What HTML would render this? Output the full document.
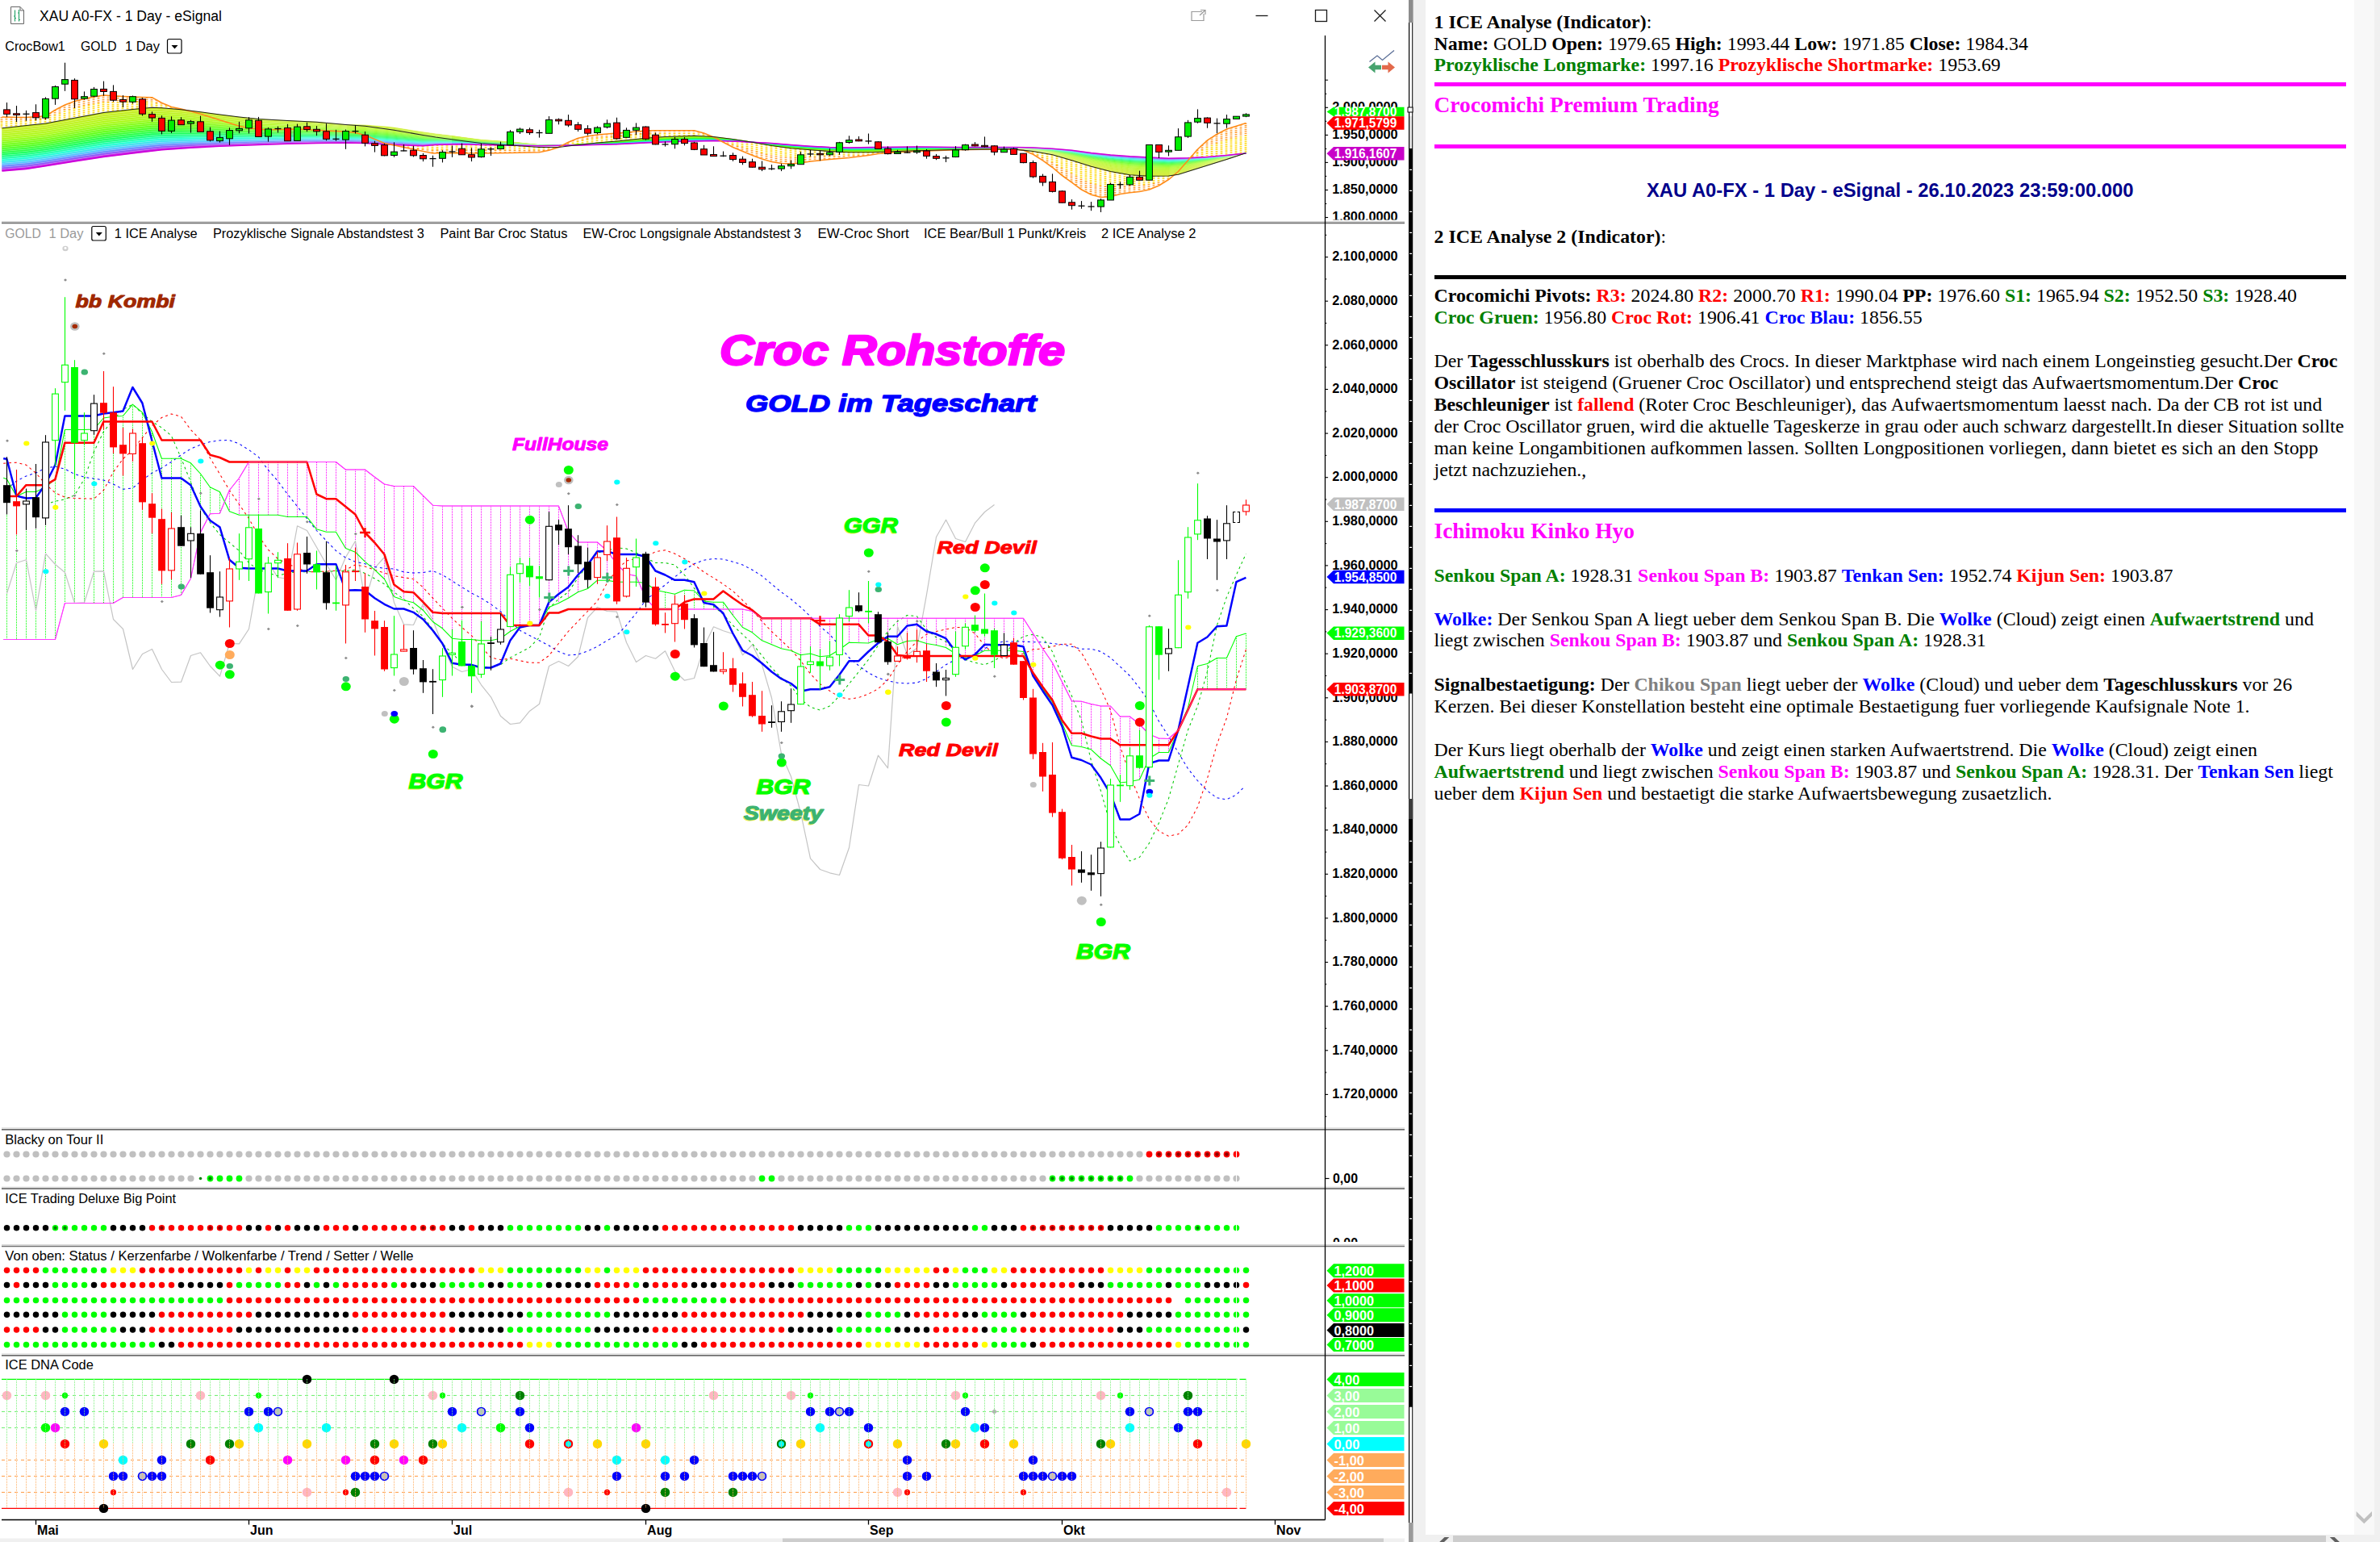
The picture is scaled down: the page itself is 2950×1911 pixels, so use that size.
<!DOCTYPE html>
<html><head><meta charset="utf-8"><title>XAU A0-FX</title>
<style>
html,body{margin:0;padding:0;background:#fff;}
body{width:2950px;height:1911px;position:relative;overflow:hidden;font-family:"Liberation Sans",sans-serif;}
#chart{position:absolute;left:0;top:0;}
#pane{position:absolute;left:1767px;top:0;width:1151px;height:1902px;background:#fff;font-family:"Liberation Serif",serif;font-size:23.86px;line-height:26.9px;color:#000;}
#pane .t{position:absolute;left:10.5px;width:1130.5px;white-space:normal;}
#pane b{font-weight:bold}
.hr{position:absolute;left:10.5px;width:1130px;height:4.6px;}
.g{color:#008000}.r{color:#ff0000}.b{color:#0000ff}.m{color:#ff00ff}.gy{color:#808080}
.h3{font-size:27.45px;font-weight:bold;color:#ff00ff;}
</style></head><body>

<div style="position:absolute;left:1751px;top:0;width:16px;height:1911px;background:#f0f0f0"></div>
<div style="position:absolute;left:2918px;top:0;width:25px;height:1911px;background:#f8f8f8"></div>
<div style="position:absolute;left:2943px;top:0;width:7px;height:1911px;background:#f0f0f0"></div>
<div style="position:absolute;left:1767px;top:1902px;width:1183px;height:9px;background:#f0f0f0"></div>
<div style="position:absolute;left:1801px;top:1903px;width:1082px;height:8px;background:#cdcdcd"></div>
<div id="pane">
<div class="t" style="top:13.6px;"><b>1 ICE Analyse (Indicator)</b>:<br><b>Name:</b> GOLD <b>Open:</b> 1979.65 <b>High:</b> 1993.44 <b>Low:</b> 1971.85 <b>Close:</b> 1984.34<br><b class="g">Prozyklische Longmarke:</b> 1997.16 <b class="r">Prozyklische Shortmarke:</b> 1953.69</div>
<div class="hr" style="top:102.4px;background:#ff00ff"></div>
<div class="t" style="top:114.5px;line-height:31px;"><span class="h3">Crocomichi Premium Trading</span></div>
<div class="hr" style="top:179.2px;background:#ff00ff"></div>
<div class="t" style="top:223px;text-align:center;"><b style="font-family:'Liberation Sans',sans-serif;font-size:23.8px;color:#00008b">XAU A0-FX - 1 Day - eSignal - 26.10.2023 23:59:00.000</b></div>
<div class="t" style="top:280.3px;"><b>2 ICE Analyse 2 (Indicator)</b>:</div>
<div class="hr" style="top:341.2px;background:#000"></div>
<div class="t" style="top:353.3px;"><b>Crocomichi Pivots:</b> <b class="r">R3:</b> 2024.80 <b class="r">R2:</b> 2000.70 <b class="r">R1:</b> 1990.04 <b>PP:</b> 1976.60 <b class="g">S1:</b> 1965.94 <b class="g">S2:</b> 1952.50 <b class="g">S3:</b> 1928.40<br><b class="g">Croc Gruen:</b> 1956.80 <b class="r">Croc Rot:</b> 1906.41 <b class="b">Croc Blau:</b> 1856.55</div>
<div class="t" style="top:434px;">Der <b>Tagesschlusskurs</b> ist oberhalb des Crocs. In dieser Marktphase wird nach einem Longeinstieg gesucht.Der <b>Croc Oscillator</b> ist steigend (Gruener Croc Oscillator) und entsprechend steigt das Aufwaertsmomentum.Der <b>Croc Beschleuniger</b> ist <b class="r">fallend</b> (Roter Croc Beschleuniger), das Aufwaertsmomentum laesst nach. Da der CB rot ist und der Croc Oscillator gruen, wird die aktuelle Tageskerze in grau oder auch schwarz dargestellt.In dieser Situation sollte man keine Longambitionen aufkommen lassen. Sollten Longpositionen vorliegen, dann bietet es sich an den Stopp jetzt nachzuziehen.,</div>
<div class="hr" style="top:630px;background:#0000ff"></div>
<div class="t" style="top:643px;line-height:31px;"><span class="h3">Ichimoku Kinko Hyo</span></div>
<div class="t" style="top:699.5px;"><b class="g">Senkou Span A:</b> 1928.31 <b class="m">Senkou Span B:</b> 1903.87 <b class="b">Tenkan Sen:</b> 1952.74 <b class="r">Kijun Sen:</b> 1903.87</div>
<div class="t" style="top:753.5px;"><b class="b">Wolke:</b> Der Senkou Span A liegt ueber dem Senkou Span B. Die <b class="b">Wolke</b> (Cloud) zeigt einen <b class="g">Aufwaertstrend</b> und liegt zwischen <b class="m">Senkou Span B:</b> 1903.87 und <b class="g">Senkou Span A:</b> 1928.31</div>
<div class="t" style="top:835px;"><b>Signalbestaetigung:</b> Der <b class="gy">Chikou Span</b> liegt ueber der <b class="b">Wolke</b> (Cloud) und ueber dem <b>Tageschlusskurs</b> vor 26 Kerzen. Bei dieser Konstellation besteht eine optimale Bestaetigung fuer vorliegende Kaufsignale Note 1.</div>
<div class="t" style="top:916px;">Der Kurs liegt oberhalb der <b class="b">Wolke</b> und zeigt einen starken Aufwaertstrend. Die <b class="b">Wolke</b> (Cloud) zeigt einen <b class="g">Aufwaertstrend</b> und liegt zwischen <b class="m">Senkou Span B:</b> 1903.87 und <b class="g">Senkou Span A:</b> 1928.31. Der <b class="b">Tenkan Sen</b> liegt ueber dem <b class="r">Kijun Sen</b> und bestaetigt die starke Aufwaertsbewegung zusaetzlich.</div>
</div>
<svg style="position:absolute;left:2900px;top:1860px" width="50" height="51"><path d="M20.6 13 L30.3 22.5 L40 13 V18.7 L30.3 28.2 L20.6 18.7 Z" fill="#c0c0c0"/></svg>
<svg style="position:absolute;left:1780px;top:1902px" width="30" height="9"><path d="M16.3 3 H10.5 L3.7 9.5 H9.5 Z" fill="#606060"/></svg>
<svg style="position:absolute;left:2884px;top:1902px" width="30" height="9"><path d="M3.8 3 H9.6 L16.4 9.5 H10.6 Z" fill="#606060"/></svg>
<svg id="chart" width="1752" height="1911" viewBox="0 0 1752 1911" font-family="Liberation Sans, sans-serif">
<g stroke="#666" fill="none" stroke-width="1"><path d="M13.5 8.5 H25 L29.5 13 V29.5 H13.5 Z" fill="#fff"/><path d="M25 8.5 V13 H29.5"/></g>
<g stroke="#2aa36b" stroke-width="1.2"><path d="M18.5 12.5 V26.5 M23.5 12 V26.5"/><path d="M17 20 H18.5 M18.5 22.5 H20 M22 16 H23.5 M23.5 24.5 H25"/></g>
<text x="49" y="26.3" font-size="18" fill="#000" textLength="226" lengthAdjust="spacingAndGlyphs" >XAU A0-FX - 1 Day - eSignal</text>
<g stroke="#9a9a9a" fill="none" stroke-width="1.2"><path d="M1490 14.5 H1477 V25.5 H1492 V17"/><path d="M1488 12.5 H1494 V18 M1494 12.5 L1487 19"/></g>
<g stroke="#1a1a1a" fill="none" stroke-width="1.3"><path d="M1556.5 19.5 H1571.5"/><rect x="1630.5" y="12.5" width="14" height="14"/><path d="M1703.5 12.5 L1717.5 26.5 M1717.5 12.5 L1703.5 26.5"/></g>
<rect x="1741" y="0" width="4" height="1911" fill="#fff"/>
<rect x="1746" y="0" width="5.2" height="1911" fill="#000"/>
<rect x="1746" y="0" width="5.2" height="28" fill="#8c8c8c"/>
<rect x="1747.2" y="28" width="3" height="116" fill="#fff"/>
<rect x="1747.2" y="144" width="3" height="40" fill="#e4e4e4"/>
<rect x="1747.2" y="859.5" width="3" height="130.5" fill="#fff"/>
<rect x="1747.2" y="1743.7" width="3" height="143.29999999999995" fill="#fff"/>
<rect x="1746" y="990" width="5.2" height="25" fill="#3c3c3c"/>
<rect x="1746" y="1887" width="5.2" height="24" fill="#9a9a9a"/>
<rect x="1745" y="133" width="6" height="6" fill="#fff" stroke="#000" stroke-width="1"/>
<path d="M1747.1 210.4h3 M1747.1 236.4h3 M1747.1 262.4h3 M1747.1 288.4h3 M1747.1 314.4h3 M1747.1 340.4h3 M1747.1 366.4h3 M1747.1 392.4h3 M1747.1 418.4h3 M1747.1 444.4h3 M1747.1 470.4h3 M1747.1 496.4h3 M1747.1 522.4h3 M1747.1 548.4h3 M1747.1 574.4h3 M1747.1 600.4h3 M1747.1 626.4h3 M1747.1 652.4h3 M1747.1 678.4h3 M1747.1 704.4h3 M1747.1 730.4h3 M1747.1 756.4h3 M1747.1 782.4h3 M1747.1 808.4h3 M1747.1 834.4h3 M1747.1 1042.4h3 M1747.1 1068.4h3 M1747.1 1094.4h3 M1747.1 1120.4h3 M1747.1 1146.4h3 M1747.1 1172.4h3 M1747.1 1198.4h3 M1747.1 1224.4h3 M1747.1 1250.4h3 M1747.1 1276.4h3 M1747.1 1302.4h3 M1747.1 1328.4h3 M1747.1 1354.4h3 M1747.1 1380.4h3 M1747.1 1406.4h3 M1747.1 1432.4h3 M1747.1 1458.4h3 M1747.1 1484.4h3 M1747.1 1510.4h3 M1747.1 1536.4h3 M1747.1 1562.4h3 M1747.1 1588.4h3 M1747.1 1614.4h3 M1747.1 1640.4h3 M1747.1 1666.4h3 M1747.1 1692.4h3 M1747.1 1718.4h3 " stroke="#fff" stroke-width="1.1"/>
<path d="M1697.5 76.5 L1707 69 L1713.5 74.5 L1728 62.5" stroke="#5b6f97" stroke-width="1.3" fill="none"/>
<path d="M1696 83.5 L1704.5 76.5 V80.8 H1712 V86.2 H1704.5 V90.5 Z" fill="#47a36e"/>
<path d="M1729 83.5 L1720.5 76.5 V80.8 H1713 V86.2 H1720.5 V90.5 Z" fill="#e3694b"/>
<rect x="0" y="1906.5" width="1741" height="5" fill="#f0f0f0"/>
<rect x="970" y="1906.5" width="745" height="5" fill="#cdcdcd"/>
<text x="6.3" y="63.3" font-size="17.3" fill="#000" textLength="74.5" lengthAdjust="spacingAndGlyphs" >CrocBow1</text>
<text x="100" y="63.3" font-size="17.3" fill="#000" textLength="44.5" lengthAdjust="spacingAndGlyphs" >GOLD</text>
<text x="155" y="63.3" font-size="17.3" fill="#000" textLength="43" lengthAdjust="spacingAndGlyphs" >1 Day</text>
<rect x="207.5" y="48.5" width="17.5" height="17.5" rx="2" fill="#fff" stroke="#000" stroke-width="1.2"/>
<path d="M212.5 56.0 h8 l-4 4.5 Z" fill="#000"/>
<path d="M2 150.5V158.8M8 150.3V158.2M14 150.1V157.5M20 149.9V156.9M26 149.7V156.2M32 149.5V155.6M38 149V155M44 148.5V154.3M50 148V153.7M56 147.5V153.1M62 145V152M68 142.3V150.8M74 139.9V149.7M80 137.6V148.6M86 135.8V147.5M92 133.9V146.3M98 132.6V145.2M104 131.2V144.1M110 130V143M116 128.8V141.8M122 127.7V140.7M128 126.7V139.6M134 126.6V138.9M140 126.5V138.2M146 126.5V137.6M152 126.4V136.9M158 126.3V136.2M164 126.2V135.6M170 126.1V135M176 126.1V134.4M182 125.9V133.9M188 125.8V133.3M194 127.7V133.5M200 129.8V133.7M206 131.6V134.2M212 133.3V134.7M218 134.3V135.2M224 135.2V135.7M494 179.7V180.6M500 179.9V181.4M506 180.1V182.2M512 180.3V183.1M518 180.5V183.9M524 180.7V184.7M530 180.3V185.3M536 179.8V185.9M542 179.5V185.6M548 179.3V185.4M554 179.2V185.4M560 179V185.5M566 178.9V185.5M572 178.8V185.5M578 178.9V185.6M584 179.1V185.6M590 179.3V185.7M596 179.5V185.8M602 179.6V185.8M608 179.7V185.8M614 179.8V185.8M620 179.9V185.8M626 180V185.8M632 180.1V185.8M638 180.4V185.8M644 180.8V185.9M650 181.2V186M656 181.6V186.1M662 182V186.2M668 182.5V186.2M674 182.5V185.6M680 182.5V184.8M686 182.5V183.7M704 178V180.2M710 176.4V180.1M716 174.7V179.6M722 173.6V178.9M728 172.6V178.3M734 171.8V177.7M740 171.1V177.1M746 170.5V176.5M752 170V176M758 169.5V175.5M764 169V175M770 168.5V174.4M776 167.9V173.8M782 167.4V173.2M788 166.8V172.6M794 166.3V171.9M800 165.7V171.3M806 165.5V170.8M812 165.2V170.4M818 165V170M824 164.9V169.5M830 164.8V169.3M836 164.7V169.1M842 164.6V169M848 164.6V168.8M854 164.5V168.5M860 164.4V168.3M866 165.4V168.5M872 166.5V168.8M878 168V169.2M896 174.7V175.5M902 174.9V177.4M908 175V179.3M914 175.3V181M920 175.6V182.6M926 175.9V184.2M932 176.2V185.9M938 177.2V187.6M944 178.3V189.4M950 179.3V190.9M956 180.4V192.4M962 181.2V193.3M968 182.1V194.3M974 182.9V194.8M980 183.7V195.3M986 184.2V195.2M992 184.7V195.1M998 185.2V194.7M1004 185.7V194.3M1010 186.2V194.1M1016 186.6V193.9M1022 187V193.7M1028 187.5V193.5M1034 187.8V193.3M1040 188.1V193.2M1046 188.4V193M1052 188.7V192.8M1058 188.8V192.4M1064 188.8V191.9M1070 188.8V191.5M1076 188.8V191M1082 188.7V190.4M1088 188.4V189.7M1094 188.2V189.3M1100 188V189M1106 187.8V188.6M1112 187.5V188.3M1118 187.3V188M1124 187.1V187.7M1130 187V187.5M1274 186.8V187.9M1280 187.4V189.6M1286 188.5V192.2M1292 189.5V194.9M1298 190.6V197.9M1304 191.7V200.9M1310 193.4V204.6M1316 195.1V208.3M1322 196.9V211.6M1328 198.6V215M1334 200.5V218.3M1340 202.3V221.7M1346 204.2V224.4M1352 206.1V227M1358 207.7V228.7M1364 209.2V230.3M1370 210.8V230.8M1376 212.4V231.2M1382 213.5V230.7M1388 214.5V230.2M1394 215.6V230.1M1400 216.7V230M1406 217.1V229.7M1412 217.5V229.5M1418 217.8V228.9M1424 218.2V228.3M1430 218.2V226.9M1436 218.1V225.4M1442 218.1V223.2M1448 218V220.9M1478 193.7V195.5M1484 189.4V195.2M1490 185.8V194.8M1496 182.3V194.5M1502 179.8V194M1508 177.4V193.5M1514 175.2V193M1520 173.2V192.5M1526 171.7V191.9M1532 170.4V191.3M1538 169V190.7M1544 167.5V189.7" stroke="#ffdc1e" stroke-width="2.8" stroke-dasharray="1.5 0.9"/>
<path d="M2 145V150.5M8 145.1V150.3M14 145.2V150.1M20 145.3V149.9M26 145.4V149.7M32 145.5V149.5M38 145.1V149M44 144.7V148.5M50 144.2V148M56 143.8V147.5M62 140.3V145M68 136.6V142.3M74 133.4V139.9M80 130.3V137.6M86 127.9V135.8M92 125.7V133.9M98 124.1V132.6M104 122.6V131.2M110 121.4V130M116 120.1V128.8M122 119.1V127.7M128 118.1V126.7M134 118.3V126.6M140 118.7V126.5M146 119.1V126.5M152 119.5V126.4M158 119.7V126.3M164 120V126.2M170 120.2V126.1M176 120.5V126.1M182 120.6V125.9M188 120.7V125.8M194 123.8V127.7M200 127.2V129.8M206 129.8V131.6M212 132.3V133.3M218 133.6V134.3M224 134.9V135.2M494 180.6V181.1M500 181.4V182.4M506 182.2V183.6M512 183.1V184.9M518 183.9V186.1M524 184.7V187.4M530 185.3V188.6M536 185.9V189.9M542 185.6V189.8M548 185.4V189.5M554 185.4V189.6M560 185.5V189.7M566 185.5V189.9M572 185.5V190M578 185.6V190M584 185.6V190M590 185.7V190M596 185.8V190M602 185.8V189.9M608 185.8V189.8M614 185.8V189.8M620 185.8V189.7M626 185.8V189.6M632 185.8V189.5M638 185.8V189.4M644 185.9V189.3M650 186V189.1M656 186.1V189M662 186.2V188.9M668 186.2V188.8M674 185.6V187.6M680 184.8V186.4M686 183.7V184.5M704 176.5V178M710 174V176.4M716 171.5V174.7M722 170.1V173.6M728 168.9V172.6M734 167.9V171.8M740 167.1V171.1M746 166.5V170.5M752 166V170M758 165.5V169.5M764 165V169M770 164.5V168.5M776 164V167.9M782 163.5V167.4M788 163V166.8M794 162.5V166.3M800 162V165.7M806 161.9V165.5M812 161.8V165.2M818 161.8V165M824 161.8V164.9M830 161.8V164.8M836 161.8V164.7M842 161.8V164.6M848 161.8V164.6M854 161.8V164.5M860 161.8V164.4M866 163.2V165.4M872 164.9V166.5M878 167.3V168M896 175.5V176M902 177.4V179.1M908 179.3V182.2M914 181V184.8M920 182.6V187.3M926 184.2V189.8M932 185.9V192.3M938 187.6V194.6M944 189.4V196.8M950 190.9V198.6M956 192.4V200.4M962 193.3V201.4M968 194.3V202.4M974 194.8V202.7M980 195.3V203M986 195.2V202.5M992 195.1V202M998 194.7V201.1M1004 194.3V200.1M1010 194.1V199.4M1016 193.9V198.8M1022 193.7V198.2M1028 193.5V197.6M1034 193.3V197M1040 193.2V196.5M1046 193V196M1052 192.8V195.5M1058 192.4V194.8M1064 191.9V194.1M1070 191.5V193.3M1076 191V192.6M1082 190.4V191.6M1088 189.7V190.6M1094 189.3V190.1M1100 189V189.7M1106 188.6V189.2M1112 188.3V188.8M1118 188V188.5M1124 187.7V188.2M1130 187.5V187.8M1274 187.9V188.5M1280 189.6V191M1286 192.2V194.7M1292 194.9V198.4M1298 197.9V202.8M1304 200.9V207.1M1310 204.6V212.1M1316 208.3V217.1M1322 211.6V221.5M1328 215V225.9M1334 218.3V230.3M1340 221.7V234.6M1346 224.4V237.9M1352 227V241M1358 228.7V242.7M1364 230.3V244.4M1370 230.8V244.2M1376 231.2V243.8M1382 230.7V242.3M1388 230.2V240.6M1394 230.1V239.7M1400 230V238.8M1406 229.7V238.2M1412 229.5V237.6M1418 228.9V236.4M1424 228.3V235.1M1430 226.9V232.7M1436 225.4V230.2M1442 223.2V226.6M1448 220.9V222.8M1478 192.4V193.7M1484 185.6V189.4M1490 179.8V185.8M1496 174.2V182.3M1502 170.3V179.8M1508 166.6V177.4M1514 163.4V175.2M1520 160.3V173.2M1526 158.3V171.7M1532 156.4V170.4M1538 154.5V169M1544 152.7V167.5" stroke="#ff9a28" stroke-width="2.8" stroke-dasharray="1.3 1.1"/>
<path d="M2.5 158.8 L32.5 155.6 L56.5 153 L92.5 146.2 L128.5 139.5 L164.5 135.5 L188.5 133.2 L200.5 133.8 L224.5 135.8 L236.5 137.2 L248.5 138.8 L272.5 142 L296.5 145 L320.5 147.5 L356.5 149.5 L392.5 151.2 L428.5 154.5 L430 154.6 L452.5 154.9 L480 157.1 L488.5 158.1 L524.5 163.7 L540 165.9 L560 168.3 L572.5 170.1 L596.5 173.2 L632.5 176 L640 176.5 L668.5 179.6 L690 180.5 L692.5 180.6 L716.5 178.8 L730 178.1 L740.5 177 L764.5 175 L800.5 171.2 L824.5 169.5 L836.5 169.1 L848.5 168.8 L860.5 168.2 L884.5 169.5 L908.5 172.5 L932.5 176.2 L956.5 180.5 L980.5 183.8 L1004.5 185.8 L1028.5 187.5 L1052.5 188.8 L1080 188.8 L1112.5 187.5 L1136.5 186.8 L1184.5 185.5 L1232.5 185 L1256.5 185 L1262 185.6 L1262 185.4 L1256.5 184.9 L1232.5 184.9 L1184.5 185.4 L1136.5 186.5 L1112.5 187.3 L1080 188.5 L1052.5 188.5 L1028.5 187.3 L1004.5 185.5 L980.5 183.6 L956.5 180.4 L932.5 176.2 L908.5 172.6 L884.5 169.7 L860.5 168.6 L848.5 169 L836.5 169.4 L824.5 169.8 L800.5 171.5 L764.5 175.2 L740.5 177.1 L730 178.2 L716.5 178.9 L692.5 180.6 L690 180.5 L668.5 179.7 L640 176.7 L632.5 176.1 L596.5 173.5 L572.5 170.5 L560 168.8 L540 166.5 L524.5 164.4 L488.5 159.1 L480 158.1 L452.5 155.9 L430 155.6 L428.5 155.5 L392.5 152.4 L356.5 150.8 L320.5 149 L296.5 146.6 L272.5 143.8 L248.5 140.7 L236.5 139.3 L224.5 137.9 L200.5 136.1 L188.5 135.7 L164.5 138 L128.5 142 L92.5 148.7 L56.5 155.4 L32.5 158 L2.5 161.2Z" fill="#caec1d" stroke="#caec1d" stroke-width="0.4"/>
<path d="M2.5 161.2 L32.5 158 L56.5 155.4 L92.5 148.7 L128.5 142 L164.5 138 L188.5 135.7 L200.5 136.1 L224.5 137.9 L236.5 139.3 L248.5 140.7 L272.5 143.8 L296.5 146.6 L320.5 149 L356.5 150.8 L392.5 152.4 L428.5 155.5 L430 155.6 L452.5 155.9 L480 158.1 L488.5 159.1 L524.5 164.4 L540 166.5 L560 168.8 L572.5 170.5 L596.5 173.5 L632.5 176.1 L640 176.7 L668.5 179.7 L690 180.5 L692.5 180.6 L716.5 178.9 L730 178.2 L740.5 177.1 L764.5 175.2 L800.5 171.5 L824.5 169.8 L836.5 169.4 L848.5 169 L860.5 168.6 L884.5 169.7 L908.5 172.6 L932.5 176.2 L956.5 180.4 L980.5 183.6 L1004.5 185.5 L1028.5 187.3 L1052.5 188.5 L1080 188.5 L1112.5 187.3 L1136.5 186.5 L1184.5 185.4 L1232.5 184.9 L1256.5 184.9 L1262 185.4 L1262 185.3 L1256.5 184.8 L1232.5 184.8 L1184.5 185.2 L1136.5 186.3 L1112.5 187 L1080 188.2 L1052.5 188.2 L1028.5 187 L1004.5 185.3 L980.5 183.4 L956.5 180.2 L932.5 176.2 L908.5 172.7 L884.5 170 L860.5 168.9 L848.5 169.3 L836.5 169.7 L824.5 170.1 L800.5 171.8 L764.5 175.3 L740.5 177.2 L730 178.2 L716.5 178.9 L692.5 180.6 L690 180.5 L668.5 179.7 L640 176.9 L632.5 176.3 L596.5 173.8 L572.5 170.9 L560 169.2 L540 167.1 L524.5 165.2 L488.5 160 L480 159.1 L452.5 157 L430 156.6 L428.5 156.5 L392.5 153.6 L356.5 152.1 L320.5 150.4 L296.5 148.2 L272.5 145.6 L248.5 142.7 L236.5 141.4 L224.5 140.1 L200.5 138.5 L188.5 138.2 L164.5 140.5 L128.5 144.5 L92.5 151.1 L56.5 157.8 L32.5 160.5 L2.5 163.6Z" fill="#c3ef1b" stroke="#c3ef1b" stroke-width="0.4"/>
<path d="M2.5 163.6 L32.5 160.5 L56.5 157.8 L92.5 151.1 L128.5 144.5 L164.5 140.5 L188.5 138.2 L200.5 138.5 L224.5 140.1 L236.5 141.4 L248.5 142.7 L272.5 145.6 L296.5 148.2 L320.5 150.4 L356.5 152.1 L392.5 153.6 L428.5 156.5 L430 156.6 L452.5 157 L480 159.1 L488.5 160 L524.5 165.2 L540 167.1 L560 169.2 L572.5 170.9 L596.5 173.8 L632.5 176.3 L640 176.9 L668.5 179.7 L690 180.5 L692.5 180.6 L716.5 178.9 L730 178.2 L740.5 177.2 L764.5 175.3 L800.5 171.8 L824.5 170.1 L836.5 169.7 L848.5 169.3 L860.5 168.9 L884.5 170 L908.5 172.7 L932.5 176.2 L956.5 180.2 L980.5 183.4 L1004.5 185.3 L1028.5 187 L1052.5 188.2 L1080 188.2 L1112.5 187 L1136.5 186.3 L1184.5 185.2 L1232.5 184.8 L1256.5 184.8 L1262 185.3 L1262 185.2 L1256.5 184.7 L1232.5 184.7 L1184.5 185.1 L1136.5 186.1 L1112.5 186.8 L1080 187.9 L1052.5 188 L1028.5 186.8 L1004.5 185.1 L980.5 183.2 L956.5 180.1 L932.5 176.2 L908.5 172.8 L884.5 170.2 L860.5 169.2 L848.5 169.6 L836.5 170 L824.5 170.4 L800.5 172 L764.5 175.5 L740.5 177.3 L730 178.3 L716.5 179 L692.5 180.6 L690 180.5 L668.5 179.8 L640 177 L632.5 176.5 L596.5 174.1 L572.5 171.3 L560 169.7 L540 167.7 L524.5 166 L488.5 161 L480 160.1 L452.5 158 L430 157.7 L428.5 157.6 L392.5 154.8 L356.5 153.4 L320.5 151.9 L296.5 149.8 L272.5 147.4 L248.5 144.7 L236.5 143.5 L224.5 142.3 L200.5 140.8 L188.5 140.6 L164.5 142.9 L128.5 147 L92.5 153.6 L56.5 160.2 L32.5 162.9 L2.5 166Z" fill="#bdf219" stroke="#bdf219" stroke-width="0.4"/>
<path d="M2.5 166 L32.5 162.9 L56.5 160.2 L92.5 153.6 L128.5 147 L164.5 142.9 L188.5 140.6 L200.5 140.8 L224.5 142.3 L236.5 143.5 L248.5 144.7 L272.5 147.4 L296.5 149.8 L320.5 151.9 L356.5 153.4 L392.5 154.8 L428.5 157.6 L430 157.7 L452.5 158 L480 160.1 L488.5 161 L524.5 166 L540 167.7 L560 169.7 L572.5 171.3 L596.5 174.1 L632.5 176.5 L640 177 L668.5 179.8 L690 180.5 L692.5 180.6 L716.5 179 L730 178.3 L740.5 177.3 L764.5 175.5 L800.5 172 L824.5 170.4 L836.5 170 L848.5 169.6 L860.5 169.2 L884.5 170.2 L908.5 172.8 L932.5 176.2 L956.5 180.1 L980.5 183.2 L1004.5 185.1 L1028.5 186.8 L1052.5 188 L1080 187.9 L1112.5 186.8 L1136.5 186.1 L1184.5 185.1 L1232.5 184.7 L1256.5 184.7 L1262 185.2 L1262 185 L1256.5 184.5 L1232.5 184.5 L1184.5 185 L1136.5 185.9 L1112.5 186.5 L1080 187.6 L1052.5 187.7 L1028.5 186.6 L1004.5 184.9 L980.5 183 L956.5 180 L932.5 176.2 L908.5 173 L884.5 170.4 L860.5 169.5 L848.5 169.9 L836.5 170.3 L824.5 170.7 L800.5 172.3 L764.5 175.7 L740.5 177.4 L730 178.4 L716.5 179 L692.5 180.6 L690 180.5 L668.5 179.8 L640 177.2 L632.5 176.7 L596.5 174.4 L572.5 171.7 L560 170.2 L540 168.4 L524.5 166.8 L488.5 162 L480 161.1 L452.5 159 L430 158.7 L428.5 158.6 L392.5 156 L356.5 154.7 L320.5 153.3 L296.5 151.4 L272.5 149.1 L248.5 146.7 L236.5 145.6 L224.5 144.5 L200.5 143.2 L188.5 143.1 L164.5 145.4 L128.5 149.5 L92.5 156 L56.5 162.6 L32.5 165.4 L2.5 168.4Z" fill="#b7f518" stroke="#b7f518" stroke-width="0.4"/>
<path d="M2.5 168.4 L32.5 165.4 L56.5 162.6 L92.5 156 L128.5 149.5 L164.5 145.4 L188.5 143.1 L200.5 143.2 L224.5 144.5 L236.5 145.6 L248.5 146.7 L272.5 149.1 L296.5 151.4 L320.5 153.3 L356.5 154.7 L392.5 156 L428.5 158.6 L430 158.7 L452.5 159 L480 161.1 L488.5 162 L524.5 166.8 L540 168.4 L560 170.2 L572.5 171.7 L596.5 174.4 L632.5 176.7 L640 177.2 L668.5 179.8 L690 180.5 L692.5 180.6 L716.5 179 L730 178.4 L740.5 177.4 L764.5 175.7 L800.5 172.3 L824.5 170.7 L836.5 170.3 L848.5 169.9 L860.5 169.5 L884.5 170.4 L908.5 173 L932.5 176.2 L956.5 180 L980.5 183 L1004.5 184.9 L1028.5 186.6 L1052.5 187.7 L1080 187.6 L1112.5 186.5 L1136.5 185.9 L1184.5 185 L1232.5 184.5 L1256.5 184.5 L1262 185 L1262 184.9 L1256.5 184.4 L1232.5 184.4 L1184.5 184.8 L1136.5 185.7 L1112.5 186.3 L1080 187.3 L1052.5 187.4 L1028.5 186.4 L1004.5 184.7 L980.5 182.8 L956.5 179.8 L932.5 176.2 L908.5 173.1 L884.5 170.6 L860.5 169.8 L848.5 170.2 L836.5 170.6 L824.5 171 L800.5 172.6 L764.5 175.9 L740.5 177.5 L730 178.4 L716.5 179.1 L692.5 180.6 L690 180.5 L668.5 179.9 L640 177.4 L632.5 176.9 L596.5 174.7 L572.5 172 L560 170.7 L540 169 L524.5 167.5 L488.5 163 L480 162.1 L452.5 160 L430 159.7 L428.5 159.6 L392.5 157.2 L356.5 156 L320.5 154.8 L296.5 153 L272.5 150.9 L248.5 148.7 L236.5 147.7 L224.5 146.7 L200.5 145.6 L188.5 145.5 L164.5 147.9 L128.5 152 L92.5 158.5 L56.5 165 L32.5 167.8 L2.5 170.9Z" fill="#b0f716" stroke="#b0f716" stroke-width="0.4"/>
<path d="M2.5 170.9 L32.5 167.8 L56.5 165 L92.5 158.5 L128.5 152 L164.5 147.9 L188.5 145.5 L200.5 145.6 L224.5 146.7 L236.5 147.7 L248.5 148.7 L272.5 150.9 L296.5 153 L320.5 154.8 L356.5 156 L392.5 157.2 L428.5 159.6 L430 159.7 L452.5 160 L480 162.1 L488.5 163 L524.5 167.5 L540 169 L560 170.7 L572.5 172 L596.5 174.7 L632.5 176.9 L640 177.4 L668.5 179.9 L690 180.5 L692.5 180.6 L716.5 179.1 L730 178.4 L740.5 177.5 L764.5 175.9 L800.5 172.6 L824.5 171 L836.5 170.6 L848.5 170.2 L860.5 169.8 L884.5 170.6 L908.5 173.1 L932.5 176.2 L956.5 179.8 L980.5 182.8 L1004.5 184.7 L1028.5 186.4 L1052.5 187.4 L1080 187.3 L1112.5 186.3 L1136.5 185.7 L1184.5 184.8 L1232.5 184.4 L1256.5 184.4 L1262 184.9 L1262 184.8 L1256.5 184.3 L1232.5 184.3 L1184.5 184.7 L1136.5 185.5 L1112.5 186.1 L1080 187 L1052.5 187.2 L1028.5 186.1 L1004.5 184.5 L980.5 182.6 L956.5 179.7 L932.5 176.2 L908.5 173.2 L884.5 170.9 L860.5 170.1 L848.5 170.5 L836.5 170.9 L824.5 171.3 L800.5 172.8 L764.5 176 L740.5 177.6 L730 178.5 L716.5 179.1 L692.5 180.6 L690 180.5 L668.5 179.9 L640 177.5 L632.5 177.1 L596.5 174.9 L572.5 172.4 L560 171.2 L540 169.6 L524.5 168.3 L488.5 163.9 L480 163.1 L452.5 161.1 L430 160.7 L428.5 160.6 L392.5 158.4 L356.5 157.3 L320.5 156.2 L296.5 154.6 L272.5 152.7 L248.5 150.7 L236.5 149.8 L224.5 148.9 L200.5 147.9 L188.5 148 L164.5 150.4 L128.5 154.5 L92.5 160.9 L56.5 167.4 L32.5 170.3 L2.5 173.3Z" fill="#aafa14" stroke="#aafa14" stroke-width="0.4"/>
<path d="M2.5 173.3 L32.5 170.3 L56.5 167.4 L92.5 160.9 L128.5 154.5 L164.5 150.4 L188.5 148 L200.5 147.9 L224.5 148.9 L236.5 149.8 L248.5 150.7 L272.5 152.7 L296.5 154.6 L320.5 156.2 L356.5 157.3 L392.5 158.4 L428.5 160.6 L430 160.7 L452.5 161.1 L480 163.1 L488.5 163.9 L524.5 168.3 L540 169.6 L560 171.2 L572.5 172.4 L596.5 174.9 L632.5 177.1 L640 177.5 L668.5 179.9 L690 180.5 L692.5 180.6 L716.5 179.1 L730 178.5 L740.5 177.6 L764.5 176 L800.5 172.8 L824.5 171.3 L836.5 170.9 L848.5 170.5 L860.5 170.1 L884.5 170.9 L908.5 173.2 L932.5 176.2 L956.5 179.7 L980.5 182.6 L1004.5 184.5 L1028.5 186.1 L1052.5 187.2 L1080 187 L1112.5 186.1 L1136.5 185.5 L1184.5 184.7 L1232.5 184.3 L1256.5 184.3 L1262 184.8 L1262 184.6 L1256.5 184.2 L1232.5 184.2 L1184.5 184.5 L1136.5 185.2 L1112.5 185.8 L1080 186.8 L1052.5 186.9 L1028.5 185.9 L1004.5 184.3 L980.5 182.4 L956.5 179.5 L932.5 176.2 L908.5 173.3 L884.5 171.1 L860.5 170.4 L848.5 170.8 L836.5 171.2 L824.5 171.6 L800.5 173.1 L764.5 176.2 L740.5 177.8 L730 178.6 L716.5 179.2 L692.5 180.5 L690 180.5 L668.5 180 L640 177.7 L632.5 177.3 L596.5 175.2 L572.5 172.8 L560 171.7 L540 170.2 L524.5 169.1 L488.5 164.9 L480 164.1 L452.5 162.1 L430 161.7 L428.5 161.7 L392.5 159.6 L356.5 158.6 L320.5 157.7 L296.5 156.3 L272.5 154.5 L248.5 152.7 L236.5 151.9 L224.5 151.1 L200.5 150.3 L188.5 150.4 L164.5 152.8 L128.5 157 L92.5 163.4 L56.5 169.8 L32.5 172.7 L2.5 175.7Z" fill="#98fb14" stroke="#98fb14" stroke-width="0.4"/>
<path d="M2.5 175.7 L32.5 172.7 L56.5 169.8 L92.5 163.4 L128.5 157 L164.5 152.8 L188.5 150.4 L200.5 150.3 L224.5 151.1 L236.5 151.9 L248.5 152.7 L272.5 154.5 L296.5 156.3 L320.5 157.7 L356.5 158.6 L392.5 159.6 L428.5 161.7 L430 161.7 L452.5 162.1 L480 164.1 L488.5 164.9 L524.5 169.1 L540 170.2 L560 171.7 L572.5 172.8 L596.5 175.2 L632.5 177.3 L640 177.7 L668.5 180 L690 180.5 L692.5 180.5 L716.5 179.2 L730 178.6 L740.5 177.8 L764.5 176.2 L800.5 173.1 L824.5 171.6 L836.5 171.2 L848.5 170.8 L860.5 170.4 L884.5 171.1 L908.5 173.3 L932.5 176.2 L956.5 179.5 L980.5 182.4 L1004.5 184.3 L1028.5 185.9 L1052.5 186.9 L1080 186.8 L1112.5 185.8 L1136.5 185.2 L1184.5 184.5 L1232.5 184.2 L1256.5 184.2 L1262 184.6 L1262 184.5 L1256.5 184.1 L1232.5 184.1 L1184.5 184.4 L1136.5 185 L1112.5 185.6 L1080 186.5 L1052.5 186.7 L1028.5 185.7 L1004.5 184.1 L980.5 182.2 L956.5 179.4 L932.5 176.2 L908.5 173.4 L884.5 171.3 L860.5 170.7 L848.5 171.1 L836.5 171.4 L824.5 171.9 L800.5 173.3 L764.5 176.4 L740.5 177.9 L730 178.7 L716.5 179.3 L692.5 180.5 L690 180.5 L668.5 180 L640 177.9 L632.5 177.5 L596.5 175.5 L572.5 173.2 L560 172.2 L540 170.8 L524.5 169.9 L488.5 165.9 L480 165.1 L452.5 163.1 L430 162.8 L428.5 162.7 L392.5 160.8 L356.5 160 L320.5 159.1 L296.5 157.9 L272.5 156.3 L248.5 154.7 L236.5 154 L224.5 153.3 L200.5 152.7 L188.5 152.9 L164.5 155.3 L128.5 159.5 L92.5 165.8 L56.5 172.2 L32.5 175.2 L2.5 178.1Z" fill="#86fc14" stroke="#86fc14" stroke-width="0.4"/>
<path d="M2.5 178.1 L32.5 175.2 L56.5 172.2 L92.5 165.8 L128.5 159.5 L164.5 155.3 L188.5 152.9 L200.5 152.7 L224.5 153.3 L236.5 154 L248.5 154.7 L272.5 156.3 L296.5 157.9 L320.5 159.1 L356.5 160 L392.5 160.8 L428.5 162.7 L430 162.8 L452.5 163.1 L480 165.1 L488.5 165.9 L524.5 169.9 L540 170.8 L560 172.2 L572.5 173.2 L596.5 175.5 L632.5 177.5 L640 177.9 L668.5 180 L690 180.5 L692.5 180.5 L716.5 179.3 L730 178.7 L740.5 177.9 L764.5 176.4 L800.5 173.3 L824.5 171.9 L836.5 171.4 L848.5 171.1 L860.5 170.7 L884.5 171.3 L908.5 173.4 L932.5 176.2 L956.5 179.4 L980.5 182.2 L1004.5 184.1 L1028.5 185.7 L1052.5 186.7 L1080 186.5 L1112.5 185.6 L1136.5 185 L1184.5 184.4 L1232.5 184.1 L1256.5 184.1 L1262 184.5 L1262 184.4 L1256.5 184 L1232.5 184 L1184.5 184.3 L1136.5 184.8 L1112.5 185.4 L1080 186.2 L1052.5 186.4 L1028.5 185.5 L1004.5 183.9 L980.5 182 L956.5 179.3 L932.5 176.2 L908.5 173.5 L884.5 171.5 L860.5 171 L848.5 171.4 L836.5 171.7 L824.5 172.2 L800.5 173.6 L764.5 176.5 L740.5 178 L730 178.7 L716.5 179.3 L692.5 180.5 L690 180.5 L668.5 180.1 L640 178 L632.5 177.7 L596.5 175.8 L572.5 173.6 L560 172.7 L540 171.4 L524.5 170.7 L488.5 166.8 L480 166.1 L452.5 164.1 L430 163.8 L428.5 163.7 L392.5 162 L356.5 161.3 L320.5 160.6 L296.5 159.5 L272.5 158.1 L248.5 156.7 L236.5 156.1 L224.5 155.5 L200.5 155 L188.5 155.3 L164.5 157.8 L128.5 162 L92.5 168.2 L56.5 174.6 L32.5 177.6 L2.5 180.5Z" fill="#73fd14" stroke="#73fd14" stroke-width="0.4"/>
<path d="M2.5 180.5 L32.5 177.6 L56.5 174.6 L92.5 168.2 L128.5 162 L164.5 157.8 L188.5 155.3 L200.5 155 L224.5 155.5 L236.5 156.1 L248.5 156.7 L272.5 158.1 L296.5 159.5 L320.5 160.6 L356.5 161.3 L392.5 162 L428.5 163.7 L430 163.8 L452.5 164.1 L480 166.1 L488.5 166.8 L524.5 170.7 L540 171.4 L560 172.7 L572.5 173.6 L596.5 175.8 L632.5 177.7 L640 178 L668.5 180.1 L690 180.5 L692.5 180.5 L716.5 179.3 L730 178.7 L740.5 178 L764.5 176.5 L800.5 173.6 L824.5 172.2 L836.5 171.7 L848.5 171.4 L860.5 171 L884.5 171.5 L908.5 173.5 L932.5 176.2 L956.5 179.3 L980.5 182 L1004.5 183.9 L1028.5 185.5 L1052.5 186.4 L1080 186.2 L1112.5 185.4 L1136.5 184.8 L1184.5 184.3 L1232.5 184 L1256.5 184 L1262 184.4 L1262 184.2 L1256.5 183.9 L1232.5 183.9 L1184.5 184.1 L1136.5 184.6 L1112.5 185.1 L1080 185.9 L1052.5 186.1 L1028.5 185.2 L1004.5 183.7 L980.5 181.8 L956.5 179.1 L932.5 176.2 L908.5 173.6 L884.5 171.8 L860.5 171.3 L848.5 171.7 L836.5 172 L824.5 172.5 L800.5 173.9 L764.5 176.7 L740.5 178.1 L730 178.8 L716.5 179.4 L692.5 180.5 L690 180.5 L668.5 180.1 L640 178.2 L632.5 177.8 L596.5 176.1 L572.5 174 L560 173.2 L540 172.1 L524.5 171.4 L488.5 167.8 L480 167.1 L452.5 165.2 L430 164.8 L428.5 164.7 L392.5 163.2 L356.5 162.6 L320.5 162 L296.5 161.1 L272.5 159.8 L248.5 158.7 L236.5 158.2 L224.5 157.7 L200.5 157.4 L188.5 157.8 L164.5 160.3 L128.5 164.5 L92.5 170.7 L56.5 177 L32.5 180.1 L2.5 183Z" fill="#61ff14" stroke="#61ff14" stroke-width="0.4"/>
<path d="M2.5 183 L32.5 180.1 L56.5 177 L92.5 170.7 L128.5 164.5 L164.5 160.3 L188.5 157.8 L200.5 157.4 L224.5 157.7 L236.5 158.2 L248.5 158.7 L272.5 159.8 L296.5 161.1 L320.5 162 L356.5 162.6 L392.5 163.2 L428.5 164.7 L430 164.8 L452.5 165.2 L480 167.1 L488.5 167.8 L524.5 171.4 L540 172.1 L560 173.2 L572.5 174 L596.5 176.1 L632.5 177.8 L640 178.2 L668.5 180.1 L690 180.5 L692.5 180.5 L716.5 179.4 L730 178.8 L740.5 178.1 L764.5 176.7 L800.5 173.9 L824.5 172.5 L836.5 172 L848.5 171.7 L860.5 171.3 L884.5 171.8 L908.5 173.6 L932.5 176.2 L956.5 179.1 L980.5 181.8 L1004.5 183.7 L1028.5 185.2 L1052.5 186.1 L1080 185.9 L1112.5 185.1 L1136.5 184.6 L1184.5 184.1 L1232.5 183.9 L1256.5 183.9 L1262 184.2 L1262 184.1 L1256.5 183.8 L1232.5 183.8 L1184.5 184 L1136.5 184.4 L1112.5 184.9 L1080 185.6 L1052.5 185.9 L1028.5 185 L1004.5 183.5 L980.5 181.6 L956.5 179 L932.5 176.2 L908.5 173.8 L884.5 172 L860.5 171.6 L848.5 172 L836.5 172.3 L824.5 172.8 L800.5 174.1 L764.5 176.9 L740.5 178.2 L730 178.9 L716.5 179.4 L692.5 180.5 L690 180.5 L668.5 180.2 L640 178.4 L632.5 178 L596.5 176.4 L572.5 174.4 L560 173.7 L540 172.7 L524.5 172.2 L488.5 168.8 L480 168 L452.5 166.2 L430 165.8 L428.5 165.8 L392.5 164.4 L356.5 163.9 L320.5 163.5 L296.5 162.7 L272.5 161.6 L248.5 160.7 L236.5 160.2 L224.5 159.9 L200.5 159.8 L188.5 160.2 L164.5 162.8 L128.5 167 L92.5 173.1 L56.5 179.4 L32.5 182.5 L2.5 185.4Z" fill="#4fff1f" stroke="#4fff1f" stroke-width="0.4"/>
<path d="M2.5 185.4 L32.5 182.5 L56.5 179.4 L92.5 173.1 L128.5 167 L164.5 162.8 L188.5 160.2 L200.5 159.8 L224.5 159.9 L236.5 160.2 L248.5 160.7 L272.5 161.6 L296.5 162.7 L320.5 163.5 L356.5 163.9 L392.5 164.4 L428.5 165.8 L430 165.8 L452.5 166.2 L480 168 L488.5 168.8 L524.5 172.2 L540 172.7 L560 173.7 L572.5 174.4 L596.5 176.4 L632.5 178 L640 178.4 L668.5 180.2 L690 180.5 L692.5 180.5 L716.5 179.4 L730 178.9 L740.5 178.2 L764.5 176.9 L800.5 174.1 L824.5 172.8 L836.5 172.3 L848.5 172 L860.5 171.6 L884.5 172 L908.5 173.8 L932.5 176.2 L956.5 179 L980.5 181.6 L1004.5 183.5 L1028.5 185 L1052.5 185.9 L1080 185.6 L1112.5 184.9 L1136.5 184.4 L1184.5 184 L1232.5 183.8 L1256.5 183.8 L1262 184.1 L1262 184 L1256.5 183.6 L1232.5 183.6 L1184.5 183.9 L1136.5 184.2 L1112.5 184.6 L1080 185.3 L1052.5 185.6 L1028.5 184.8 L1004.5 183.3 L980.5 181.4 L956.5 178.9 L932.5 176.2 L908.5 173.9 L884.5 172.2 L860.5 171.9 L848.5 172.3 L836.5 172.6 L824.5 173 L800.5 174.4 L764.5 177 L740.5 178.3 L730 178.9 L716.5 179.5 L692.5 180.5 L690 180.5 L668.5 180.2 L640 178.6 L632.5 178.2 L596.5 176.6 L572.5 174.8 L560 174.1 L540 173.3 L524.5 173 L488.5 169.8 L480 169 L452.5 167.2 L430 166.8 L428.5 166.8 L392.5 165.6 L356.5 165.2 L320.5 165 L296.5 164.3 L272.5 163.4 L248.5 162.7 L236.5 162.3 L224.5 162.1 L200.5 162.1 L188.5 162.7 L164.5 165.2 L128.5 169.5 L92.5 175.6 L56.5 181.8 L32.5 185 L2.5 187.8Z" fill="#3cff32" stroke="#3cff32" stroke-width="0.4"/>
<path d="M2.5 187.8 L32.5 185 L56.5 181.8 L92.5 175.6 L128.5 169.5 L164.5 165.2 L188.5 162.7 L200.5 162.1 L224.5 162.1 L236.5 162.3 L248.5 162.7 L272.5 163.4 L296.5 164.3 L320.5 165 L356.5 165.2 L392.5 165.6 L428.5 166.8 L430 166.8 L452.5 167.2 L480 169 L488.5 169.8 L524.5 173 L540 173.3 L560 174.1 L572.5 174.8 L596.5 176.6 L632.5 178.2 L640 178.6 L668.5 180.2 L690 180.5 L692.5 180.5 L716.5 179.5 L730 178.9 L740.5 178.3 L764.5 177 L800.5 174.4 L824.5 173 L836.5 172.6 L848.5 172.3 L860.5 171.9 L884.5 172.2 L908.5 173.9 L932.5 176.2 L956.5 178.9 L980.5 181.4 L1004.5 183.3 L1028.5 184.8 L1052.5 185.6 L1080 185.3 L1112.5 184.6 L1136.5 184.2 L1184.5 183.9 L1232.5 183.6 L1256.5 183.6 L1262 184 L1262 183.8 L1256.5 183.5 L1232.5 183.5 L1184.5 183.7 L1136.5 183.9 L1112.5 184.4 L1080 185.1 L1052.5 185.4 L1028.5 184.5 L1004.5 183.1 L980.5 181.2 L956.5 178.7 L932.5 176.2 L908.5 174 L884.5 172.5 L860.5 172.2 L848.5 172.6 L836.5 172.9 L824.5 173.3 L800.5 174.6 L764.5 177.2 L740.5 178.4 L730 179 L716.5 179.5 L692.5 180.5 L690 180.4 L668.5 180.3 L640 178.7 L632.5 178.4 L596.5 176.9 L572.5 175.2 L560 174.6 L540 173.9 L524.5 173.8 L488.5 170.7 L480 170 L452.5 168.3 L430 167.9 L428.5 167.8 L392.5 166.8 L356.5 166.5 L320.5 166.4 L296.5 165.9 L272.5 165.2 L248.5 164.7 L236.5 164.4 L224.5 164.3 L200.5 164.5 L188.5 165.1 L164.5 167.7 L128.5 172 L92.5 178 L56.5 184.2 L32.5 187.4 L2.5 190.2Z" fill="#29ff45" stroke="#29ff45" stroke-width="0.4"/>
<path d="M2.5 190.2 L32.5 187.4 L56.5 184.2 L92.5 178 L128.5 172 L164.5 167.7 L188.5 165.1 L200.5 164.5 L224.5 164.3 L236.5 164.4 L248.5 164.7 L272.5 165.2 L296.5 165.9 L320.5 166.4 L356.5 166.5 L392.5 166.8 L428.5 167.8 L430 167.9 L452.5 168.3 L480 170 L488.5 170.7 L524.5 173.8 L540 173.9 L560 174.6 L572.5 175.2 L596.5 176.9 L632.5 178.4 L640 178.7 L668.5 180.3 L690 180.4 L692.5 180.5 L716.5 179.5 L730 179 L740.5 178.4 L764.5 177.2 L800.5 174.6 L824.5 173.3 L836.5 172.9 L848.5 172.6 L860.5 172.2 L884.5 172.5 L908.5 174 L932.5 176.2 L956.5 178.7 L980.5 181.2 L1004.5 183.1 L1028.5 184.5 L1052.5 185.4 L1080 185.1 L1112.5 184.4 L1136.5 183.9 L1184.5 183.7 L1232.5 183.5 L1256.5 183.5 L1262 183.8 L1262 183.7 L1256.5 183.4 L1232.5 183.4 L1184.5 183.6 L1136.5 183.7 L1112.5 184.2 L1080 184.8 L1052.5 185.1 L1028.5 184.3 L1004.5 182.9 L980.5 181 L956.5 178.6 L932.5 176.2 L908.5 174.1 L884.5 172.7 L860.5 172.5 L848.5 172.9 L836.5 173.2 L824.5 173.6 L800.5 174.9 L764.5 177.4 L740.5 178.5 L730 179.1 L716.5 179.6 L692.5 180.5 L690 180.4 L668.5 180.3 L640 178.9 L632.5 178.6 L596.5 177.2 L572.5 175.6 L560 175.1 L540 174.5 L524.5 174.5 L488.5 171.7 L480 171 L452.5 169.3 L430 168.9 L428.5 168.8 L392.5 168 L356.5 167.8 L320.5 167.9 L296.5 167.5 L272.5 167 L248.5 166.6 L236.5 166.5 L224.5 166.5 L200.5 166.8 L188.5 167.6 L164.5 170.2 L128.5 174.5 L92.5 180.5 L56.5 186.6 L32.5 189.9 L2.5 192.6Z" fill="#17ff57" stroke="#17ff57" stroke-width="0.4"/>
<path d="M2.5 192.6 L32.5 189.9 L56.5 186.6 L92.5 180.5 L128.5 174.5 L164.5 170.2 L188.5 167.6 L200.5 166.8 L224.5 166.5 L236.5 166.5 L248.5 166.6 L272.5 167 L296.5 167.5 L320.5 167.9 L356.5 167.8 L392.5 168 L428.5 168.8 L430 168.9 L452.5 169.3 L480 171 L488.5 171.7 L524.5 174.5 L540 174.5 L560 175.1 L572.5 175.6 L596.5 177.2 L632.5 178.6 L640 178.9 L668.5 180.3 L690 180.4 L692.5 180.5 L716.5 179.6 L730 179.1 L740.5 178.5 L764.5 177.4 L800.5 174.9 L824.5 173.6 L836.5 173.2 L848.5 172.9 L860.5 172.5 L884.5 172.7 L908.5 174.1 L932.5 176.2 L956.5 178.6 L980.5 181 L1004.5 182.9 L1028.5 184.3 L1052.5 185.1 L1080 184.8 L1112.5 184.2 L1136.5 183.7 L1184.5 183.6 L1232.5 183.4 L1256.5 183.4 L1262 183.7 L1262 183.6 L1256.5 183.3 L1232.5 183.3 L1184.5 183.5 L1136.5 183.5 L1112.5 183.9 L1080 184.5 L1052.5 184.8 L1028.5 184.1 L1004.5 182.7 L980.5 180.9 L956.5 178.5 L932.5 176.2 L908.5 174.2 L884.5 172.9 L860.5 172.9 L848.5 173.2 L836.5 173.5 L824.5 173.9 L800.5 175.2 L764.5 177.6 L740.5 178.6 L730 179.2 L716.5 179.6 L692.5 180.5 L690 180.4 L668.5 180.4 L640 179.1 L632.5 178.8 L596.5 177.5 L572.5 176 L560 175.6 L540 175.2 L524.5 175.3 L488.5 172.7 L480 172 L452.5 170.3 L430 169.9 L428.5 169.8 L392.5 169.1 L356.5 169.1 L320.5 169.3 L296.5 169.1 L272.5 168.8 L248.5 168.6 L236.5 168.6 L224.5 168.7 L200.5 169.2 L188.5 170 L164.5 172.7 L128.5 177 L92.5 182.9 L56.5 189 L32.5 192.3 L2.5 195.1Z" fill="#17ff7e" stroke="#17ff7e" stroke-width="0.4"/>
<path d="M2.5 195.1 L32.5 192.3 L56.5 189 L92.5 182.9 L128.5 177 L164.5 172.7 L188.5 170 L200.5 169.2 L224.5 168.7 L236.5 168.6 L248.5 168.6 L272.5 168.8 L296.5 169.1 L320.5 169.3 L356.5 169.1 L392.5 169.1 L428.5 169.8 L430 169.9 L452.5 170.3 L480 172 L488.5 172.7 L524.5 175.3 L540 175.2 L560 175.6 L572.5 176 L596.5 177.5 L632.5 178.8 L640 179.1 L668.5 180.4 L690 180.4 L692.5 180.5 L716.5 179.6 L730 179.2 L740.5 178.6 L764.5 177.6 L800.5 175.2 L824.5 173.9 L836.5 173.5 L848.5 173.2 L860.5 172.9 L884.5 172.9 L908.5 174.2 L932.5 176.2 L956.5 178.5 L980.5 180.9 L1004.5 182.7 L1028.5 184.1 L1052.5 184.8 L1080 184.5 L1112.5 183.9 L1136.5 183.5 L1184.5 183.5 L1232.5 183.3 L1256.5 183.3 L1262 183.6 L1262 183.4 L1256.5 183.2 L1232.5 183.2 L1184.5 183.3 L1136.5 183.3 L1112.5 183.7 L1080 184.2 L1052.5 184.6 L1028.5 183.9 L1004.5 182.5 L980.5 180.7 L956.5 178.3 L932.5 176.2 L908.5 174.3 L884.5 173.1 L860.5 173.2 L848.5 173.5 L836.5 173.8 L824.5 174.2 L800.5 175.4 L764.5 177.7 L740.5 178.7 L730 179.2 L716.5 179.7 L692.5 180.4 L690 180.4 L668.5 180.4 L640 179.2 L632.5 179 L596.5 177.8 L572.5 176.4 L560 176.1 L540 175.8 L524.5 176.1 L488.5 173.7 L480 173 L452.5 171.3 L430 170.9 L428.5 170.9 L392.5 170.3 L356.5 170.4 L320.5 170.8 L296.5 170.7 L272.5 170.5 L248.5 170.6 L236.5 170.7 L224.5 170.9 L200.5 171.6 L188.5 172.5 L164.5 175.1 L128.5 179.5 L92.5 185.3 L56.5 191.4 L32.5 194.8 L2.5 197.5Z" fill="#1bffa8" stroke="#1bffa8" stroke-width="0.4"/>
<path d="M2.5 197.5 L32.5 194.8 L56.5 191.4 L92.5 185.3 L128.5 179.5 L164.5 175.1 L188.5 172.5 L200.5 171.6 L224.5 170.9 L236.5 170.7 L248.5 170.6 L272.5 170.5 L296.5 170.7 L320.5 170.8 L356.5 170.4 L392.5 170.3 L428.5 170.9 L430 170.9 L452.5 171.3 L480 173 L488.5 173.7 L524.5 176.1 L540 175.8 L560 176.1 L572.5 176.4 L596.5 177.8 L632.5 179 L640 179.2 L668.5 180.4 L690 180.4 L692.5 180.4 L716.5 179.7 L730 179.2 L740.5 178.7 L764.5 177.7 L800.5 175.4 L824.5 174.2 L836.5 173.8 L848.5 173.5 L860.5 173.2 L884.5 173.1 L908.5 174.3 L932.5 176.2 L956.5 178.3 L980.5 180.7 L1004.5 182.5 L1028.5 183.9 L1052.5 184.6 L1080 184.2 L1112.5 183.7 L1136.5 183.3 L1184.5 183.3 L1232.5 183.2 L1256.5 183.2 L1262 183.4 L1262 183.3 L1256.5 183.1 L1232.5 183.1 L1184.5 183.2 L1136.5 183.1 L1112.5 183.4 L1080 183.9 L1052.5 184.3 L1028.5 183.6 L1004.5 182.3 L980.5 180.5 L956.5 178.2 L932.5 176.2 L908.5 174.4 L884.5 173.4 L860.5 173.5 L848.5 173.8 L836.5 174.1 L824.5 174.5 L800.5 175.7 L764.5 177.9 L740.5 178.8 L730 179.3 L716.5 179.7 L692.5 180.4 L690 180.4 L668.5 180.5 L640 179.4 L632.5 179.2 L596.5 178.1 L572.5 176.8 L560 176.6 L540 176.4 L524.5 176.9 L488.5 174.6 L480 174 L452.5 172.4 L430 171.9 L428.5 171.9 L392.5 171.5 L356.5 171.7 L320.5 172.2 L296.5 172.3 L272.5 172.3 L248.5 172.6 L236.5 172.8 L224.5 173.1 L200.5 173.9 L188.5 174.9 L164.5 177.6 L128.5 182 L92.5 187.8 L56.5 193.8 L32.5 197.2 L2.5 199.9Z" fill="#1effd2" stroke="#1effd2" stroke-width="0.4"/>
<path d="M2.5 199.9 L32.5 197.2 L56.5 193.8 L92.5 187.8 L128.5 182 L164.5 177.6 L188.5 174.9 L200.5 173.9 L224.5 173.1 L236.5 172.8 L248.5 172.6 L272.5 172.3 L296.5 172.3 L320.5 172.2 L356.5 171.7 L392.5 171.5 L428.5 171.9 L430 171.9 L452.5 172.4 L480 174 L488.5 174.6 L524.5 176.9 L540 176.4 L560 176.6 L572.5 176.8 L596.5 178.1 L632.5 179.2 L640 179.4 L668.5 180.5 L690 180.4 L692.5 180.4 L716.5 179.7 L730 179.3 L740.5 178.8 L764.5 177.9 L800.5 175.7 L824.5 174.5 L836.5 174.1 L848.5 173.8 L860.5 173.5 L884.5 173.4 L908.5 174.4 L932.5 176.2 L956.5 178.2 L980.5 180.5 L1004.5 182.3 L1028.5 183.6 L1052.5 184.3 L1080 183.9 L1112.5 183.4 L1136.5 183.1 L1184.5 183.2 L1232.5 183.1 L1256.5 183.1 L1262 183.3 L1262 183.2 L1256.5 183 L1232.5 183 L1184.5 183 L1136.5 182.9 L1112.5 183.2 L1080 183.6 L1052.5 184 L1028.5 183.4 L1004.5 182.1 L980.5 180.3 L956.5 178 L932.5 176.2 L908.5 174.5 L884.5 173.6 L860.5 173.8 L848.5 174.1 L836.5 174.3 L824.5 174.8 L800.5 176 L764.5 178.1 L740.5 178.9 L730 179.4 L716.5 179.8 L692.5 180.4 L690 180.4 L668.5 180.5 L640 179.6 L632.5 179.4 L596.5 178.4 L572.5 177.2 L560 177.1 L540 177 L524.5 177.6 L488.5 175.6 L480 175 L452.5 173.4 L430 173 L428.5 172.9 L392.5 172.7 L356.5 173 L320.5 173.7 L296.5 173.9 L272.5 174.1 L248.5 174.6 L236.5 174.9 L224.5 175.3 L200.5 176.3 L188.5 177.4 L164.5 180.1 L128.5 184.5 L92.5 190.2 L56.5 196.2 L32.5 199.7 L2.5 202.3Z" fill="#37e3e9" stroke="#37e3e9" stroke-width="0.4"/>
<path d="M2.5 202.3 L32.5 199.7 L56.5 196.2 L92.5 190.2 L128.5 184.5 L164.5 180.1 L188.5 177.4 L200.5 176.3 L224.5 175.3 L236.5 174.9 L248.5 174.6 L272.5 174.1 L296.5 173.9 L320.5 173.7 L356.5 173 L392.5 172.7 L428.5 172.9 L430 173 L452.5 173.4 L480 175 L488.5 175.6 L524.5 177.6 L540 177 L560 177.1 L572.5 177.2 L596.5 178.4 L632.5 179.4 L640 179.6 L668.5 180.5 L690 180.4 L692.5 180.4 L716.5 179.8 L730 179.4 L740.5 178.9 L764.5 178.1 L800.5 176 L824.5 174.8 L836.5 174.3 L848.5 174.1 L860.5 173.8 L884.5 173.6 L908.5 174.5 L932.5 176.2 L956.5 178 L980.5 180.3 L1004.5 182.1 L1028.5 183.4 L1052.5 184 L1080 183.6 L1112.5 183.2 L1136.5 182.9 L1184.5 183 L1232.5 183 L1256.5 183 L1262 183.2 L1262 183 L1256.5 182.8 L1232.5 182.8 L1184.5 182.9 L1136.5 182.6 L1112.5 183 L1080 183.4 L1052.5 183.8 L1028.5 183.2 L1004.5 181.9 L980.5 180.1 L956.5 177.9 L932.5 176.2 L908.5 174.7 L884.5 173.8 L860.5 174.1 L848.5 174.4 L836.5 174.6 L824.5 175.1 L800.5 176.2 L764.5 178.2 L740.5 179.1 L730 179.4 L716.5 179.8 L692.5 180.4 L690 180.4 L668.5 180.6 L640 179.7 L632.5 179.6 L596.5 178.6 L572.5 177.6 L560 177.6 L540 177.6 L524.5 178.4 L488.5 176.6 L480 176 L452.5 174.4 L430 174 L428.5 173.9 L392.5 173.9 L356.5 174.3 L320.5 175.1 L296.5 175.6 L272.5 175.9 L248.5 176.6 L236.5 177 L224.5 177.5 L200.5 178.7 L188.5 179.8 L164.5 182.6 L128.5 187 L92.5 192.7 L56.5 198.6 L32.5 202.1 L2.5 204.7Z" fill="#50c7ff" stroke="#50c7ff" stroke-width="0.4"/>
<path d="M2.5 204.7 L32.5 202.1 L56.5 198.6 L92.5 192.7 L128.5 187 L164.5 182.6 L188.5 179.8 L200.5 178.7 L224.5 177.5 L236.5 177 L248.5 176.6 L272.5 175.9 L296.5 175.6 L320.5 175.1 L356.5 174.3 L392.5 173.9 L428.5 173.9 L430 174 L452.5 174.4 L480 176 L488.5 176.6 L524.5 178.4 L540 177.6 L560 177.6 L572.5 177.6 L596.5 178.6 L632.5 179.6 L640 179.7 L668.5 180.6 L690 180.4 L692.5 180.4 L716.5 179.8 L730 179.4 L740.5 179.1 L764.5 178.2 L800.5 176.2 L824.5 175.1 L836.5 174.6 L848.5 174.4 L860.5 174.1 L884.5 173.8 L908.5 174.7 L932.5 176.2 L956.5 177.9 L980.5 180.1 L1004.5 181.9 L1028.5 183.2 L1052.5 183.8 L1080 183.4 L1112.5 183 L1136.5 182.6 L1184.5 182.9 L1232.5 182.8 L1256.5 182.8 L1262 183 L1262 182.9 L1256.5 182.7 L1232.5 182.7 L1184.5 182.8 L1136.5 182.4 L1112.5 182.7 L1080 183.1 L1052.5 183.5 L1028.5 183 L1004.5 181.7 L980.5 179.9 L956.5 177.8 L932.5 176.2 L908.5 174.8 L884.5 174 L860.5 174.4 L848.5 174.7 L836.5 174.9 L824.5 175.4 L800.5 176.5 L764.5 178.4 L740.5 179.2 L730 179.5 L716.5 179.9 L692.5 180.4 L690 180.4 L668.5 180.6 L640 179.9 L632.5 179.7 L596.5 178.9 L572.5 178 L560 178.1 L540 178.3 L524.5 179.2 L488.5 177.6 L480 177 L452.5 175.4 L430 175 L428.5 175 L392.5 175.1 L356.5 175.6 L320.5 176.6 L296.5 177.2 L272.5 177.7 L248.5 178.6 L236.5 179.1 L224.5 179.7 L200.5 181 L188.5 182.3 L164.5 185 L128.5 189.5 L92.5 195.1 L56.5 201 L32.5 204.6 L2.5 207.2Z" fill="#648cff" stroke="#648cff" stroke-width="0.4"/>
<path d="M2.5 207.2 L32.5 204.6 L56.5 201 L92.5 195.1 L128.5 189.5 L164.5 185 L188.5 182.3 L200.5 181 L224.5 179.7 L236.5 179.1 L248.5 178.6 L272.5 177.7 L296.5 177.2 L320.5 176.6 L356.5 175.6 L392.5 175.1 L428.5 175 L430 175 L452.5 175.4 L480 177 L488.5 177.6 L524.5 179.2 L540 178.3 L560 178.1 L572.5 178 L596.5 178.9 L632.5 179.7 L640 179.9 L668.5 180.6 L690 180.4 L692.5 180.4 L716.5 179.9 L730 179.5 L740.5 179.2 L764.5 178.4 L800.5 176.5 L824.5 175.4 L836.5 174.9 L848.5 174.7 L860.5 174.4 L884.5 174 L908.5 174.8 L932.5 176.2 L956.5 177.8 L980.5 179.9 L1004.5 181.7 L1028.5 183 L1052.5 183.5 L1080 183.1 L1112.5 182.7 L1136.5 182.4 L1184.5 182.8 L1232.5 182.7 L1256.5 182.7 L1262 182.9 L1262 182.7 L1256.5 182.6 L1232.5 182.6 L1184.5 182.6 L1136.5 182.2 L1112.5 182.5 L1080 182.8 L1052.5 183.3 L1028.5 182.7 L1004.5 181.5 L980.5 179.7 L956.5 177.6 L932.5 176.2 L908.5 174.9 L884.5 174.3 L860.5 174.7 L848.5 175 L836.5 175.2 L824.5 175.7 L800.5 176.7 L764.5 178.6 L740.5 179.3 L730 179.6 L716.5 179.9 L692.5 180.4 L690 180.4 L668.5 180.7 L640 180.1 L632.5 179.9 L596.5 179.2 L572.5 178.4 L560 178.5 L540 178.9 L524.5 180 L488.5 178.5 L480 178 L452.5 176.5 L430 176 L428.5 176 L392.5 176.3 L356.5 176.9 L320.5 178 L296.5 178.8 L272.5 179.5 L248.5 180.6 L236.5 181.2 L224.5 181.9 L200.5 183.4 L188.5 184.7 L164.5 187.5 L128.5 192 L92.5 197.6 L56.5 203.4 L32.5 207 L2.5 209.6Z" fill="#8858f8" stroke="#8858f8" stroke-width="0.4"/>
<path d="M2.5 209.6 L32.5 207 L56.5 203.4 L92.5 197.6 L128.5 192 L164.5 187.5 L188.5 184.7 L200.5 183.4 L224.5 181.9 L236.5 181.2 L248.5 180.6 L272.5 179.5 L296.5 178.8 L320.5 178 L356.5 176.9 L392.5 176.3 L428.5 176 L430 176 L452.5 176.5 L480 178 L488.5 178.5 L524.5 180 L540 178.9 L560 178.5 L572.5 178.4 L596.5 179.2 L632.5 179.9 L640 180.1 L668.5 180.7 L690 180.4 L692.5 180.4 L716.5 179.9 L730 179.6 L740.5 179.3 L764.5 178.6 L800.5 176.7 L824.5 175.7 L836.5 175.2 L848.5 175 L860.5 174.7 L884.5 174.3 L908.5 174.9 L932.5 176.2 L956.5 177.6 L980.5 179.7 L1004.5 181.5 L1028.5 182.7 L1052.5 183.3 L1080 182.8 L1112.5 182.5 L1136.5 182.2 L1184.5 182.6 L1232.5 182.6 L1256.5 182.6 L1262 182.7 L1262 182.6 L1256.5 182.5 L1232.5 182.5 L1184.5 182.5 L1136.5 182 L1112.5 182.2 L1080 182.5 L1052.5 183 L1028.5 182.5 L1004.5 181.2 L980.5 179.5 L956.5 177.5 L932.5 176.2 L908.5 175 L884.5 174.5 L860.5 175 L848.5 175.2 L836.5 175.5 L824.5 176 L800.5 177 L764.5 178.8 L740.5 179.4 L730 179.6 L716.5 180 L692.5 180.4 L690 180.4 L668.5 180.8 L640 180.3 L632.5 180.1 L596.5 179.5 L572.5 178.8 L560 179 L540 179.5 L524.5 180.8 L488.5 179.5 L480 179 L452.5 177.5 L430 177 L428.5 177 L392.5 177.5 L356.5 178.2 L320.5 179.5 L296.5 180.4 L272.5 181.2 L248.5 182.6 L236.5 183.2 L224.5 184.1 L200.5 185.8 L188.5 187.2 L164.5 190 L128.5 194.5 L92.5 200 L56.5 205.8 L32.5 209.5 L2.5 212Z" fill="#c222e5" stroke="#c222e5" stroke-width="0.4"/>
<path d="M1262 185.6 L1280.5 187.5 L1304.5 191.8 L1328.5 198.8 L1352.5 206.2 L1376.5 212.5 L1400.5 216.8 L1424.5 218.2 L1448.5 218 L1460.5 216.2 L1472.5 212.5 L1496.5 205 L1520.5 197.5 L1544.5 189.5 L1544.5 189.5 L1520.5 197.3 L1496.5 204.5 L1472.5 211.7 L1460.5 215.3 L1448.5 217 L1424.5 217.2 L1400.5 215.7 L1376.5 211.6 L1352.5 205.5 L1328.5 198.2 L1304.5 191.4 L1280.5 187.3 L1262 185.4Z" fill="#cdeb1e" stroke="#cdeb1e" stroke-width="0.4"/>
<path d="M1262 185.4 L1280.5 187.3 L1304.5 191.4 L1328.5 198.2 L1352.5 205.5 L1376.5 211.6 L1400.5 215.7 L1424.5 217.2 L1448.5 217 L1460.5 215.3 L1472.5 211.7 L1496.5 204.5 L1520.5 197.3 L1544.5 189.5 L1544.5 189.5 L1520.5 197 L1496.5 204 L1472.5 211 L1460.5 214.4 L1448.5 216 L1424.5 216.1 L1400.5 214.7 L1376.5 210.6 L1352.5 204.7 L1328.5 197.6 L1304.5 191.1 L1280.5 187.1 L1262 185.3Z" fill="#cceb1e" stroke="#cceb1e" stroke-width="0.4"/>
<path d="M1262 185.3 L1280.5 187.1 L1304.5 191.1 L1328.5 197.6 L1352.5 204.7 L1376.5 210.6 L1400.5 214.7 L1424.5 216.1 L1448.5 216 L1460.5 214.4 L1472.5 211 L1496.5 204 L1520.5 197 L1544.5 189.5 L1544.5 189.6 L1520.5 196.8 L1496.5 203.6 L1472.5 210.2 L1460.5 213.5 L1448.5 215 L1424.5 215.1 L1400.5 213.6 L1376.5 209.7 L1352.5 204 L1328.5 197 L1304.5 190.7 L1280.5 186.9 L1262 185.2Z" fill="#caec1d" stroke="#caec1d" stroke-width="0.4"/>
<path d="M1262 185.2 L1280.5 186.9 L1304.5 190.7 L1328.5 197 L1352.5 204 L1376.5 209.7 L1400.5 213.6 L1424.5 215.1 L1448.5 215 L1460.5 213.5 L1472.5 210.2 L1496.5 203.6 L1520.5 196.8 L1544.5 189.6 L1544.5 189.6 L1520.5 196.6 L1496.5 203.1 L1472.5 209.5 L1460.5 212.6 L1448.5 214 L1424.5 214 L1400.5 212.6 L1376.5 208.8 L1352.5 203.2 L1328.5 196.5 L1304.5 190.4 L1280.5 186.7 L1262 185Z" fill="#c8ed1d" stroke="#c8ed1d" stroke-width="0.4"/>
<path d="M1262 185 L1280.5 186.7 L1304.5 190.4 L1328.5 196.5 L1352.5 203.2 L1376.5 208.8 L1400.5 212.6 L1424.5 214 L1448.5 214 L1460.5 212.6 L1472.5 209.5 L1496.5 203.1 L1520.5 196.6 L1544.5 189.6 L1544.5 189.6 L1520.5 196.4 L1496.5 202.6 L1472.5 208.7 L1460.5 211.6 L1448.5 213.1 L1424.5 213 L1400.5 211.5 L1376.5 207.8 L1352.5 202.4 L1328.5 195.9 L1304.5 190 L1280.5 186.5 L1262 184.9Z" fill="#c5ee1c" stroke="#c5ee1c" stroke-width="0.4"/>
<path d="M1262 184.9 L1280.5 186.5 L1304.5 190 L1328.5 195.9 L1352.5 202.4 L1376.5 207.8 L1400.5 211.5 L1424.5 213 L1448.5 213.1 L1460.5 211.6 L1472.5 208.7 L1496.5 202.6 L1520.5 196.4 L1544.5 189.6 L1544.5 189.6 L1520.5 196.1 L1496.5 202.1 L1472.5 207.9 L1460.5 210.7 L1448.5 212.1 L1424.5 211.9 L1400.5 210.5 L1376.5 206.9 L1352.5 201.7 L1328.5 195.3 L1304.5 189.7 L1280.5 186.3 L1262 184.8Z" fill="#c1f01b" stroke="#c1f01b" stroke-width="0.4"/>
<path d="M1262 184.8 L1280.5 186.3 L1304.5 189.7 L1328.5 195.3 L1352.5 201.7 L1376.5 206.9 L1400.5 210.5 L1424.5 211.9 L1448.5 212.1 L1460.5 210.7 L1472.5 207.9 L1496.5 202.1 L1520.5 196.1 L1544.5 189.6 L1544.5 189.7 L1520.5 195.9 L1496.5 201.7 L1472.5 207.2 L1460.5 209.8 L1448.5 211.1 L1424.5 210.9 L1400.5 209.4 L1376.5 206 L1352.5 200.9 L1328.5 194.8 L1304.5 189.4 L1280.5 186.1 L1262 184.6Z" fill="#bdf21a" stroke="#bdf21a" stroke-width="0.4"/>
<path d="M1262 184.6 L1280.5 186.1 L1304.5 189.4 L1328.5 194.8 L1352.5 200.9 L1376.5 206 L1400.5 209.4 L1424.5 210.9 L1448.5 211.1 L1460.5 209.8 L1472.5 207.2 L1496.5 201.7 L1520.5 195.9 L1544.5 189.7 L1544.5 189.7 L1520.5 195.7 L1496.5 201.2 L1472.5 206.4 L1460.5 208.9 L1448.5 210.1 L1424.5 209.8 L1400.5 208.4 L1376.5 205 L1352.5 200.2 L1328.5 194.2 L1304.5 189 L1280.5 185.9 L1262 184.5Z" fill="#b9f418" stroke="#b9f418" stroke-width="0.4"/>
<path d="M1262 184.5 L1280.5 185.9 L1304.5 189 L1328.5 194.2 L1352.5 200.2 L1376.5 205 L1400.5 208.4 L1424.5 209.8 L1448.5 210.1 L1460.5 208.9 L1472.5 206.4 L1496.5 201.2 L1520.5 195.7 L1544.5 189.7 L1544.5 189.7 L1520.5 195.5 L1496.5 200.7 L1472.5 205.6 L1460.5 208 L1448.5 209.1 L1424.5 208.7 L1400.5 207.3 L1376.5 204.1 L1352.5 199.4 L1328.5 193.6 L1304.5 188.7 L1280.5 185.7 L1262 184.4Z" fill="#b4f617" stroke="#b4f617" stroke-width="0.4"/>
<path d="M1262 184.4 L1280.5 185.7 L1304.5 188.7 L1328.5 193.6 L1352.5 199.4 L1376.5 204.1 L1400.5 207.3 L1424.5 208.7 L1448.5 209.1 L1460.5 208 L1472.5 205.6 L1496.5 200.7 L1520.5 195.5 L1544.5 189.7 L1544.5 189.7 L1520.5 195.2 L1496.5 200.2 L1472.5 204.9 L1460.5 207 L1448.5 208.1 L1424.5 207.7 L1400.5 206.3 L1376.5 203.2 L1352.5 198.6 L1328.5 193.1 L1304.5 188.3 L1280.5 185.5 L1262 184.2Z" fill="#aef815" stroke="#aef815" stroke-width="0.4"/>
<path d="M1262 184.2 L1280.5 185.5 L1304.5 188.3 L1328.5 193.1 L1352.5 198.6 L1376.5 203.2 L1400.5 206.3 L1424.5 207.7 L1448.5 208.1 L1460.5 207 L1472.5 204.9 L1496.5 200.2 L1520.5 195.2 L1544.5 189.7 L1544.5 189.8 L1520.5 195 L1496.5 199.8 L1472.5 204.1 L1460.5 206.1 L1448.5 207.1 L1424.5 206.6 L1400.5 205.2 L1376.5 202.2 L1352.5 197.9 L1328.5 192.5 L1304.5 188 L1280.5 185.2 L1262 184.1Z" fill="#a4fa14" stroke="#a4fa14" stroke-width="0.4"/>
<path d="M1262 184.1 L1280.5 185.2 L1304.5 188 L1328.5 192.5 L1352.5 197.9 L1376.5 202.2 L1400.5 205.2 L1424.5 206.6 L1448.5 207.1 L1460.5 206.1 L1472.5 204.1 L1496.5 199.8 L1520.5 195 L1544.5 189.8 L1544.5 189.8 L1520.5 194.8 L1496.5 199.3 L1472.5 203.4 L1460.5 205.2 L1448.5 206.1 L1424.5 205.6 L1400.5 204.2 L1376.5 201.3 L1352.5 197.1 L1328.5 191.9 L1304.5 187.7 L1280.5 185 L1262 184Z" fill="#92fc14" stroke="#92fc14" stroke-width="0.4"/>
<path d="M1262 184 L1280.5 185 L1304.5 187.7 L1328.5 191.9 L1352.5 197.1 L1376.5 201.3 L1400.5 204.2 L1424.5 205.6 L1448.5 206.1 L1460.5 205.2 L1472.5 203.4 L1496.5 199.3 L1520.5 194.8 L1544.5 189.8 L1544.5 189.8 L1520.5 194.5 L1496.5 198.8 L1472.5 202.6 L1460.5 204.3 L1448.5 205.1 L1424.5 204.5 L1400.5 203.2 L1376.5 200.4 L1352.5 196.4 L1328.5 191.4 L1304.5 187.3 L1280.5 184.8 L1262 183.8Z" fill="#7dfd14" stroke="#7dfd14" stroke-width="0.4"/>
<path d="M1262 183.8 L1280.5 184.8 L1304.5 187.3 L1328.5 191.4 L1352.5 196.4 L1376.5 200.4 L1400.5 203.2 L1424.5 204.5 L1448.5 205.1 L1460.5 204.3 L1472.5 202.6 L1496.5 198.8 L1520.5 194.5 L1544.5 189.8 L1544.5 189.8 L1520.5 194.3 L1496.5 198.3 L1472.5 201.8 L1460.5 203.4 L1448.5 204.2 L1424.5 203.5 L1400.5 202.1 L1376.5 199.5 L1352.5 195.6 L1328.5 190.8 L1304.5 187 L1280.5 184.6 L1262 183.7Z" fill="#68fe14" stroke="#68fe14" stroke-width="0.4"/>
<path d="M1262 183.7 L1280.5 184.6 L1304.5 187 L1328.5 190.8 L1352.5 195.6 L1376.5 199.5 L1400.5 202.1 L1424.5 203.5 L1448.5 204.2 L1460.5 203.4 L1472.5 201.8 L1496.5 198.3 L1520.5 194.3 L1544.5 189.8 L1544.5 189.8 L1520.5 194.1 L1496.5 197.8 L1472.5 201.1 L1460.5 202.4 L1448.5 203.2 L1424.5 202.4 L1400.5 201.1 L1376.5 198.5 L1352.5 194.8 L1328.5 190.2 L1304.5 186.6 L1280.5 184.4 L1262 183.6Z" fill="#51ff1d" stroke="#51ff1d" stroke-width="0.4"/>
<path d="M1262 183.6 L1280.5 184.4 L1304.5 186.6 L1328.5 190.2 L1352.5 194.8 L1376.5 198.5 L1400.5 201.1 L1424.5 202.4 L1448.5 203.2 L1460.5 202.4 L1472.5 201.1 L1496.5 197.8 L1520.5 194.1 L1544.5 189.8 L1544.5 189.9 L1520.5 193.9 L1496.5 197.4 L1472.5 200.3 L1460.5 201.5 L1448.5 202.2 L1424.5 201.3 L1400.5 200 L1376.5 197.6 L1352.5 194.1 L1328.5 189.7 L1304.5 186.3 L1280.5 184.2 L1262 183.4Z" fill="#38ff36" stroke="#38ff36" stroke-width="0.4"/>
<path d="M1262 183.4 L1280.5 184.2 L1304.5 186.3 L1328.5 189.7 L1352.5 194.1 L1376.5 197.6 L1400.5 200 L1424.5 201.3 L1448.5 202.2 L1460.5 201.5 L1472.5 200.3 L1496.5 197.4 L1520.5 193.9 L1544.5 189.9 L1544.5 189.9 L1520.5 193.6 L1496.5 196.9 L1472.5 199.6 L1460.5 200.6 L1448.5 201.2 L1424.5 200.3 L1400.5 199 L1376.5 196.7 L1352.5 193.3 L1328.5 189.1 L1304.5 186 L1280.5 184 L1262 183.3Z" fill="#1eff50" stroke="#1eff50" stroke-width="0.4"/>
<path d="M1262 183.3 L1280.5 184 L1304.5 186 L1328.5 189.1 L1352.5 193.3 L1376.5 196.7 L1400.5 199 L1424.5 200.3 L1448.5 201.2 L1460.5 200.6 L1472.5 199.6 L1496.5 196.9 L1520.5 193.6 L1544.5 189.9 L1544.5 189.9 L1520.5 193.4 L1496.5 196.4 L1472.5 198.8 L1460.5 199.7 L1448.5 200.2 L1424.5 199.2 L1400.5 197.9 L1376.5 195.7 L1352.5 192.5 L1328.5 188.5 L1304.5 185.6 L1280.5 183.8 L1262 183.2Z" fill="#17ff81" stroke="#17ff81" stroke-width="0.4"/>
<path d="M1262 183.2 L1280.5 183.8 L1304.5 185.6 L1328.5 188.5 L1352.5 192.5 L1376.5 195.7 L1400.5 197.9 L1424.5 199.2 L1448.5 200.2 L1460.5 199.7 L1472.5 198.8 L1496.5 196.4 L1520.5 193.4 L1544.5 189.9 L1544.5 189.9 L1520.5 193.2 L1496.5 195.9 L1472.5 198 L1460.5 198.8 L1448.5 199.2 L1424.5 198.2 L1400.5 196.9 L1376.5 194.8 L1352.5 191.8 L1328.5 188 L1304.5 185.3 L1280.5 183.6 L1262 183Z" fill="#1dffc1" stroke="#1dffc1" stroke-width="0.4"/>
<path d="M1262 183 L1280.5 183.6 L1304.5 185.3 L1328.5 188 L1352.5 191.8 L1376.5 194.8 L1400.5 196.9 L1424.5 198.2 L1448.5 199.2 L1460.5 198.8 L1472.5 198 L1496.5 195.9 L1520.5 193.2 L1544.5 189.9 L1544.5 190 L1520.5 193 L1496.5 195.5 L1472.5 197.3 L1460.5 197.8 L1448.5 198.2 L1424.5 197.1 L1400.5 195.8 L1376.5 193.9 L1352.5 191 L1328.5 187.4 L1304.5 184.9 L1280.5 183.4 L1262 182.9Z" fill="#3cdded" stroke="#3cdded" stroke-width="0.4"/>
<path d="M1262 182.9 L1280.5 183.4 L1304.5 184.9 L1328.5 187.4 L1352.5 191 L1376.5 193.9 L1400.5 195.8 L1424.5 197.1 L1448.5 198.2 L1460.5 197.8 L1472.5 197.3 L1496.5 195.5 L1520.5 193 L1544.5 190 L1544.5 190 L1520.5 192.7 L1496.5 195 L1472.5 196.5 L1460.5 196.9 L1448.5 197.2 L1424.5 196.1 L1400.5 194.8 L1376.5 192.9 L1352.5 190.3 L1328.5 186.8 L1304.5 184.6 L1280.5 183.2 L1262 182.7Z" fill="#6194ff" stroke="#6194ff" stroke-width="0.4"/>
<path d="M1262 182.7 L1280.5 183.2 L1304.5 184.6 L1328.5 186.8 L1352.5 190.3 L1376.5 192.9 L1400.5 194.8 L1424.5 196.1 L1448.5 197.2 L1460.5 196.9 L1472.5 196.5 L1496.5 195 L1520.5 192.7 L1544.5 190 L1544.5 190 L1520.5 192.5 L1496.5 194.5 L1472.5 195.8 L1460.5 196 L1448.5 196.2 L1424.5 195 L1400.5 193.8 L1376.5 192 L1352.5 189.5 L1328.5 186.2 L1304.5 184.2 L1280.5 183 L1262 182.6Z" fill="#a93df0" stroke="#a93df0" stroke-width="0.4"/>
<path d="M2.5 161.2 L32.5 158 L56.5 155.4 L92.5 148.7 L128.5 142 L164.5 138 L188.5 135.7 L200.5 136.1 L224.5 137.9 L236.5 139.3 L248.5 140.7 L272.5 143.8 L296.5 146.6 L320.5 149 L356.5 150.8 L392.5 152.4 L428.5 155.5 L430 155.6" fill="none" stroke="#fff" stroke-width="0.7" opacity="0.4"/>
<path d="M2.5 163.6 L32.5 160.5 L56.5 157.8 L92.5 151.1 L128.5 144.5 L164.5 140.5 L188.5 138.2 L200.5 138.5 L224.5 140.1 L236.5 141.4 L248.5 142.7 L272.5 145.6 L296.5 148.2 L320.5 150.4 L356.5 152.1 L392.5 153.6 L428.5 156.5 L430 156.6" fill="none" stroke="#fff" stroke-width="0.7" opacity="0.4"/>
<path d="M2.5 166 L32.5 162.9 L56.5 160.2 L92.5 153.6 L128.5 147 L164.5 142.9 L188.5 140.6 L200.5 140.8 L224.5 142.3 L236.5 143.5 L248.5 144.7 L272.5 147.4 L296.5 149.8 L320.5 151.9 L356.5 153.4 L392.5 154.8 L428.5 157.6 L430 157.7" fill="none" stroke="#fff" stroke-width="0.7" opacity="0.4"/>
<path d="M2.5 168.4 L32.5 165.4 L56.5 162.6 L92.5 156 L128.5 149.5 L164.5 145.4 L188.5 143.1 L200.5 143.2 L224.5 144.5 L236.5 145.6 L248.5 146.7 L272.5 149.1 L296.5 151.4 L320.5 153.3 L356.5 154.7 L392.5 156 L428.5 158.6 L430 158.7" fill="none" stroke="#fff" stroke-width="0.7" opacity="0.4"/>
<path d="M2.5 170.9 L32.5 167.8 L56.5 165 L92.5 158.5 L128.5 152 L164.5 147.9 L188.5 145.5 L200.5 145.6 L224.5 146.7 L236.5 147.7 L248.5 148.7 L272.5 150.9 L296.5 153 L320.5 154.8 L356.5 156 L392.5 157.2 L428.5 159.6 L430 159.7" fill="none" stroke="#fff" stroke-width="0.7" opacity="0.4"/>
<path d="M2.5 173.3 L32.5 170.3 L56.5 167.4 L92.5 160.9 L128.5 154.5 L164.5 150.4 L188.5 148 L200.5 147.9 L224.5 148.9 L236.5 149.8 L248.5 150.7 L272.5 152.7 L296.5 154.6 L320.5 156.2 L356.5 157.3 L392.5 158.4 L428.5 160.6 L430 160.7" fill="none" stroke="#fff" stroke-width="0.7" opacity="0.4"/>
<path d="M2.5 175.7 L32.5 172.7 L56.5 169.8 L92.5 163.4 L128.5 157 L164.5 152.8 L188.5 150.4 L200.5 150.3 L224.5 151.1 L236.5 151.9 L248.5 152.7 L272.5 154.5 L296.5 156.3 L320.5 157.7 L356.5 158.6 L392.5 159.6 L428.5 161.7 L430 161.7" fill="none" stroke="#fff" stroke-width="0.7" opacity="0.4"/>
<path d="M2.5 178.1 L32.5 175.2 L56.5 172.2 L92.5 165.8 L128.5 159.5 L164.5 155.3 L188.5 152.9 L200.5 152.7 L224.5 153.3 L236.5 154 L248.5 154.7 L272.5 156.3 L296.5 157.9 L320.5 159.1 L356.5 160 L392.5 160.8 L428.5 162.7 L430 162.8" fill="none" stroke="#fff" stroke-width="0.7" opacity="0.4"/>
<path d="M2.5 180.5 L32.5 177.6 L56.5 174.6 L92.5 168.2 L128.5 162 L164.5 157.8 L188.5 155.3 L200.5 155 L224.5 155.5 L236.5 156.1 L248.5 156.7 L272.5 158.1 L296.5 159.5 L320.5 160.6 L356.5 161.3 L392.5 162 L428.5 163.7 L430 163.8" fill="none" stroke="#fff" stroke-width="0.7" opacity="0.4"/>
<path d="M2.5 183 L32.5 180.1 L56.5 177 L92.5 170.7 L128.5 164.5 L164.5 160.3 L188.5 157.8 L200.5 157.4 L224.5 157.7 L236.5 158.2 L248.5 158.7 L272.5 159.8 L296.5 161.1 L320.5 162 L356.5 162.6 L392.5 163.2 L428.5 164.7 L430 164.8" fill="none" stroke="#fff" stroke-width="0.7" opacity="0.4"/>
<path d="M2.5 185.4 L32.5 182.5 L56.5 179.4 L92.5 173.1 L128.5 167 L164.5 162.8 L188.5 160.2 L200.5 159.8 L224.5 159.9 L236.5 160.2 L248.5 160.7 L272.5 161.6 L296.5 162.7 L320.5 163.5 L356.5 163.9 L392.5 164.4 L428.5 165.8 L430 165.8" fill="none" stroke="#fff" stroke-width="0.7" opacity="0.4"/>
<path d="M2.5 187.8 L32.5 185 L56.5 181.8 L92.5 175.6 L128.5 169.5 L164.5 165.2 L188.5 162.7 L200.5 162.1 L224.5 162.1 L236.5 162.3 L248.5 162.7 L272.5 163.4 L296.5 164.3 L320.5 165 L356.5 165.2 L392.5 165.6 L428.5 166.8 L430 166.8" fill="none" stroke="#fff" stroke-width="0.7" opacity="0.4"/>
<path d="M2.5 190.2 L32.5 187.4 L56.5 184.2 L92.5 178 L128.5 172 L164.5 167.7 L188.5 165.1 L200.5 164.5 L224.5 164.3 L236.5 164.4 L248.5 164.7 L272.5 165.2 L296.5 165.9 L320.5 166.4 L356.5 166.5 L392.5 166.8 L428.5 167.8 L430 167.9" fill="none" stroke="#fff" stroke-width="0.7" opacity="0.4"/>
<path d="M2.5 192.6 L32.5 189.9 L56.5 186.6 L92.5 180.5 L128.5 174.5 L164.5 170.2 L188.5 167.6 L200.5 166.8 L224.5 166.5 L236.5 166.5 L248.5 166.6 L272.5 167 L296.5 167.5 L320.5 167.9 L356.5 167.8 L392.5 168 L428.5 168.8 L430 168.9" fill="none" stroke="#fff" stroke-width="0.7" opacity="0.4"/>
<path d="M2.5 195.1 L32.5 192.3 L56.5 189 L92.5 182.9 L128.5 177 L164.5 172.7 L188.5 170 L200.5 169.2 L224.5 168.7 L236.5 168.6 L248.5 168.6 L272.5 168.8 L296.5 169.1 L320.5 169.3 L356.5 169.1 L392.5 169.1 L428.5 169.8 L430 169.9" fill="none" stroke="#fff" stroke-width="0.7" opacity="0.4"/>
<path d="M2.5 197.5 L32.5 194.8 L56.5 191.4 L92.5 185.3 L128.5 179.5 L164.5 175.1 L188.5 172.5 L200.5 171.6 L224.5 170.9 L236.5 170.7 L248.5 170.6 L272.5 170.5 L296.5 170.7 L320.5 170.8 L356.5 170.4 L392.5 170.3 L428.5 170.9 L430 170.9" fill="none" stroke="#fff" stroke-width="0.7" opacity="0.4"/>
<path d="M2.5 199.9 L32.5 197.2 L56.5 193.8 L92.5 187.8 L128.5 182 L164.5 177.6 L188.5 174.9 L200.5 173.9 L224.5 173.1 L236.5 172.8 L248.5 172.6 L272.5 172.3 L296.5 172.3 L320.5 172.2 L356.5 171.7 L392.5 171.5 L428.5 171.9 L430 171.9" fill="none" stroke="#fff" stroke-width="0.7" opacity="0.4"/>
<path d="M2.5 202.3 L32.5 199.7 L56.5 196.2 L92.5 190.2 L128.5 184.5 L164.5 180.1 L188.5 177.4 L200.5 176.3 L224.5 175.3 L236.5 174.9 L248.5 174.6 L272.5 174.1 L296.5 173.9 L320.5 173.7 L356.5 173 L392.5 172.7 L428.5 172.9 L430 173" fill="none" stroke="#fff" stroke-width="0.7" opacity="0.4"/>
<path d="M2.5 204.7 L32.5 202.1 L56.5 198.6 L92.5 192.7 L128.5 187 L164.5 182.6 L188.5 179.8 L200.5 178.7 L224.5 177.5 L236.5 177 L248.5 176.6 L272.5 175.9 L296.5 175.6 L320.5 175.1 L356.5 174.3 L392.5 173.9 L428.5 173.9 L430 174" fill="none" stroke="#fff" stroke-width="0.7" opacity="0.4"/>
<path d="M2.5 207.2 L32.5 204.6 L56.5 201 L92.5 195.1 L128.5 189.5 L164.5 185 L188.5 182.3 L200.5 181 L224.5 179.7 L236.5 179.1 L248.5 178.6 L272.5 177.7 L296.5 177.2 L320.5 176.6 L356.5 175.6 L392.5 175.1 L428.5 175 L430 175" fill="none" stroke="#fff" stroke-width="0.7" opacity="0.4"/>
<path d="M2.5 209.6 L32.5 207 L56.5 203.4 L92.5 197.6 L128.5 192 L164.5 187.5 L188.5 184.7 L200.5 183.4 L224.5 181.9 L236.5 181.2 L248.5 180.6 L272.5 179.5 L296.5 178.8 L320.5 178 L356.5 176.9 L392.5 176.3 L428.5 176 L430 176" fill="none" stroke="#fff" stroke-width="0.7" opacity="0.4"/>
<path d="M430 155.6 L452.5 155.9 L480 158.1 L488.5 159.1 L524.5 164.4 L540 166.5 L560 168.8" fill="none" stroke="#fff" stroke-width="0.7" opacity="0.28"/>
<path d="M430 156.6 L452.5 157 L480 159.1 L488.5 160 L524.5 165.2 L540 167.1 L560 169.2" fill="none" stroke="#fff" stroke-width="0.7" opacity="0.28"/>
<path d="M430 157.7 L452.5 158 L480 160.1 L488.5 161 L524.5 166 L540 167.7 L560 169.7" fill="none" stroke="#fff" stroke-width="0.7" opacity="0.28"/>
<path d="M430 158.7 L452.5 159 L480 161.1 L488.5 162 L524.5 166.8 L540 168.4 L560 170.2" fill="none" stroke="#fff" stroke-width="0.7" opacity="0.28"/>
<path d="M430 159.7 L452.5 160 L480 162.1 L488.5 163 L524.5 167.5 L540 169 L560 170.7" fill="none" stroke="#fff" stroke-width="0.7" opacity="0.28"/>
<path d="M430 160.7 L452.5 161.1 L480 163.1 L488.5 163.9 L524.5 168.3 L540 169.6 L560 171.2" fill="none" stroke="#fff" stroke-width="0.7" opacity="0.28"/>
<path d="M430 161.7 L452.5 162.1 L480 164.1 L488.5 164.9 L524.5 169.1 L540 170.2 L560 171.7" fill="none" stroke="#fff" stroke-width="0.7" opacity="0.28"/>
<path d="M430 162.8 L452.5 163.1 L480 165.1 L488.5 165.9 L524.5 169.9 L540 170.8 L560 172.2" fill="none" stroke="#fff" stroke-width="0.7" opacity="0.28"/>
<path d="M430 163.8 L452.5 164.1 L480 166.1 L488.5 166.8 L524.5 170.7 L540 171.4 L560 172.7" fill="none" stroke="#fff" stroke-width="0.7" opacity="0.28"/>
<path d="M430 164.8 L452.5 165.2 L480 167.1 L488.5 167.8 L524.5 171.4 L540 172.1 L560 173.2" fill="none" stroke="#fff" stroke-width="0.7" opacity="0.28"/>
<path d="M430 165.8 L452.5 166.2 L480 168 L488.5 168.8 L524.5 172.2 L540 172.7 L560 173.7" fill="none" stroke="#fff" stroke-width="0.7" opacity="0.28"/>
<path d="M430 166.8 L452.5 167.2 L480 169 L488.5 169.8 L524.5 173 L540 173.3 L560 174.1" fill="none" stroke="#fff" stroke-width="0.7" opacity="0.28"/>
<path d="M430 167.9 L452.5 168.3 L480 170 L488.5 170.7 L524.5 173.8 L540 173.9 L560 174.6" fill="none" stroke="#fff" stroke-width="0.7" opacity="0.28"/>
<path d="M430 168.9 L452.5 169.3 L480 171 L488.5 171.7 L524.5 174.5 L540 174.5 L560 175.1" fill="none" stroke="#fff" stroke-width="0.7" opacity="0.28"/>
<path d="M430 169.9 L452.5 170.3 L480 172 L488.5 172.7 L524.5 175.3 L540 175.2 L560 175.6" fill="none" stroke="#fff" stroke-width="0.7" opacity="0.28"/>
<path d="M430 170.9 L452.5 171.3 L480 173 L488.5 173.7 L524.5 176.1 L540 175.8 L560 176.1" fill="none" stroke="#fff" stroke-width="0.7" opacity="0.28"/>
<path d="M430 171.9 L452.5 172.4 L480 174 L488.5 174.6 L524.5 176.9 L540 176.4 L560 176.6" fill="none" stroke="#fff" stroke-width="0.7" opacity="0.28"/>
<path d="M430 173 L452.5 173.4 L480 175 L488.5 175.6 L524.5 177.6 L540 177 L560 177.1" fill="none" stroke="#fff" stroke-width="0.7" opacity="0.28"/>
<path d="M430 174 L452.5 174.4 L480 176 L488.5 176.6 L524.5 178.4 L540 177.6 L560 177.6" fill="none" stroke="#fff" stroke-width="0.7" opacity="0.28"/>
<path d="M430 175 L452.5 175.4 L480 177 L488.5 177.6 L524.5 179.2 L540 178.3 L560 178.1" fill="none" stroke="#fff" stroke-width="0.7" opacity="0.28"/>
<path d="M430 176 L452.5 176.5 L480 178 L488.5 178.5 L524.5 180 L540 178.9 L560 178.5" fill="none" stroke="#fff" stroke-width="0.7" opacity="0.28"/>
<path d="M560 168.8 L572.5 170.5 L596.5 173.5 L632.5 176.1 L640 176.7 L668.5 179.7 L690 180.5 L692.5 180.6 L700 180.1" fill="none" stroke="#fff" stroke-width="0.7" opacity="0.14"/>
<path d="M560 169.2 L572.5 170.9 L596.5 173.8 L632.5 176.3 L640 176.9 L668.5 179.7 L690 180.5 L692.5 180.6 L700 180.1" fill="none" stroke="#fff" stroke-width="0.7" opacity="0.14"/>
<path d="M560 169.7 L572.5 171.3 L596.5 174.1 L632.5 176.5 L640 177 L668.5 179.8 L690 180.5 L692.5 180.6 L700 180.1" fill="none" stroke="#fff" stroke-width="0.7" opacity="0.14"/>
<path d="M560 170.2 L572.5 171.7 L596.5 174.4 L632.5 176.7 L640 177.2 L668.5 179.8 L690 180.5 L692.5 180.6 L700 180.1" fill="none" stroke="#fff" stroke-width="0.7" opacity="0.14"/>
<path d="M560 170.7 L572.5 172 L596.5 174.7 L632.5 176.9 L640 177.4 L668.5 179.9 L690 180.5 L692.5 180.6 L700 180.1" fill="none" stroke="#fff" stroke-width="0.7" opacity="0.14"/>
<path d="M560 171.2 L572.5 172.4 L596.5 174.9 L632.5 177.1 L640 177.5 L668.5 179.9 L690 180.5 L692.5 180.6 L700 180.1" fill="none" stroke="#fff" stroke-width="0.7" opacity="0.14"/>
<path d="M560 171.7 L572.5 172.8 L596.5 175.2 L632.5 177.3 L640 177.7 L668.5 180 L690 180.5 L692.5 180.5 L700 180.1" fill="none" stroke="#fff" stroke-width="0.7" opacity="0.14"/>
<path d="M560 172.2 L572.5 173.2 L596.5 175.5 L632.5 177.5 L640 177.9 L668.5 180 L690 180.5 L692.5 180.5 L700 180.1" fill="none" stroke="#fff" stroke-width="0.7" opacity="0.14"/>
<path d="M560 172.7 L572.5 173.6 L596.5 175.8 L632.5 177.7 L640 178 L668.5 180.1 L690 180.5 L692.5 180.5 L700 180.1" fill="none" stroke="#fff" stroke-width="0.7" opacity="0.14"/>
<path d="M560 173.2 L572.5 174 L596.5 176.1 L632.5 177.8 L640 178.2 L668.5 180.1 L690 180.5 L692.5 180.5 L700 180.2" fill="none" stroke="#fff" stroke-width="0.7" opacity="0.14"/>
<path d="M560 173.7 L572.5 174.4 L596.5 176.4 L632.5 178 L640 178.4 L668.5 180.2 L690 180.5 L692.5 180.5 L700 180.2" fill="none" stroke="#fff" stroke-width="0.7" opacity="0.14"/>
<path d="M560 174.1 L572.5 174.8 L596.5 176.6 L632.5 178.2 L640 178.6 L668.5 180.2 L690 180.5 L692.5 180.5 L700 180.2" fill="none" stroke="#fff" stroke-width="0.7" opacity="0.14"/>
<path d="M560 174.6 L572.5 175.2 L596.5 176.9 L632.5 178.4 L640 178.7 L668.5 180.3 L690 180.4 L692.5 180.5 L700 180.2" fill="none" stroke="#fff" stroke-width="0.7" opacity="0.14"/>
<path d="M560 175.1 L572.5 175.6 L596.5 177.2 L632.5 178.6 L640 178.9 L668.5 180.3 L690 180.4 L692.5 180.5 L700 180.2" fill="none" stroke="#fff" stroke-width="0.7" opacity="0.14"/>
<path d="M560 175.6 L572.5 176 L596.5 177.5 L632.5 178.8 L640 179.1 L668.5 180.4 L690 180.4 L692.5 180.5 L700 180.2" fill="none" stroke="#fff" stroke-width="0.7" opacity="0.14"/>
<path d="M560 176.1 L572.5 176.4 L596.5 177.8 L632.5 179 L640 179.2 L668.5 180.4 L690 180.4 L692.5 180.4 L700 180.2" fill="none" stroke="#fff" stroke-width="0.7" opacity="0.14"/>
<path d="M560 176.6 L572.5 176.8 L596.5 178.1 L632.5 179.2 L640 179.4 L668.5 180.5 L690 180.4 L692.5 180.4 L700 180.2" fill="none" stroke="#fff" stroke-width="0.7" opacity="0.14"/>
<path d="M560 177.1 L572.5 177.2 L596.5 178.4 L632.5 179.4 L640 179.6 L668.5 180.5 L690 180.4 L692.5 180.4 L700 180.2" fill="none" stroke="#fff" stroke-width="0.7" opacity="0.14"/>
<path d="M560 177.6 L572.5 177.6 L596.5 178.6 L632.5 179.6 L640 179.7 L668.5 180.6 L690 180.4 L692.5 180.4 L700 180.2" fill="none" stroke="#fff" stroke-width="0.7" opacity="0.14"/>
<path d="M560 178.1 L572.5 178 L596.5 178.9 L632.5 179.7 L640 179.9 L668.5 180.6 L690 180.4 L692.5 180.4 L700 180.2" fill="none" stroke="#fff" stroke-width="0.7" opacity="0.14"/>
<path d="M560 178.5 L572.5 178.4 L596.5 179.2 L632.5 179.9 L640 180.1 L668.5 180.7 L690 180.4 L692.5 180.4 L700 180.2" fill="none" stroke="#fff" stroke-width="0.7" opacity="0.14"/>
<path d="M1262 185.4 L1280.5 187.3 L1304.5 191.4 L1328.5 198.2 L1352.5 205.5 L1376.5 211.6 L1400.5 215.7 L1424.5 217.2 L1448.5 217 L1460.5 215.3 L1472.5 211.7 L1496.5 204.5 L1520.5 197.3 L1544.5 189.5" fill="none" stroke="#fff" stroke-width="0.7" opacity="0.25"/>
<path d="M1262 185.3 L1280.5 187.1 L1304.5 191.1 L1328.5 197.6 L1352.5 204.7 L1376.5 210.6 L1400.5 214.7 L1424.5 216.1 L1448.5 216 L1460.5 214.4 L1472.5 211 L1496.5 204 L1520.5 197 L1544.5 189.5" fill="none" stroke="#fff" stroke-width="0.7" opacity="0.25"/>
<path d="M1262 185.2 L1280.5 186.9 L1304.5 190.7 L1328.5 197 L1352.5 204 L1376.5 209.7 L1400.5 213.6 L1424.5 215.1 L1448.5 215 L1460.5 213.5 L1472.5 210.2 L1496.5 203.6 L1520.5 196.8 L1544.5 189.6" fill="none" stroke="#fff" stroke-width="0.7" opacity="0.25"/>
<path d="M1262 185 L1280.5 186.7 L1304.5 190.4 L1328.5 196.5 L1352.5 203.2 L1376.5 208.8 L1400.5 212.6 L1424.5 214 L1448.5 214 L1460.5 212.6 L1472.5 209.5 L1496.5 203.1 L1520.5 196.6 L1544.5 189.6" fill="none" stroke="#fff" stroke-width="0.7" opacity="0.25"/>
<path d="M1262 184.9 L1280.5 186.5 L1304.5 190 L1328.5 195.9 L1352.5 202.4 L1376.5 207.8 L1400.5 211.5 L1424.5 213 L1448.5 213.1 L1460.5 211.6 L1472.5 208.7 L1496.5 202.6 L1520.5 196.4 L1544.5 189.6" fill="none" stroke="#fff" stroke-width="0.7" opacity="0.25"/>
<path d="M1262 184.8 L1280.5 186.3 L1304.5 189.7 L1328.5 195.3 L1352.5 201.7 L1376.5 206.9 L1400.5 210.5 L1424.5 211.9 L1448.5 212.1 L1460.5 210.7 L1472.5 207.9 L1496.5 202.1 L1520.5 196.1 L1544.5 189.6" fill="none" stroke="#fff" stroke-width="0.7" opacity="0.25"/>
<path d="M1262 184.6 L1280.5 186.1 L1304.5 189.4 L1328.5 194.8 L1352.5 200.9 L1376.5 206 L1400.5 209.4 L1424.5 210.9 L1448.5 211.1 L1460.5 209.8 L1472.5 207.2 L1496.5 201.7 L1520.5 195.9 L1544.5 189.7" fill="none" stroke="#fff" stroke-width="0.7" opacity="0.25"/>
<path d="M1262 184.5 L1280.5 185.9 L1304.5 189 L1328.5 194.2 L1352.5 200.2 L1376.5 205 L1400.5 208.4 L1424.5 209.8 L1448.5 210.1 L1460.5 208.9 L1472.5 206.4 L1496.5 201.2 L1520.5 195.7 L1544.5 189.7" fill="none" stroke="#fff" stroke-width="0.7" opacity="0.25"/>
<path d="M1262 184.4 L1280.5 185.7 L1304.5 188.7 L1328.5 193.6 L1352.5 199.4 L1376.5 204.1 L1400.5 207.3 L1424.5 208.7 L1448.5 209.1 L1460.5 208 L1472.5 205.6 L1496.5 200.7 L1520.5 195.5 L1544.5 189.7" fill="none" stroke="#fff" stroke-width="0.7" opacity="0.25"/>
<path d="M1262 184.2 L1280.5 185.5 L1304.5 188.3 L1328.5 193.1 L1352.5 198.6 L1376.5 203.2 L1400.5 206.3 L1424.5 207.7 L1448.5 208.1 L1460.5 207 L1472.5 204.9 L1496.5 200.2 L1520.5 195.2 L1544.5 189.7" fill="none" stroke="#fff" stroke-width="0.7" opacity="0.25"/>
<path d="M1262 184.1 L1280.5 185.2 L1304.5 188 L1328.5 192.5 L1352.5 197.9 L1376.5 202.2 L1400.5 205.2 L1424.5 206.6 L1448.5 207.1 L1460.5 206.1 L1472.5 204.1 L1496.5 199.8 L1520.5 195 L1544.5 189.8" fill="none" stroke="#fff" stroke-width="0.7" opacity="0.25"/>
<path d="M1262 184 L1280.5 185 L1304.5 187.7 L1328.5 191.9 L1352.5 197.1 L1376.5 201.3 L1400.5 204.2 L1424.5 205.6 L1448.5 206.1 L1460.5 205.2 L1472.5 203.4 L1496.5 199.3 L1520.5 194.8 L1544.5 189.8" fill="none" stroke="#fff" stroke-width="0.7" opacity="0.25"/>
<path d="M1262 183.8 L1280.5 184.8 L1304.5 187.3 L1328.5 191.4 L1352.5 196.4 L1376.5 200.4 L1400.5 203.2 L1424.5 204.5 L1448.5 205.1 L1460.5 204.3 L1472.5 202.6 L1496.5 198.8 L1520.5 194.5 L1544.5 189.8" fill="none" stroke="#fff" stroke-width="0.7" opacity="0.25"/>
<path d="M1262 183.7 L1280.5 184.6 L1304.5 187 L1328.5 190.8 L1352.5 195.6 L1376.5 199.5 L1400.5 202.1 L1424.5 203.5 L1448.5 204.2 L1460.5 203.4 L1472.5 201.8 L1496.5 198.3 L1520.5 194.3 L1544.5 189.8" fill="none" stroke="#fff" stroke-width="0.7" opacity="0.25"/>
<path d="M1262 183.6 L1280.5 184.4 L1304.5 186.6 L1328.5 190.2 L1352.5 194.8 L1376.5 198.5 L1400.5 201.1 L1424.5 202.4 L1448.5 203.2 L1460.5 202.4 L1472.5 201.1 L1496.5 197.8 L1520.5 194.1 L1544.5 189.8" fill="none" stroke="#fff" stroke-width="0.7" opacity="0.25"/>
<path d="M1262 183.4 L1280.5 184.2 L1304.5 186.3 L1328.5 189.7 L1352.5 194.1 L1376.5 197.6 L1400.5 200 L1424.5 201.3 L1448.5 202.2 L1460.5 201.5 L1472.5 200.3 L1496.5 197.4 L1520.5 193.9 L1544.5 189.9" fill="none" stroke="#fff" stroke-width="0.7" opacity="0.25"/>
<path d="M1262 183.3 L1280.5 184 L1304.5 186 L1328.5 189.1 L1352.5 193.3 L1376.5 196.7 L1400.5 199 L1424.5 200.3 L1448.5 201.2 L1460.5 200.6 L1472.5 199.6 L1496.5 196.9 L1520.5 193.6 L1544.5 189.9" fill="none" stroke="#fff" stroke-width="0.7" opacity="0.25"/>
<path d="M1262 183.2 L1280.5 183.8 L1304.5 185.6 L1328.5 188.5 L1352.5 192.5 L1376.5 195.7 L1400.5 197.9 L1424.5 199.2 L1448.5 200.2 L1460.5 199.7 L1472.5 198.8 L1496.5 196.4 L1520.5 193.4 L1544.5 189.9" fill="none" stroke="#fff" stroke-width="0.7" opacity="0.25"/>
<path d="M1262 183 L1280.5 183.6 L1304.5 185.3 L1328.5 188 L1352.5 191.8 L1376.5 194.8 L1400.5 196.9 L1424.5 198.2 L1448.5 199.2 L1460.5 198.8 L1472.5 198 L1496.5 195.9 L1520.5 193.2 L1544.5 189.9" fill="none" stroke="#fff" stroke-width="0.7" opacity="0.25"/>
<path d="M1262 182.9 L1280.5 183.4 L1304.5 184.9 L1328.5 187.4 L1352.5 191 L1376.5 193.9 L1400.5 195.8 L1424.5 197.1 L1448.5 198.2 L1460.5 197.8 L1472.5 197.3 L1496.5 195.5 L1520.5 193 L1544.5 190" fill="none" stroke="#fff" stroke-width="0.7" opacity="0.25"/>
<path d="M1262 182.7 L1280.5 183.2 L1304.5 184.6 L1328.5 186.8 L1352.5 190.3 L1376.5 192.9 L1400.5 194.8 L1424.5 196.1 L1448.5 197.2 L1460.5 196.9 L1472.5 196.5 L1496.5 195 L1520.5 192.7 L1544.5 190" fill="none" stroke="#fff" stroke-width="0.7" opacity="0.25"/>
<path d="M2.5 212 L32.5 209.5 L56.5 205.8 L92.5 200 L128.5 194.5 L164.5 190 L200.5 185.8 L236.5 183.2 L272.5 181.2 L320.5 179.5 L356.5 178.2 L392.5 177.5 L428.5 177 L452.5 177.5 L488.5 179.5 L524.5 180.8 L540 179.5 L572.5 178.8 L596.5 179.5 L668.5 180.8 L716.5 180 L764.5 178.8 L800.5 177 L836.5 175.5 L860.5 175 L884.5 174.5 L908.5 175 L932.5 176.2 L956.5 177.5 L980.5 179.5 L1004.5 181.2 L1028.5 182.5 L1052.5 183 L1080 182.5 L1112.5 182.2 L1136.5 182 L1184.5 182.5 L1232.5 182.5 L1256.5 182.5 L1280.5 183 L1304.5 184.2 L1328.5 186.2 L1352.5 189.5 L1376.5 192 L1400.5 193.8 L1424.5 195 L1448.5 196.2 L1472.5 195.8 L1496.5 194.5 L1520.5 192.5 L1544.5 190" fill="none" stroke="#d000d8" stroke-width="1.6"/>
<path d="M2.5 145 L32.5 145.5 L56.5 143.8 L68.5 136.2 L80.5 130 L92.5 125.5 L104.5 122.5 L116.5 120 L128.5 118 L140.5 118.8 L152.5 119.5 L164.5 120 L176.5 120.5 L188.5 120.8 L200.5 127.5 L212.5 132.5 L224.5 135 L236.5 138 L248.5 141.2 L260.5 145 L272.5 148.8 L284.5 152.5 L296.5 156.2 L308.5 158.8 L320.5 160 L332.5 160.8 L368.5 160 L392.5 161.2 L416.5 162.5 L428.5 163 L440.5 164.5 L452.5 167.5 L464.5 172.5 L476.5 177.5 L488.5 180 L500.5 182.5 L512.5 185 L524.5 187.5 L536.5 190 L548.5 189.5 L572.5 190 L596.5 190 L632.5 189.5 L668.5 188.8 L680.5 186.2 L692.5 182.5 L704.5 176.2 L716.5 171.2 L728.5 168.8 L740.5 167 L764.5 165 L788.5 163 L800.5 162 L812.5 161.8 L860.5 161.8 L872.5 165 L884.5 170 L896.5 176.2 L908.5 182.5 L920.5 187.5 L932.5 192.5 L944.5 197 L956.5 200.5 L968.5 202.5 L980.5 203 L992.5 202 L1004.5 200 L1028.5 197.5 L1052.5 195.5 L1076.5 192.5 L1088.5 190.5 L1112.5 188.8 L1136.5 187.5 L1184.5 185.8 L1232.5 185 L1256.5 185 L1268.5 186.2 L1280.5 191.2 L1292.5 198.8 L1304.5 207.5 L1316.5 217.5 L1328.5 226.2 L1340.5 235 L1352.5 241.2 L1364.5 244.5 L1376.5 243.8 L1388.5 240.5 L1400.5 238.8 L1412.5 237.5 L1424.5 235 L1436.5 230 L1448.5 222.5 L1460.5 212.5 L1472.5 198.8 L1484.5 185 L1496.5 173.8 L1508.5 166.2 L1520.5 160 L1532.5 156.2 L1544.5 152.5" fill="none" stroke="#ff8c1a" stroke-width="1.6"/>
<path d="M2.5 158.8 L56.5 153 L92.5 146.2 L128.5 139.5 L164.5 135.5 L188.5 133.2 L200.5 133.8 L224.5 135.8 L248.5 138.8 L272.5 142 L296.5 145 L320.5 147.5 L356.5 149.5 L392.5 151.2 L428.5 154.5 L452.5 156.2 L488.5 161.2 L524.5 167.5 L540 170 L572.5 174.5 L596.5 177.5 L632.5 180 L668.5 182.5 L692.5 182.5 L716.5 179.5 L740.5 177 L764.5 175 L800.5 171.2 L824.5 169.5 L848.5 168.8 L860.5 168.2 L884.5 169.5 L908.5 172.5 L932.5 176.2 L956.5 180.5 L980.5 183.8 L1004.5 185.8 L1028.5 187.5 L1052.5 188.8 L1080 188.8 L1112.5 187.5 L1136.5 186.8 L1184.5 185.5 L1232.5 185 L1256.5 185 L1280.5 187.5 L1304.5 191.8 L1328.5 198.8 L1352.5 206.2 L1376.5 212.5 L1400.5 216.8 L1424.5 218.2 L1448.5 218 L1460.5 216.2 L1472.5 212.5 L1496.5 205 L1520.5 197.5 L1544.5 189.5" fill="none" stroke="#222" stroke-width="1.1"/>
<path d="M8.5 127.1V144.9" stroke="#000" stroke-width="1.1"/>
<rect x="4.6" y="135.9" width="7.8" height="5.5" fill="#ff0000" stroke="#000" stroke-width="1"/>
<path d="M20.5 131.1V151.1" stroke="#000" stroke-width="1.1"/>
<rect x="16.6" y="140.8" width="7.8" height="1.6" fill="#ff0000" stroke="#000" stroke-width="1"/>
<path d="M32.5 136.9V149.7" stroke="#000" stroke-width="1.1"/>
<path d="M28.5 141.3h8" stroke="#000" stroke-width="1.3"/>
<path d="M44.5 129.3V149.3" stroke="#000" stroke-width="1.1"/>
<rect x="40.6" y="139.6" width="7.8" height="6.2" fill="#ff0000" stroke="#000" stroke-width="1"/>
<path d="M56.5 120.4V148.2" stroke="#000" stroke-width="1.1"/>
<rect x="52.6" y="122.4" width="7.8" height="23.7" fill="#00ee00" stroke="#000" stroke-width="1"/>
<path d="M68.5 105.9V129.9" stroke="#000" stroke-width="1.1"/>
<rect x="64.6" y="107.5" width="7.8" height="14.7" fill="#00ee00" stroke="#000" stroke-width="1"/>
<path d="M80.5 77.7V112.8" stroke="#000" stroke-width="1.1"/>
<rect x="76.6" y="98.6" width="7.8" height="5.6" fill="#00ee00" stroke="#000" stroke-width="1"/>
<path d="M92.5 97.2V134" stroke="#000" stroke-width="1.1"/>
<rect x="88.6" y="99.4" width="7.8" height="23.4" fill="#ff0000" stroke="#000" stroke-width="1"/>
<path d="M104.5 113.4V123.6" stroke="#000" stroke-width="1.1"/>
<rect x="100.6" y="119.7" width="7.8" height="2.4" fill="#00ee00" stroke="#000" stroke-width="1"/>
<path d="M116.5 107.9V120.3" stroke="#000" stroke-width="1.1"/>
<rect x="112.6" y="110.5" width="7.8" height="8.7" fill="#00ee00" stroke="#000" stroke-width="1"/>
<path d="M128.5 100.6V118.7" stroke="#000" stroke-width="1.1"/>
<rect x="124.6" y="110.4" width="7.8" height="3.1" fill="#ff0000" stroke="#000" stroke-width="1"/>
<path d="M140.5 105.4V126.1" stroke="#000" stroke-width="1.1"/>
<rect x="136.6" y="113.4" width="7.8" height="10.8" fill="#ff0000" stroke="#000" stroke-width="1"/>
<path d="M152.5 118.1V132.9" stroke="#000" stroke-width="1.1"/>
<rect x="148.6" y="123.4" width="7.8" height="2.8" fill="#ff0000" stroke="#000" stroke-width="1"/>
<path d="M164.5 118.5V128.5" stroke="#000" stroke-width="1.1"/>
<rect x="160.6" y="119.7" width="7.8" height="6.6" fill="#00ee00" stroke="#000" stroke-width="1"/>
<path d="M176.5 121.2V143.5" stroke="#000" stroke-width="1.1"/>
<rect x="172.6" y="122.9" width="7.8" height="18.3" fill="#ff0000" stroke="#000" stroke-width="1"/>
<path d="M188.5 138.4V150.8" stroke="#000" stroke-width="1.1"/>
<rect x="184.6" y="141.6" width="7.8" height="4.4" fill="#ff0000" stroke="#000" stroke-width="1"/>
<path d="M200.5 143.2V166.4" stroke="#000" stroke-width="1.1"/>
<rect x="196.6" y="146.3" width="7.8" height="16" fill="#ff0000" stroke="#000" stroke-width="1"/>
<path d="M212.5 144.3V165" stroke="#000" stroke-width="1.1"/>
<rect x="208.6" y="149.1" width="7.8" height="13.2" fill="#00ee00" stroke="#000" stroke-width="1"/>
<path d="M224.5 145.2V154.7" stroke="#000" stroke-width="1.1"/>
<rect x="220.6" y="148.8" width="7.8" height="5.9" fill="#ff0000" stroke="#000" stroke-width="1"/>
<path d="M236.5 148.8V164.5" stroke="#000" stroke-width="1.1"/>
<rect x="232.6" y="150.7" width="7.8" height="2.4" fill="#00ee00" stroke="#000" stroke-width="1"/>
<path d="M248.5 143.7V163.4" stroke="#000" stroke-width="1.1"/>
<rect x="244.6" y="150.8" width="7.8" height="12.6" fill="#ff0000" stroke="#000" stroke-width="1"/>
<path d="M260.5 157.6V175.3" stroke="#000" stroke-width="1.1"/>
<rect x="256.6" y="162.8" width="7.8" height="11.1" fill="#ff0000" stroke="#000" stroke-width="1"/>
<path d="M272.5 162.6V176.6" stroke="#000" stroke-width="1.1"/>
<rect x="268.6" y="170.4" width="7.8" height="4.2" fill="#00ee00" stroke="#000" stroke-width="1"/>
<path d="M284.5 158.3V179.8" stroke="#000" stroke-width="1.1"/>
<rect x="280.6" y="161.6" width="7.8" height="10.2" fill="#00ee00" stroke="#000" stroke-width="1"/>
<path d="M296.5 150.8V165.2" stroke="#000" stroke-width="1.1"/>
<rect x="292.6" y="159.4" width="7.8" height="2.4" fill="#00ee00" stroke="#000" stroke-width="1"/>
<path d="M308.5 145.2V165.5" stroke="#000" stroke-width="1.1"/>
<rect x="304.6" y="148.8" width="7.8" height="10" fill="#00ee00" stroke="#000" stroke-width="1"/>
<path d="M320.5 144.9V169.4" stroke="#000" stroke-width="1.1"/>
<rect x="316.6" y="149.3" width="7.8" height="20.1" fill="#ff0000" stroke="#000" stroke-width="1"/>
<path d="M332.5 158V175.6" stroke="#000" stroke-width="1.1"/>
<rect x="328.6" y="159.9" width="7.8" height="9.2" fill="#00ee00" stroke="#000" stroke-width="1"/>
<path d="M344.5 156.6V164.5" stroke="#000" stroke-width="1.1"/>
<path d="M340.5 159.5h8" stroke="#000" stroke-width="1.3"/>
<path d="M356.5 153.8V174.7" stroke="#000" stroke-width="1.1"/>
<rect x="352.6" y="158.5" width="7.8" height="16.2" fill="#ff0000" stroke="#000" stroke-width="1"/>
<path d="M368.5 153.6V174.7" stroke="#000" stroke-width="1.1"/>
<rect x="364.6" y="157.1" width="7.8" height="17.3" fill="#00ee00" stroke="#000" stroke-width="1"/>
<path d="M380.5 151.8V163.2" stroke="#000" stroke-width="1.1"/>
<rect x="376.6" y="156.8" width="7.8" height="3.6" fill="#ff0000" stroke="#000" stroke-width="1"/>
<path d="M392.5 156.1V168.1" stroke="#000" stroke-width="1.1"/>
<rect x="388.6" y="160.3" width="7.8" height="2.6" fill="#ff0000" stroke="#000" stroke-width="1"/>
<path d="M404.5 153.2V174.3" stroke="#000" stroke-width="1.1"/>
<rect x="400.6" y="162.8" width="7.8" height="9.5" fill="#ff0000" stroke="#000" stroke-width="1"/>
<path d="M416.5 160.8V174.7" stroke="#000" stroke-width="1.1"/>
<path d="M412.5 172.3h8" stroke="#000" stroke-width="1.3"/>
<path d="M428.5 160.5V184.8" stroke="#000" stroke-width="1.1"/>
<rect x="424.6" y="162.6" width="7.8" height="10.5" fill="#00ee00" stroke="#000" stroke-width="1"/>
<path d="M440.5 155.2V165.5" stroke="#000" stroke-width="1.1"/>
<path d="M436.5 162.6h8" stroke="#000" stroke-width="1.3"/>
<path d="M452.5 163V181.4" stroke="#000" stroke-width="1.1"/>
<rect x="448.6" y="167.2" width="7.8" height="10.1" fill="#ff0000" stroke="#000" stroke-width="1"/>
<path d="M464.5 174.7V188.6" stroke="#000" stroke-width="1.1"/>
<rect x="460.6" y="177.8" width="7.8" height="2.6" fill="#ff0000" stroke="#000" stroke-width="1"/>
<path d="M476.5 177.8V193.4" stroke="#000" stroke-width="1.1"/>
<rect x="472.6" y="179.7" width="7.8" height="13.1" fill="#ff0000" stroke="#000" stroke-width="1"/>
<path d="M488.5 176.3V194.8" stroke="#000" stroke-width="1.1"/>
<rect x="484.6" y="188.1" width="7.8" height="4.4" fill="#00ee00" stroke="#000" stroke-width="1"/>
<path d="M500.5 179V187.3" stroke="#000" stroke-width="1.1"/>
<path d="M496.5 186.9h8" stroke="#000" stroke-width="1.3"/>
<path d="M512.5 180.8V194.4" stroke="#000" stroke-width="1.1"/>
<rect x="508.6" y="186.2" width="7.8" height="6.6" fill="#ff0000" stroke="#000" stroke-width="1"/>
<path d="M524.5 189.9V200.1" stroke="#000" stroke-width="1.1"/>
<rect x="520.6" y="192.5" width="7.8" height="4.3" fill="#ff0000" stroke="#000" stroke-width="1"/>
<path d="M536.5 192.7V206.7" stroke="#000" stroke-width="1.1"/>
<path d="M532.5 196.6h8" stroke="#000" stroke-width="1.3"/>
<path d="M548.5 186.3V201.4" stroke="#000" stroke-width="1.1"/>
<rect x="544.6" y="188.6" width="7.8" height="7.7" fill="#00ee00" stroke="#000" stroke-width="1"/>
<path d="M560.5 180.5V194.8" stroke="#000" stroke-width="1.1"/>
<path d="M556.5 188h8" stroke="#000" stroke-width="1.3"/>
<path d="M572.5 177.6V191.8" stroke="#000" stroke-width="1.1"/>
<rect x="568.6" y="184.2" width="7.8" height="7.6" fill="#ff0000" stroke="#000" stroke-width="1"/>
<path d="M584.5 183.3V200.1" stroke="#000" stroke-width="1.1"/>
<rect x="580.6" y="191.7" width="7.8" height="3.3" fill="#ff0000" stroke="#000" stroke-width="1"/>
<path d="M596.5 178V195.4" stroke="#000" stroke-width="1.1"/>
<rect x="592.6" y="184.8" width="7.8" height="9.7" fill="#00ee00" stroke="#000" stroke-width="1"/>
<path d="M608.5 182.6V193.1" stroke="#000" stroke-width="1.1"/>
<path d="M604.5 184.7h8" stroke="#000" stroke-width="1.3"/>
<path d="M620.5 175.6V185.1" stroke="#000" stroke-width="1.1"/>
<rect x="616.6" y="180.3" width="7.8" height="4.2" fill="#00ee00" stroke="#000" stroke-width="1"/>
<path d="M632.5 161.1V179.7" stroke="#000" stroke-width="1.1"/>
<rect x="628.6" y="163.4" width="7.8" height="16.3" fill="#00ee00" stroke="#000" stroke-width="1"/>
<path d="M644.5 158.3V166" stroke="#000" stroke-width="1.1"/>
<rect x="640.6" y="160.1" width="7.8" height="3.2" fill="#00ee00" stroke="#000" stroke-width="1"/>
<path d="M656.5 158.3V167" stroke="#000" stroke-width="1.1"/>
<rect x="652.6" y="160.8" width="7.8" height="3.6" fill="#ff0000" stroke="#000" stroke-width="1"/>
<path d="M668.5 160.8V170.6" stroke="#000" stroke-width="1.1"/>
<path d="M664.5 164.5h8" stroke="#000" stroke-width="1.3"/>
<path d="M680.5 144.1V165.3" stroke="#000" stroke-width="1.1"/>
<rect x="676.6" y="148.5" width="7.8" height="16.8" fill="#00ee00" stroke="#000" stroke-width="1"/>
<path d="M692.5 146.6V154.3" stroke="#000" stroke-width="1.1"/>
<rect x="688.6" y="148.1" width="7.8" height="1.8" fill="#ff0000" stroke="#000" stroke-width="1"/>
<path d="M704.5 142.1V157.3" stroke="#000" stroke-width="1.1"/>
<rect x="700.6" y="149.3" width="7.8" height="5.7" fill="#ff0000" stroke="#000" stroke-width="1"/>
<path d="M716.5 151.3V163" stroke="#000" stroke-width="1.1"/>
<rect x="712.6" y="154.6" width="7.8" height="5.7" fill="#ff0000" stroke="#000" stroke-width="1"/>
<path d="M728.5 155.2V167.7" stroke="#000" stroke-width="1.1"/>
<rect x="724.6" y="159.6" width="7.8" height="5.6" fill="#ff0000" stroke="#000" stroke-width="1"/>
<path d="M740.5 156.4V166.4" stroke="#000" stroke-width="1.1"/>
<rect x="736.6" y="158.1" width="7.8" height="6.4" fill="#00ee00" stroke="#000" stroke-width="1"/>
<path d="M752.5 148.3V159.2" stroke="#000" stroke-width="1.1"/>
<rect x="748.6" y="153.1" width="7.8" height="4.4" fill="#00ee00" stroke="#000" stroke-width="1"/>
<path d="M764.5 145.7V172.7" stroke="#000" stroke-width="1.1"/>
<rect x="760.6" y="152.1" width="7.8" height="19.8" fill="#ff0000" stroke="#000" stroke-width="1"/>
<path d="M776.5 158.3V170.6" stroke="#000" stroke-width="1.1"/>
<rect x="772.6" y="161.4" width="7.8" height="8.9" fill="#00ee00" stroke="#000" stroke-width="1"/>
<path d="M788.5 152.4V167.2" stroke="#000" stroke-width="1.1"/>
<rect x="784.6" y="158.1" width="7.8" height="3.2" fill="#00ee00" stroke="#000" stroke-width="1"/>
<path d="M800.5 156.4V173.6" stroke="#000" stroke-width="1.1"/>
<rect x="796.6" y="157.1" width="7.8" height="15.1" fill="#ff0000" stroke="#000" stroke-width="1"/>
<path d="M812.5 164.4V179.3" stroke="#000" stroke-width="1.1"/>
<rect x="808.6" y="167.2" width="7.8" height="11.7" fill="#ff0000" stroke="#000" stroke-width="1"/>
<path d="M824.5 175.3V181.6" stroke="#000" stroke-width="1.1"/>
<path d="M820.5 178.9h8" stroke="#000" stroke-width="1.3"/>
<path d="M836.5 169.9V184.3" stroke="#000" stroke-width="1.1"/>
<rect x="832.6" y="172.5" width="7.8" height="6.2" fill="#00ee00" stroke="#000" stroke-width="1"/>
<path d="M848.5 169.9V180.3" stroke="#000" stroke-width="1.1"/>
<rect x="844.6" y="172.5" width="7.8" height="5.1" fill="#ff0000" stroke="#000" stroke-width="1"/>
<path d="M860.5 175.8V186.1" stroke="#000" stroke-width="1.1"/>
<rect x="856.6" y="177" width="7.8" height="8.3" fill="#ff0000" stroke="#000" stroke-width="1"/>
<path d="M872.5 179.8V192" stroke="#000" stroke-width="1.1"/>
<rect x="868.6" y="184.7" width="7.8" height="7.3" fill="#ff0000" stroke="#000" stroke-width="1"/>
<path d="M884.5 181.3V193.6" stroke="#000" stroke-width="1.1"/>
<rect x="880.6" y="191.5" width="7.8" height="2.1" fill="#ff0000" stroke="#000" stroke-width="1"/>
<path d="M896.5 187.5V194.3" stroke="#000" stroke-width="1.1"/>
<path d="M892.5 193.2h8" stroke="#000" stroke-width="1.3"/>
<path d="M908.5 189.3V199.8" stroke="#000" stroke-width="1.1"/>
<rect x="904.6" y="192.5" width="7.8" height="5.1" fill="#ff0000" stroke="#000" stroke-width="1"/>
<path d="M920.5 193.7V204.3" stroke="#000" stroke-width="1.1"/>
<rect x="916.6" y="197.2" width="7.8" height="4.2" fill="#ff0000" stroke="#000" stroke-width="1"/>
<path d="M932.5 196.7V207.6" stroke="#000" stroke-width="1.1"/>
<rect x="928.6" y="200.7" width="7.8" height="6.5" fill="#ff0000" stroke="#000" stroke-width="1"/>
<path d="M944.5 199.5V212.1" stroke="#000" stroke-width="1.1"/>
<rect x="940.6" y="207.2" width="7.8" height="2.6" fill="#ff0000" stroke="#000" stroke-width="1"/>
<path d="M956.5 204V210.8" stroke="#000" stroke-width="1.1"/>
<path d="M952.5 209.2h8" stroke="#000" stroke-width="1.3"/>
<path d="M968.5 202.7V212.1" stroke="#000" stroke-width="1.1"/>
<rect x="964.6" y="205.7" width="7.8" height="3.4" fill="#00ee00" stroke="#000" stroke-width="1"/>
<path d="M980.5 198.7V209.3" stroke="#000" stroke-width="1.1"/>
<rect x="976.6" y="203.5" width="7.8" height="2.2" fill="#00ee00" stroke="#000" stroke-width="1"/>
<path d="M992.5 188.1V203.7" stroke="#000" stroke-width="1.1"/>
<rect x="988.6" y="191.8" width="7.8" height="11.9" fill="#00ee00" stroke="#000" stroke-width="1"/>
<path d="M1004.5 185.8V193.9" stroke="#000" stroke-width="1.1"/>
<path d="M1000.5 190.9h8" stroke="#000" stroke-width="1.3"/>
<path d="M1016.5 186.6V199.2" stroke="#000" stroke-width="1.1"/>
<rect x="1012.6" y="190.3" width="7.8" height="1.5" fill="#ff0000" stroke="#000" stroke-width="1"/>
<path d="M1028.5 184.1V193.1" stroke="#000" stroke-width="1.1"/>
<rect x="1024.6" y="188.9" width="7.8" height="2.9" fill="#00ee00" stroke="#000" stroke-width="1"/>
<path d="M1040.5 175.8V191.8" stroke="#000" stroke-width="1.1"/>
<rect x="1036.6" y="176.8" width="7.8" height="11.6" fill="#00ee00" stroke="#000" stroke-width="1"/>
<path d="M1052.5 168.3V178" stroke="#000" stroke-width="1.1"/>
<rect x="1048.6" y="173.6" width="7.8" height="2.9" fill="#00ee00" stroke="#000" stroke-width="1"/>
<path d="M1064.5 169V175.2" stroke="#000" stroke-width="1.1"/>
<rect x="1060.6" y="173" width="7.8" height="1.8" fill="#ff0000" stroke="#000" stroke-width="1"/>
<path d="M1076.5 165.5V178.6" stroke="#000" stroke-width="1.1"/>
<path d="M1072.5 174.9h8" stroke="#000" stroke-width="1.3"/>
<path d="M1088.5 175V184.5" stroke="#000" stroke-width="1.1"/>
<rect x="1084.6" y="175.8" width="7.8" height="8.7" fill="#ff0000" stroke="#000" stroke-width="1"/>
<path d="M1100.5 181.4V191.4" stroke="#000" stroke-width="1.1"/>
<rect x="1096.6" y="184.2" width="7.8" height="6.4" fill="#ff0000" stroke="#000" stroke-width="1"/>
<path d="M1112.5 185.8V190.4" stroke="#000" stroke-width="1.1"/>
<rect x="1108.6" y="188.6" width="7.8" height="1.9" fill="#00ee00" stroke="#000" stroke-width="1"/>
<path d="M1124.5 181.4V189.8" stroke="#000" stroke-width="1.1"/>
<path d="M1120.5 189.1h8" stroke="#000" stroke-width="1.3"/>
<path d="M1136.5 180.5V190.7" stroke="#000" stroke-width="1.1"/>
<rect x="1132.6" y="187.1" width="7.8" height="1.6" fill="#00ee00" stroke="#000" stroke-width="1"/>
<path d="M1148.5 184.9V196.7" stroke="#000" stroke-width="1.1"/>
<rect x="1144.6" y="187" width="7.8" height="6.4" fill="#ff0000" stroke="#000" stroke-width="1"/>
<path d="M1160.5 190.9V198.2" stroke="#000" stroke-width="1.1"/>
<rect x="1156.6" y="193.6" width="7.8" height="2.7" fill="#ff0000" stroke="#000" stroke-width="1"/>
<path d="M1172.5 192.9V201" stroke="#000" stroke-width="1.1"/>
<path d="M1168.5 195.8h8" stroke="#000" stroke-width="1.3"/>
<path d="M1184.5 181.1V195.1" stroke="#000" stroke-width="1.1"/>
<rect x="1180.6" y="185.9" width="7.8" height="8.6" fill="#00ee00" stroke="#000" stroke-width="1"/>
<path d="M1196.5 178.6V186.7" stroke="#000" stroke-width="1.1"/>
<rect x="1192.6" y="179.6" width="7.8" height="6.1" fill="#00ee00" stroke="#000" stroke-width="1"/>
<path d="M1208.5 176.1V181.4" stroke="#000" stroke-width="1.1"/>
<rect x="1204.6" y="179" width="7.8" height="1.9" fill="#ff0000" stroke="#000" stroke-width="1"/>
<path d="M1220.5 169.4V182.6" stroke="#000" stroke-width="1.1"/>
<rect x="1216.6" y="180.3" width="7.8" height="1.5" fill="#ff0000" stroke="#000" stroke-width="1"/>
<path d="M1232.5 180.1V192.4" stroke="#000" stroke-width="1.1"/>
<rect x="1228.6" y="180.8" width="7.8" height="7.6" fill="#ff0000" stroke="#000" stroke-width="1"/>
<path d="M1244.5 181.6V188.7" stroke="#000" stroke-width="1.1"/>
<rect x="1240.6" y="185.1" width="7.8" height="3.6" fill="#00ee00" stroke="#000" stroke-width="1"/>
<path d="M1256.5 183.1V191.4" stroke="#000" stroke-width="1.1"/>
<rect x="1252.6" y="184.5" width="7.8" height="6.9" fill="#ff0000" stroke="#000" stroke-width="1"/>
<path d="M1268.5 190.2V202.3" stroke="#000" stroke-width="1.1"/>
<rect x="1264.6" y="190.2" width="7.8" height="11.4" fill="#ff0000" stroke="#000" stroke-width="1"/>
<path d="M1280.5 198.9V220.6" stroke="#000" stroke-width="1.1"/>
<rect x="1276.6" y="201.5" width="7.8" height="17.5" fill="#ff0000" stroke="#000" stroke-width="1"/>
<path d="M1292.5 215.6V230.5" stroke="#000" stroke-width="1.1"/>
<rect x="1288.6" y="218.4" width="7.8" height="7.6" fill="#ff0000" stroke="#000" stroke-width="1"/>
<path d="M1304.5 215.4V238.5" stroke="#000" stroke-width="1.1"/>
<rect x="1300.6" y="225.4" width="7.8" height="11.9" fill="#ff0000" stroke="#000" stroke-width="1"/>
<path d="M1316.5 236V251.6" stroke="#000" stroke-width="1.1"/>
<rect x="1312.6" y="236.9" width="7.8" height="14.3" fill="#ff0000" stroke="#000" stroke-width="1"/>
<path d="M1328.5 247.1V259.7" stroke="#000" stroke-width="1.1"/>
<rect x="1324.6" y="250.8" width="7.8" height="3.9" fill="#ff0000" stroke="#000" stroke-width="1"/>
<path d="M1340.5 249.1V258.7" stroke="#000" stroke-width="1.1"/>
<path d="M1336.5 255.2h8" stroke="#000" stroke-width="1.3"/>
<path d="M1352.5 250.1V261.2" stroke="#000" stroke-width="1.1"/>
<path d="M1348.5 256h8" stroke="#000" stroke-width="1.3"/>
<path d="M1364.5 246.1V263" stroke="#000" stroke-width="1.1"/>
<rect x="1360.6" y="247.9" width="7.8" height="8.2" fill="#00ee00" stroke="#000" stroke-width="1"/>
<path d="M1376.5 226.6V247.9" stroke="#000" stroke-width="1.1"/>
<rect x="1372.6" y="228.5" width="7.8" height="19.5" fill="#00ee00" stroke="#000" stroke-width="1"/>
<path d="M1388.5 225.4V233.8" stroke="#000" stroke-width="1.1"/>
<path d="M1384.5 228.7h8" stroke="#000" stroke-width="1.3"/>
<path d="M1400.5 216.9V230" stroke="#000" stroke-width="1.1"/>
<rect x="1396.6" y="219.4" width="7.8" height="9.5" fill="#00ee00" stroke="#000" stroke-width="1"/>
<path d="M1412.5 211.6V223.5" stroke="#000" stroke-width="1.1"/>
<rect x="1408.6" y="219.4" width="7.8" height="3.9" fill="#ff0000" stroke="#000" stroke-width="1"/>
<path d="M1424.5 179.2V223.2" stroke="#000" stroke-width="1.1"/>
<rect x="1420.6" y="179.5" width="7.8" height="43.7" fill="#00ee00" stroke="#000" stroke-width="1"/>
<path d="M1436.5 179.5V196" stroke="#000" stroke-width="1.1"/>
<rect x="1432.6" y="179.5" width="7.8" height="8.9" fill="#ff0000" stroke="#000" stroke-width="1"/>
<path d="M1448.5 180.3V193.4" stroke="#000" stroke-width="1.1"/>
<rect x="1444.6" y="186.3" width="7.8" height="1.8" fill="#00ee00" stroke="#000" stroke-width="1"/>
<path d="M1460.5 159.1V186.3" stroke="#000" stroke-width="1.1"/>
<rect x="1456.6" y="169.7" width="7.8" height="16.6" fill="#00ee00" stroke="#000" stroke-width="1"/>
<path d="M1472.5 148.8V170.9" stroke="#000" stroke-width="1.1"/>
<rect x="1468.6" y="151.9" width="7.8" height="17.2" fill="#00ee00" stroke="#000" stroke-width="1"/>
<path d="M1484.5 135.4V152.8" stroke="#000" stroke-width="1.1"/>
<rect x="1480.6" y="146.6" width="7.8" height="4.6" fill="#00ee00" stroke="#000" stroke-width="1"/>
<path d="M1496.5 145.3V158.7" stroke="#000" stroke-width="1.1"/>
<rect x="1492.6" y="146.1" width="7.8" height="6.2" fill="#ff0000" stroke="#000" stroke-width="1"/>
<path d="M1508.5 146.6V165.2" stroke="#000" stroke-width="1.1"/>
<path d="M1504.5 152.9h8" stroke="#000" stroke-width="1.3"/>
<path d="M1520.5 142.1V158.7" stroke="#000" stroke-width="1.1"/>
<rect x="1516.6" y="147.6" width="7.8" height="5.6" fill="#00ee00" stroke="#000" stroke-width="1"/>
<path d="M1532.5 144.2V147.4" stroke="#000" stroke-width="1.1"/>
<rect x="1528.6" y="144.2" width="7.8" height="3.2" fill="#00ee00" stroke="#000" stroke-width="1"/>
<path d="M1544.5 140.3V145.2" stroke="#000" stroke-width="1.1"/>
<rect x="1540.6" y="141.9" width="7.8" height="2.2" fill="#00ee00" stroke="#000" stroke-width="1"/>
<text x="6.3" y="295.3" font-size="17.3" fill="#9a9a9a" textLength="44.5" lengthAdjust="spacingAndGlyphs" >GOLD</text>
<text x="60.5" y="295.3" font-size="17.3" fill="#9a9a9a" textLength="43" lengthAdjust="spacingAndGlyphs" >1 Day</text>
<rect x="113.8" y="280.5" width="17.5" height="17.5" rx="2" fill="#fff" stroke="#000" stroke-width="1.2"/>
<path d="M118.8 288.0 h8 l-4 4.5 Z" fill="#000"/>
<text x="141.8" y="295.3" font-size="17.3" fill="#000" textLength="102.9" lengthAdjust="spacingAndGlyphs" >1 ICE Analyse</text>
<text x="264" y="295.3" font-size="17.3" fill="#000" textLength="261.7" lengthAdjust="spacingAndGlyphs" >Prozyklische Signale Abstandstest 3</text>
<text x="545.4" y="295.3" font-size="17.3" fill="#000" textLength="158.1" lengthAdjust="spacingAndGlyphs" >Paint Bar Croc Status</text>
<text x="722.4" y="295.3" font-size="17.3" fill="#000" textLength="270.8" lengthAdjust="spacingAndGlyphs" >EW-Croc Longsignale Abstandstest 3</text>
<text x="1013.5" y="295.3" font-size="17.3" fill="#000" textLength="113.2" lengthAdjust="spacingAndGlyphs" >EW-Croc Short</text>
<text x="1145" y="295.3" font-size="17.3" fill="#000" textLength="201.3" lengthAdjust="spacingAndGlyphs" >ICE Bear/Bull 1 Punkt/Kreis</text>
<text x="1365" y="295.3" font-size="17.3" fill="#000" textLength="117.4" lengthAdjust="spacingAndGlyphs" >2 ICE Analyse 2</text>
<path d="M8.5 593.9V792.5M20.5 615V792.5M32.5 609.5V792.5M44.5 609.5V792.5M56.5 603.7V792.5M68.5 593.2V792.1M80.5 532.5V747.5M92.5 532.5V747.5M104.5 532.5V747.5M116.5 531.9V747.5M128.5 518V747.5M140.5 516.2V747.4M152.5 515.4V740.5M164.5 501.3V740.5M176.5 511.4V740.5M188.5 535.3V740.5M200.5 568.2V740.5M212.5 568.2V740.5M224.5 568.3V737.3M236.5 573.9V716.5M248.5 587.1V659.8M260.5 603.8V636.7M272.5 609.7V636M800.5 722.6V741.4M812.5 731.3V755M824.5 733.8V755M836.5 736.2V755M848.5 731.3V755M860.5 732.1V755M872.5 745V755M884.5 746.2V755M896.5 746.4V755M1472.5 877.1V879.8M1484.5 825.5V854.2M1496.5 822.4V854.2M1508.5 815.5V854.2M1520.5 815.3V854.2M1532.5 788.7V854.2M1544.5 785V854.2" stroke="#00ff00" stroke-width="1" stroke-dasharray="1 1" shape-rendering="crispEdges"/>
<path d="M284.5 607.4V633.8M296.5 592.3V638.2M308.5 572.5V638.2M320.5 572.5V638.2M332.5 572.5V638.2M344.5 572.5V638.3M356.5 572.5V640.5M368.5 572.5V640.5M380.5 572.5V640.6M392.5 572.5V655.8M404.5 572.5V659.2M416.5 572.6V659.4M428.5 582V679.5M440.5 582V684.4M452.5 582.1V696.3M464.5 591.3V706.3M476.5 600V717.7M488.5 602.5V739.5M500.5 602.5V743.8M512.5 602.6V746.8M524.5 614.5V756.4M536.5 626.3V770.6M548.5 627V778.9M560.5 627V791.3M572.5 627V792.5M584.5 627V792.5M596.5 627V793.8M608.5 627V793.7M620.5 627V791.2M632.5 627V782.4M644.5 627V776.2M656.5 627V775M668.5 627V774.3M680.5 627V752.5M692.5 627.3V747.4M704.5 658.9V741.2M716.5 672V733.7M728.5 672V729.4M740.5 672.1V719.2M752.5 682.6V719.3M764.5 698.9V721.2M776.5 711.3V721.2M788.5 714V721.3M908.5 755V762.6M920.5 755V777.6M932.5 757.6V783.8M944.5 766.2V793.8M956.5 766.2V798.8M968.5 766.2V803.8M980.5 766.2V806.3M992.5 766.2V811.7M1004.5 766.2V810M1016.5 766.2V813.7M1028.5 766.2V812.4M1040.5 766.2V804.9M1052.5 766.2V796.3M1064.5 766.2V796.6M1076.5 766.2V797M1088.5 766.2V792.5M1100.5 766.2V791.3M1112.5 766.2V798.7M1124.5 766.2V794.5M1136.5 766.2V793.8M1148.5 766.2V797.5M1160.5 766.2V799.5M1172.5 766.2V802.6M1184.5 766.2V810M1196.5 766.2V815.5M1208.5 766.2V812.4M1220.5 766.2V806.2M1232.5 766.2V806.2M1244.5 766.2V806.2M1256.5 766.2V806.3M1268.5 766.4V807.7M1280.5 785.2V836.4M1292.5 803.9V853.9M1304.5 821.4V870.2M1316.5 845.2V896.5M1328.5 868.8V923.8M1340.5 869.3V925.5M1352.5 872.5V928.8M1364.5 875V940.1M1376.5 875.1V948.9M1388.5 888V970M1400.5 888.1V968.7M1412.5 897.6V966M1424.5 910V939.9M1436.5 915V932.5M1448.5 915.4V932.3" stroke="#ff00ff" stroke-width="1" stroke-dasharray="1 1" shape-rendering="crispEdges"/>
<path d="M8.5 735.5 L20.5 697.5 L32.5 693.8 L44.5 756.8 L56.5 686.2 L68.5 699.5 L80.5 709.5 L92.5 747.5 L104.5 746.8 L116.5 708.2 L128.5 707.8 L140.5 767.5 L152.5 779.5 L164.5 829.5 L176.5 810.5 L188.5 804.5 L200.5 829.5 L212.5 845.5 L224.5 845.2 L236.5 812.5 L248.5 808.8 L260.5 825.5 L272.5 838.2 L284.5 797.5 L296.5 797.8 L308.5 779.5 L320.5 711.8 L332.5 698.2 L344.5 715.5 L356.5 717.5 L368.5 651.8 L380.5 657.5 L392.5 678.2 L404.5 699.2 L416.5 718.8 L428.5 690.5 L440.5 670.5 L452.5 745.5 L464.5 703.8 L476.5 690.5 L488.5 746.8 L500.5 773.8 L512.5 774.5 L524.5 748.2 L536.5 768.2 L548.5 799.5 L560.5 826.2 L572.5 832.5 L584.5 829.5 L596.5 848.8 L608.5 863.8 L620.5 887.5 L632.5 897.5 L644.5 895.8 L656.5 881.2 L668.5 872.5 L680.5 825.5 L692.5 819.5 L704.5 825.5 L716.5 813.8 L728.5 765.5 L740.5 752.5 L752.5 757.5 L764.5 758.2 L776.5 796.2 L788.5 820.5 L800.5 812.5 L812.5 816.2 L824.5 806.8 L836.5 831.8 L848.5 843.2 L860.5 840.5 L872.5 801.8 L884.5 776.8 L896.5 781.8 L908.5 785.5 L920.5 811.8 L932.5 798.8 L944.5 823.8 L956.5 865 L968.5 934.5 L980.5 962.5 L992.5 1007.5 L1004.5 1063.8 L1016.5 1077.5 L1028.5 1081.8 L1040.5 1084.5 L1052.5 1050.5 L1064.5 972.5 L1076.5 974 L1088.5 936.2 L1100.5 951.8 L1112.5 776.2 L1124.5 811.8 L1136.5 803.2 L1148.5 736.8 L1160.5 665.5 L1172.5 644.2 L1184.5 667.5 L1196.5 671.5 L1208.5 648.2 L1220.5 634.5 L1232.5 625.5" fill="none" stroke="#c4c4c4" stroke-width="1.2" stroke-linejoin="round" />
<path d="M8.4 606.2 L20.4 596.2 L32.4 590 L44.4 586.2 L56.4 580 L68.4 578.2 L80.4 581.2 L92.4 587.5 L104.4 591.2 L116.4 593.2 L128.4 595 L140.4 600 L152.4 606.2 L164.4 605 L176.4 595 L188.4 586.2 L200.4 580 L212.4 572.5 L224.4 563.8 L236.4 556.2 L248.4 551.2 L260.4 547.5 L272.4 545.8 L284.4 545.5 L296.4 550 L308.4 557.5 L320.4 566.2 L332.4 582.5 L344.4 596.2 L356.4 612.5 L368.4 627.5 L380.4 642.5 L392.4 657.5 L404.4 670 L416.4 682.5 L428.4 691.2 L440.4 696.2 L452.4 698.8 L464.4 702.5 L476.4 704.5 L488.4 705 L500.4 708.8 L512.4 710 L524.4 709.5 L536.4 707.5 L548.4 712.5 L560.4 720 L572.4 727.5 L584.4 735 L596.4 741.2 L608.4 748.8 L620.4 757.5 L632.4 770 L644.4 781.2 L656.4 787.5 L668.4 793.8 L680.4 800 L692.4 807.5 L704.4 812 L716.4 811.2 L728.4 807 L740.4 801.2 L752.4 793.8 L764.4 787.5 L776.4 775 L788.4 760 L800.4 743.8 L812.4 733.8 L824.4 725 L836.4 715 L848.4 706.2 L860.4 698.8 L872.4 694.2 L884.4 692.5 L896.4 693 L908.4 696.2 L920.4 700 L932.4 706.2 L944.4 713.8 L956.4 723.8 L968.4 733.8 L980.4 742.5 L992.4 752.5 L1004.4 763.8 L1016.4 776.2 L1028.4 786.2 L1040.4 800 L1052.4 815 L1064.4 825 L1076.4 833.8 L1088.4 840 L1100.4 843.8 L1112.4 846.2 L1124.4 847 L1136.4 846.2 L1148.4 841.2 L1160.4 832.5 L1172.4 823.8 L1184.4 817.5 L1196.4 813.8 L1208.4 812.5 L1220.4 803.8 L1232.4 797.5 L1244.4 795 L1268.4 795 L1280.4 795.8 L1292.4 795.8 L1304.4 797.5 L1316.4 798.8 L1328.4 801.2 L1340.4 804.2 L1352.4 804.2 L1364.4 807.5 L1376.4 815 L1388.4 826.2 L1400.4 837.5 L1412.4 852.5 L1424.4 870 L1436.4 893.8 L1448.4 912.5 L1460.4 932.5 L1472.4 952.5 L1484.4 967.5 L1496.4 980 L1508.4 988.8 L1520.4 990.8 L1532.4 985 L1542.4 975" fill="none" stroke="#0000ff" stroke-width="1.05" stroke-dasharray="3 3.8" stroke-linejoin="round" />
<path d="M4.2 574.2 L20.4 573.2 L32.4 576.2 L44.4 586.2 L56.4 600 L68.4 610.8 L80.4 616.2 L92.4 617.5 L116.4 618.2 L128.4 607.5 L140.4 585 L152.4 568.8 L164.4 557.5 L176.4 542.5 L188.4 527.5 L200.4 517.5 L212.4 513 L224.4 516.2 L236.4 532.5 L248.4 545 L260.4 567.5 L272.4 587.5 L284.4 607.5 L296.4 625 L308.4 642.5 L320.4 663.8 L332.4 681.2 L344.4 692.5 L356.4 698.8 L368.4 703.8 L380.4 708.8 L404.4 708.2 L428.4 706.2 L440.4 700 L452.4 702 L464.4 706.2 L476.4 710 L488.4 713.8 L512.4 717.5 L524.4 728 L536.4 741.2 L548.4 753.8 L560.4 766.2 L572.4 777.5 L584.4 787.5 L596.4 801.2 L608.4 815 L620.4 817.5 L632.4 816.2 L644.4 818.8 L656.4 821.2 L668.4 821.2 L680.4 812.5 L692.4 797.5 L704.4 782.5 L716.4 770 L728.4 757.5 L740.4 745 L752.4 722.5 L764.4 706.2 L776.4 695 L788.4 692.5 L800.4 690 L812.4 683.8 L824.4 681.8 L836.4 686.2 L848.4 692.5 L860.4 700 L872.4 708.8 L884.4 716.2 L896.4 723.8 L908.4 732.5 L920.4 743.8 L932.4 756.2 L944.4 770 L956.4 782.5 L968.4 793.8 L980.4 805 L992.4 818.8 L1004.4 835 L1016.4 847.5 L1028.4 856.2 L1040.4 863.8 L1052.4 866.2 L1064.4 864.5 L1076.4 860 L1088.4 853.8 L1100.4 842.5 L1112.4 823.8 L1124.4 807.5 L1136.4 795 L1148.4 786.2 L1160.4 782.5 L1172.4 780 L1184.4 777.5 L1196.4 777.5 L1208.4 785 L1220.4 800 L1232.4 811.2 L1244.4 816.2 L1256.4 812.5 L1268.4 810 L1280.4 805 L1292.4 803.8 L1304.4 801.2 L1316.4 798.2 L1328.4 798.2 L1340.4 808.8 L1352.4 830 L1364.4 853.8 L1376.4 880 L1388.4 925 L1400.4 960 L1412.4 990 L1424.4 1015 L1436.4 1030 L1448.4 1036.2 L1460.4 1033.8 L1472.4 1022.5 L1484.4 1000 L1496.4 965 L1508.4 922.5 L1520.4 890 L1532.4 842.5 L1544.4 805" fill="none" stroke="#ff0000" stroke-width="1.05" stroke-dasharray="3 3.8" stroke-linejoin="round" />
<path d="M56.4 625 L68.4 621.2 L80.4 618.8 L92.4 613.8 L104.4 593.8 L116.4 560 L128.4 535 L140.4 520 L152.4 507.5 L164.4 501.2 L176.4 512.5 L188.4 522.5 L200.4 530 L212.4 540 L224.4 567.5 L236.4 597.5 L248.4 628.8 L260.4 647.5 L272.4 662.5 L284.4 672.5 L296.4 682.5 L308.4 697.5 L320.4 706.2 L332.4 710 L344.4 713.8 L356.4 710 L368.4 708.8 L404.4 708.2 L428.4 707.5 L440.4 706.2 L452.4 710.5 L464.4 717 L476.4 723.8 L488.4 733.8 L500.4 742.5 L512.4 753.8 L524.4 763.8 L536.4 780 L548.4 797.5 L560.4 810 L572.4 821.2 L584.4 824.5 L596.4 826.2 L608.4 827 L620.4 823.8 L632.4 815 L644.4 808.8 L656.4 802.5 L668.4 790 L680.4 753.8 L692.4 742.5 L704.4 733.8 L716.4 716.2 L728.4 700 L740.4 685 L752.4 682.5 L764.4 678.8 L776.4 680 L788.4 685 L800.4 691.2 L812.4 697.5 L824.4 697.5 L836.4 700 L848.4 712.5 L860.4 728.8 L872.4 743.8 L884.4 751.2 L896.4 761.2 L908.4 775 L920.4 786.2 L932.4 797.5 L944.4 812.5 L956.4 827.5 L968.4 840 L980.4 850 L992.4 866.2 L1004.4 876.2 L1016.4 880 L1028.4 875 L1040.4 862.5 L1052.4 847.5 L1064.4 832.5 L1076.4 817.5 L1088.4 800 L1100.4 782.5 L1112.4 770 L1124.4 762.5 L1136.4 763.8 L1148.4 780 L1160.4 790 L1172.4 795 L1184.4 807.5 L1196.4 817.5 L1208.4 821.2 L1220.4 823.8 L1232.4 818.8 L1244.4 811.2 L1256.4 797.5 L1268.4 788.8 L1280.4 786.2 L1292.4 790 L1304.4 807.5 L1316.4 837.5 L1328.4 862.5 L1340.4 892.5 L1352.4 942.5 L1364.4 980 L1376.4 1022.5 L1388.4 1047.5 L1400.4 1067 L1412.4 1062.5 L1424.4 1045 L1436.4 1020 L1448.4 990 L1460.4 947.5 L1472.4 905 L1484.4 875 L1496.4 832.5 L1508.4 775 L1520.4 740 L1532.4 712.5 L1544.4 686.2" fill="none" stroke="#00c800" stroke-width="1.05" stroke-dasharray="3 3.8" stroke-linejoin="round" />
<path d="M4.2 792.5 L68.4 792.5 L80.4 747.5 L140.4 747.5 L152.4 740.5 L212.4 740.5 L224.4 737.5 L236.4 717 L248.4 660 L260.4 636.8 L272.4 636.2 L284.4 607.5 L296.4 592.5 L308.4 572.5 L416.4 572.5 L428.4 582 L452.4 582 L464.4 591.2 L476.4 600 L488.4 602.5 L512.4 602.5 L536.4 626.2 L548.4 627 L692.4 627 L704.4 658.8 L716.4 672 L740.4 672 L752.4 682.5 L764.4 698.8 L776.4 711.2 L788.4 713.8 L800.4 741.2 L812.4 755 L920.4 755 L932.4 757.5 L944.4 766.2 L1076.4 766.2 L1088.4 766.2 L1268.4 766.2 L1280.4 785 L1292.4 803.8 L1304.4 821.2 L1316.4 845 L1328.4 868.8 L1340.4 869.2 L1352.4 872.5 L1364.4 875 L1376.4 875 L1388.4 888 L1400.4 888 L1412.4 897.5 L1424.4 910 L1436.4 915 L1448.4 915.5 L1460.4 905 L1472.4 880 L1484.4 854.2 L1544.4 854.2" fill="none" stroke="#ff00ff" stroke-width="1.1" stroke-linejoin="round" />
<path d="M4.2 592.2 L8.4 593.8 L20.4 615 L32.4 609.5 L44.4 609.5 L56.4 603.8 L68.4 593.8 L80.4 532.5 L104.4 532.5 L116.4 532 L128.4 518 L140.4 516.2 L152.4 515.5 L164.4 501.2 L176.4 511.2 L188.4 535 L200.4 568.2 L224.4 568.2 L236.4 573.8 L248.4 587 L260.4 603.8 L272.4 609.5 L284.4 633.8 L296.4 638.2 L344.4 638.2 L356.4 640.5 L380.4 640.5 L392.4 655.8 L404.4 659.2 L416.4 659.2 L428.4 679.5 L440.4 684.2 L452.4 696.2 L464.4 706.2 L476.4 717.5 L488.4 739.5 L500.4 743.8 L512.4 746.8 L524.4 756.2 L536.4 770.5 L548.4 778.8 L560.4 791.2 L572.4 792.5 L584.4 792.5 L596.4 793.8 L608.4 793.8 L620.4 791.2 L632.4 782.5 L644.4 776.2 L656.4 775 L668.4 774.5 L680.4 752.5 L692.4 747.5 L704.4 741.2 L716.4 733.8 L728.4 729.5 L740.4 719.2 L752.4 719.2 L764.4 721.2 L788.4 721.2 L800.4 722.5 L812.4 731.2 L824.4 733.8 L836.4 736.2 L848.4 731.2 L860.4 732 L872.4 745 L884.4 746.2 L896.4 746.2 L908.4 762.5 L920.4 777.5 L932.4 783.8 L944.4 793.8 L956.4 798.8 L968.4 803.8 L980.4 806.2 L992.4 811.8 L1004.4 810 L1016.4 813.8 L1028.4 812.5 L1040.4 805 L1052.4 796.2 L1076.4 797 L1088.4 792.5 L1100.4 791.2 L1112.4 798.8 L1124.4 794.5 L1136.4 793.8 L1148.4 797.5 L1160.4 799.5 L1172.4 802.5 L1184.4 810 L1196.4 815.5 L1208.4 812.5 L1220.4 806.2 L1232.4 806.2 L1256.4 806.2 L1268.4 807.5 L1280.4 836.2 L1292.4 853.8 L1304.4 870 L1316.4 896.2 L1328.4 923.8 L1340.4 925.5 L1352.4 928.8 L1364.4 940 L1376.4 948.8 L1388.4 970 L1400.4 968.8 L1412.4 966.2 L1424.4 940 L1436.4 932.5 L1448.4 932.5 L1460.4 905 L1472.4 877.5 L1484.4 825.5 L1496.4 822.5 L1508.4 815.5 L1520.4 815.5 L1532.4 788.8 L1544.4 785" fill="none" stroke="#00ff00" stroke-width="1.1" stroke-linejoin="round" />
<path d="M4.2 568.2 L8.4 568.8 L20.4 614.5 L32.4 617.5 L44.4 617 L56.4 600 L68.4 576.2 L80.4 515.5 L116.4 515.5 L128.4 512.5 L140.4 511.2 L152.4 509.5 L164.4 480 L176.4 499.5 L188.4 546.2 L200.4 592.5 L224.4 592.5 L236.4 601.2 L248.4 627.5 L260.4 645 L272.4 653.2 L284.4 693.8 L296.4 703.8 L308.4 704.5 L344.4 704.5 L356.4 707.5 L380.4 707.5 L392.4 699.2 L416.4 699.2 L428.4 731.8 L440.4 731.2 L452.4 731.8 L464.4 741.2 L476.4 748.8 L488.4 754.5 L500.4 754.5 L512.4 758.8 L524.4 767.5 L536.4 781.2 L548.4 797.5 L560.4 821.8 L572.4 823.8 L584.4 823.8 L596.4 827.5 L608.4 827.5 L620.4 822.5 L632.4 793.8 L644.4 777.5 L656.4 775 L668.4 775 L680.4 746.2 L692.4 736.2 L704.4 727.5 L716.4 712.5 L728.4 700 L740.4 683.2 L752.4 683.2 L764.4 687 L788.4 687 L800.4 690 L812.4 707.5 L824.4 712.5 L836.4 718.8 L848.4 718.8 L860.4 721.2 L872.4 747 L884.4 749.2 L896.4 760 L908.4 785 L920.4 806.2 L932.4 812.5 L944.4 822 L956.4 832.5 L968.4 841.2 L980.4 847 L992.4 856.8 L1004.4 854.2 L1016.4 854.2 L1028.4 851.2 L1040.4 836.2 L1052.4 819.2 L1064.4 819.2 L1076.4 807.5 L1088.4 797 L1100.4 788.8 L1112.4 788.8 L1124.4 775.5 L1136.4 773.8 L1148.4 782.5 L1160.4 785.8 L1172.4 791.2 L1184.4 807.5 L1196.4 817.5 L1208.4 811.2 L1220.4 798.8 L1232.4 799.2 L1256.4 799.2 L1268.4 801.2 L1280.4 837.5 L1292.4 856.2 L1304.4 873.8 L1316.4 900 L1328.4 938.8 L1340.4 942 L1352.4 947.5 L1364.4 963.8 L1376.4 983.8 L1388.4 1015.5 L1400.4 1015.5 L1412.4 1008.8 L1424.4 946.2 L1436.4 942.5 L1448.4 942.5 L1460.4 905 L1472.4 851.2 L1484.4 796.8 L1496.4 789.5 L1508.4 776.2 L1520.4 775.5 L1532.4 721.2 L1544.4 715.8" fill="none" stroke="#0000ff" stroke-width="2.45" stroke-linejoin="round" />
<path d="M4.2 615 L20.4 615 L32.4 601.2 L56.4 601.2 L68.4 594.2 L80.4 548.8 L116.4 548.8 L128.4 522.5 L188.4 522.5 L200.4 545.5 L248.4 545.5 L260.4 563.8 L272.4 567 L284.4 572.5 L380.4 572.5 L392.4 612.5 L404.4 618.2 L416.4 618.2 L440.4 637.5 L452.4 660 L464.4 672.5 L476.4 687 L488.4 724.5 L500.4 733.2 L512.4 734.2 L524.4 746.2 L536.4 758.8 L548.4 760 L620.4 760 L632.4 775 L668.4 775 L680.4 759.5 L692.4 759.5 L704.4 755 L836.4 755 L848.4 746.2 L860.4 742.5 L884.4 742.5 L896.4 732.5 L908.4 741.2 L920.4 749.5 L932.4 756.2 L944.4 766.2 L1004.4 766.2 L1016.4 773.8 L1064.4 773.8 L1076.4 787.5 L1088.4 787.5 L1100.4 795 L1112.4 812 L1124.4 813 L1268.4 813 L1280.4 833.8 L1292.4 851.2 L1304.4 867.5 L1316.4 892.5 L1328.4 908.8 L1340.4 908.8 L1352.4 912.5 L1364.4 915.5 L1376.4 915.5 L1388.4 923.2 L1448.4 923.2 L1460.4 905 L1472.4 880 L1484.4 854.2 L1544.4 854.2" fill="none" stroke="#ff0000" stroke-width="2.55" stroke-linejoin="round" />
<path d="M4.2 792.5 L68.4 792.5 L80.4 747.5 L140.4 747.5 L152.4 740.5 L212.4 740.5 L224.4 737.5 L236.4 717 L248.4 660 L260.4 636.8 L272.4 636.2 L284.4 607.5 L296.4 592.5 L308.4 572.5 L416.4 572.5 L428.4 582 L452.4 582 L464.4 591.2 L476.4 600 L488.4 602.5 L512.4 602.5 L536.4 626.2 L548.4 627 L692.4 627 L704.4 658.8 L716.4 672 L740.4 672 L752.4 682.5 L764.4 698.8 L776.4 711.2 L788.4 713.8 L800.4 741.2 L812.4 755 L920.4 755 L932.4 757.5 L944.4 766.2 L1076.4 766.2 L1088.4 766.2 L1268.4 766.2 L1280.4 785 L1292.4 803.8 L1304.4 821.2 L1316.4 845 L1328.4 868.8 L1340.4 869.2 L1352.4 872.5 L1364.4 875 L1376.4 875 L1388.4 888 L1400.4 888 L1412.4 897.5 L1424.4 910 L1436.4 915 L1448.4 915.5 L1460.4 905 L1472.4 880 L1484.4 854.2 L1544.4 854.2" fill="none" stroke="#ff60ff" stroke-width="1.0" stroke-linejoin="round" opacity="0.6"/>
<path d="M1484.5 854.2 L1544.5 854.2" fill="none" stroke="#ff20c0" stroke-width="1.6" stroke-linejoin="round" opacity="0.7"/>
<path d="M8.5 566.2V637.5" stroke="#000000" stroke-width="1.1"/>
<rect x="4" y="601.2" width="8.9" height="22" fill="#000000"/>
<path d="M20.5 582V662.5" stroke="#ff0000" stroke-width="1.1"/>
<rect x="16.1" y="621.2" width="8.9" height="6.2" fill="#ff0000"/>
<path d="M32.5 605.5V656.8" stroke="#000000" stroke-width="1.1"/>
<rect x="28.6" y="621" width="7.8" height="3.9" fill="#fff" stroke="#000000" stroke-width="1.1"/>
<path d="M44.5 575V655" stroke="#000000" stroke-width="1.1"/>
<rect x="40" y="616.2" width="8.9" height="25" fill="#000000"/>
<path d="M56.5 539.2V650.8" stroke="#000000" stroke-width="1.1"/>
<rect x="52.6" y="548" width="7.8" height="93.9" fill="#fff" stroke="#000000" stroke-width="1.1"/>
<path d="M68.5 481.2V577.5" stroke="#00ff00" stroke-width="1.1"/>
<rect x="64.6" y="488.1" width="7.8" height="57.6" fill="#fff" stroke="#00ff00" stroke-width="1.1"/>
<path d="M80.5 368.2V508.8" stroke="#00ff00" stroke-width="1.1"/>
<rect x="76.6" y="452.3" width="7.8" height="21.4" fill="#fff" stroke="#00ff00" stroke-width="1.1"/>
<path d="M92.5 446.2V593.8" stroke="#00ff00" stroke-width="1.1"/>
<rect x="88" y="455" width="8.9" height="93.8" fill="#00ff00"/>
<path d="M104.5 511.2V552" stroke="#00ff00" stroke-width="1.1"/>
<rect x="100.6" y="537" width="7.8" height="8.7" fill="#fff" stroke="#00ff00" stroke-width="1.1"/>
<path d="M116.5 489.2V538.8" stroke="#000000" stroke-width="1.1"/>
<rect x="112.6" y="500.1" width="7.8" height="33.6" fill="#fff" stroke="#000000" stroke-width="1.1"/>
<path d="M128.5 460V532.5" stroke="#ff0000" stroke-width="1.1"/>
<rect x="124" y="499.2" width="8.9" height="12.5" fill="#ff0000"/>
<path d="M140.5 479.2V562" stroke="#ff0000" stroke-width="1.1"/>
<rect x="136.1" y="511.2" width="8.9" height="43.2" fill="#ff0000"/>
<path d="M152.5 530V589.5" stroke="#ff0000" stroke-width="1.1"/>
<rect x="148.1" y="551.2" width="8.9" height="11.2" fill="#ff0000"/>
<path d="M164.5 531.5V571.8" stroke="#ff0000" stroke-width="1.1"/>
<rect x="160.6" y="537" width="7.8" height="25.4" fill="#fff" stroke="#ff0000" stroke-width="1.1"/>
<path d="M176.5 542.5V631.8" stroke="#ff0000" stroke-width="1.1"/>
<rect x="172.1" y="549.2" width="8.9" height="73.2" fill="#ff0000"/>
<path d="M188.5 611.2V661.2" stroke="#ff0000" stroke-width="1.1"/>
<rect x="184.1" y="624.2" width="8.9" height="17.5" fill="#ff0000"/>
<path d="M200.5 630.5V723.8" stroke="#ff0000" stroke-width="1.1"/>
<rect x="196.1" y="643.2" width="8.9" height="64.2" fill="#ff0000"/>
<path d="M212.5 635V718" stroke="#ff0000" stroke-width="1.1"/>
<rect x="208.6" y="655" width="7.8" height="51.9" fill="#fff" stroke="#ff0000" stroke-width="1.1"/>
<path d="M224.5 638.8V676.8" stroke="#000000" stroke-width="1.1"/>
<rect x="220.1" y="653.2" width="8.9" height="23.5" fill="#000000"/>
<path d="M236.5 653.2V716.2" stroke="#000000" stroke-width="1.1"/>
<rect x="232.6" y="661.3" width="7.8" height="8.7" fill="#fff" stroke="#000000" stroke-width="1.1"/>
<path d="M248.5 632.5V711.8" stroke="#000000" stroke-width="1.1"/>
<rect x="244.1" y="661.2" width="8.9" height="50.5" fill="#000000"/>
<path d="M260.5 688.2V759.5" stroke="#000000" stroke-width="1.1"/>
<rect x="256.1" y="709.2" width="8.9" height="44.5" fill="#000000"/>
<path d="M272.5 708.2V764.5" stroke="#000000" stroke-width="1.1"/>
<rect x="268.6" y="740" width="7.8" height="15.7" fill="#fff" stroke="#000000" stroke-width="1.1"/>
<path d="M284.5 691.2V777.5" stroke="#ff0000" stroke-width="1.1"/>
<rect x="280.6" y="705" width="7.8" height="39.9" fill="#fff" stroke="#ff0000" stroke-width="1.1"/>
<path d="M296.5 661.2V718.8" stroke="#00ff00" stroke-width="1.1"/>
<rect x="292.6" y="696.3" width="7.8" height="8.7" fill="#fff" stroke="#00ff00" stroke-width="1.1"/>
<path d="M308.5 638.8V720" stroke="#00ff00" stroke-width="1.1"/>
<rect x="304.6" y="653.8" width="7.8" height="38.9" fill="#fff" stroke="#00ff00" stroke-width="1.1"/>
<path d="M320.5 637.5V735.5" stroke="#00ff00" stroke-width="1.1"/>
<rect x="316.1" y="655" width="8.9" height="80.5" fill="#00ff00"/>
<path d="M332.5 690V760.5" stroke="#00ff00" stroke-width="1.1"/>
<rect x="328.6" y="698" width="7.8" height="35.6" fill="#fff" stroke="#00ff00" stroke-width="1.1"/>
<path d="M344.5 684.2V716.2" stroke="#00ff00" stroke-width="1.1"/>
<rect x="340.6" y="694.3" width="7.8" height="3.4" fill="#fff" stroke="#00ff00" stroke-width="1.1"/>
<path d="M356.5 673.2V756.8" stroke="#ff0000" stroke-width="1.1"/>
<rect x="352.1" y="692" width="8.9" height="64.8" fill="#ff0000"/>
<path d="M368.5 672.5V756.8" stroke="#ff0000" stroke-width="1.1"/>
<rect x="364.6" y="686.8" width="7.8" height="68.2" fill="#fff" stroke="#ff0000" stroke-width="1.1"/>
<path d="M380.5 665V710.8" stroke="#000000" stroke-width="1.1"/>
<rect x="376.1" y="685" width="8.9" height="14.5" fill="#000000"/>
<path d="M392.5 682.5V730.5" stroke="#00ff00" stroke-width="1.1"/>
<rect x="388.1" y="699.2" width="8.9" height="10.2" fill="#00ff00"/>
<path d="M404.5 670.8V755.5" stroke="#000000" stroke-width="1.1"/>
<rect x="400.1" y="709.2" width="8.9" height="38.2" fill="#000000"/>
<path d="M416.5 701.2V756.8" stroke="#00ff00" stroke-width="1.1"/>
<path d="M412.1 747.4h8.8" stroke="#00ff00" stroke-width="1.8"/>
<path d="M428.5 700V797.5" stroke="#ff0000" stroke-width="1.1"/>
<rect x="424.6" y="708.8" width="7.8" height="41.1" fill="#fff" stroke="#ff0000" stroke-width="1.1"/>
<path d="M440.5 678.8V720" stroke="#ff0000" stroke-width="1.1"/>
<path d="M436.1 708.2h8.8" stroke="#ff0000" stroke-width="1.8"/>
<path d="M452.5 710V783.8" stroke="#ff0000" stroke-width="1.1"/>
<rect x="448.1" y="727" width="8.9" height="40.5" fill="#ff0000"/>
<path d="M464.5 757V812.5" stroke="#ff0000" stroke-width="1.1"/>
<rect x="460.1" y="769.2" width="8.9" height="10.2" fill="#ff0000"/>
<path d="M476.5 769.2V831.8" stroke="#ff0000" stroke-width="1.1"/>
<rect x="472.1" y="777" width="8.9" height="52.5" fill="#ff0000"/>
<path d="M488.5 763.2V837.5" stroke="#00ff00" stroke-width="1.1"/>
<rect x="484.6" y="811" width="7.8" height="16.6" fill="#fff" stroke="#00ff00" stroke-width="1.1"/>
<path d="M500.5 774.2V807.5" stroke="#ff0000" stroke-width="1.1"/>
<rect x="496.6" y="804.9" width="7.9" height="2.2" fill="#fff" stroke="#ff0000" stroke-width="1.1"/>
<path d="M512.5 781.2V835.8" stroke="#000000" stroke-width="1.1"/>
<rect x="508.1" y="803" width="8.9" height="26.5" fill="#000000"/>
<path d="M524.5 818V858.8" stroke="#000000" stroke-width="1.1"/>
<rect x="520" y="828.2" width="8.9" height="17.2" fill="#000000"/>
<path d="M536.5 829.2V885" stroke="#000000" stroke-width="1.1"/>
<path d="M532.1 844.8h8.8" stroke="#000000" stroke-width="1.8"/>
<path d="M548.5 803.2V863.8" stroke="#00ff00" stroke-width="1.1"/>
<rect x="544.6" y="813" width="7.8" height="29.6" fill="#fff" stroke="#00ff00" stroke-width="1.1"/>
<path d="M560.5 780V837.5" stroke="#00ff00" stroke-width="1.1"/>
<rect x="556.6" y="809.3" width="7.8" height="2.1" fill="#fff" stroke="#00ff00" stroke-width="1.1"/>
<path d="M572.5 768.8V825.5" stroke="#00ff00" stroke-width="1.1"/>
<rect x="568" y="795" width="8.9" height="30.5" fill="#00ff00"/>
<path d="M584.5 791.2V858.8" stroke="#00ff00" stroke-width="1.1"/>
<rect x="580" y="825" width="8.9" height="13.2" fill="#00ff00"/>
<path d="M596.5 770V840" stroke="#00ff00" stroke-width="1.1"/>
<rect x="592.6" y="798" width="7.8" height="37.6" fill="#fff" stroke="#00ff00" stroke-width="1.1"/>
<path d="M608.5 788.8V830.8" stroke="#000000" stroke-width="1.1"/>
<path d="M604.1 797.1h8.8" stroke="#000000" stroke-width="1.8"/>
<path d="M620.5 760.5V798.8" stroke="#000000" stroke-width="1.1"/>
<rect x="616.6" y="780" width="7.8" height="15.7" fill="#fff" stroke="#000000" stroke-width="1.1"/>
<path d="M632.5 702.5V777" stroke="#00ff00" stroke-width="1.1"/>
<rect x="628.6" y="712.3" width="7.8" height="64.2" fill="#fff" stroke="#00ff00" stroke-width="1.1"/>
<path d="M644.5 691.2V722" stroke="#00ff00" stroke-width="1.1"/>
<rect x="640.6" y="698.8" width="7.8" height="11.9" fill="#fff" stroke="#00ff00" stroke-width="1.1"/>
<path d="M656.5 691.2V726.2" stroke="#00ff00" stroke-width="1.1"/>
<rect x="652" y="701.2" width="8.9" height="14.2" fill="#00ff00"/>
<path d="M668.5 701.2V740.5" stroke="#00ff00" stroke-width="1.1"/>
<rect x="664" y="714.2" width="8.9" height="3.2" fill="#00ff00"/>
<path d="M680.5 634.2V719.2" stroke="#000000" stroke-width="1.1"/>
<rect x="676.6" y="652.3" width="7.8" height="66.4" fill="#fff" stroke="#000000" stroke-width="1.1"/>
<path d="M692.5 644.2V675" stroke="#000000" stroke-width="1.1"/>
<rect x="688" y="650.2" width="8.9" height="7.2" fill="#000000"/>
<path d="M704.5 626.2V687" stroke="#000000" stroke-width="1.1"/>
<rect x="700" y="655.2" width="8.9" height="23" fill="#000000"/>
<path d="M716.5 663.2V710" stroke="#000000" stroke-width="1.1"/>
<rect x="712" y="676.5" width="8.9" height="22.8" fill="#000000"/>
<path d="M728.5 678.8V728.8" stroke="#000000" stroke-width="1.1"/>
<rect x="724" y="696.2" width="8.9" height="22.5" fill="#000000"/>
<path d="M740.5 683.8V723.8" stroke="#ff0000" stroke-width="1.1"/>
<rect x="736.6" y="691" width="7.8" height="24.6" fill="#fff" stroke="#ff0000" stroke-width="1.1"/>
<path d="M752.5 651.2V695" stroke="#ff0000" stroke-width="1.1"/>
<rect x="748.6" y="671" width="7.8" height="16.4" fill="#fff" stroke="#ff0000" stroke-width="1.1"/>
<path d="M764.5 640.5V748.8" stroke="#ff0000" stroke-width="1.1"/>
<rect x="760" y="666.2" width="8.9" height="79.2" fill="#ff0000"/>
<path d="M776.5 691.2V740.5" stroke="#ff0000" stroke-width="1.1"/>
<rect x="772.6" y="704.3" width="7.8" height="34.6" fill="#fff" stroke="#ff0000" stroke-width="1.1"/>
<path d="M788.5 667.5V727" stroke="#00ff00" stroke-width="1.1"/>
<rect x="784.6" y="691" width="7.8" height="11.7" fill="#fff" stroke="#00ff00" stroke-width="1.1"/>
<path d="M800.5 683.8V752.5" stroke="#000000" stroke-width="1.1"/>
<rect x="796" y="686.2" width="8.9" height="60.5" fill="#000000"/>
<path d="M812.5 715.5V775.5" stroke="#ff0000" stroke-width="1.1"/>
<rect x="808" y="727" width="8.9" height="46.8" fill="#ff0000"/>
<path d="M824.5 759.2V784.5" stroke="#ff0000" stroke-width="1.1"/>
<path d="M820.1 773.9h8.8" stroke="#ff0000" stroke-width="1.8"/>
<path d="M836.5 737.5V795.5" stroke="#ff0000" stroke-width="1.1"/>
<rect x="832.6" y="748.8" width="7.8" height="23.9" fill="#fff" stroke="#ff0000" stroke-width="1.1"/>
<path d="M848.5 737.5V779.5" stroke="#ff0000" stroke-width="1.1"/>
<rect x="844" y="748" width="8.9" height="20.2" fill="#ff0000"/>
<path d="M860.5 761.2V802.5" stroke="#000000" stroke-width="1.1"/>
<rect x="856" y="766.2" width="8.9" height="33.2" fill="#000000"/>
<path d="M872.5 777.5V826.2" stroke="#000000" stroke-width="1.1"/>
<rect x="868" y="797" width="8.9" height="29.2" fill="#000000"/>
<path d="M884.5 783.2V832.5" stroke="#000000" stroke-width="1.1"/>
<rect x="880" y="824.2" width="8.9" height="8.2" fill="#000000"/>
<path d="M896.5 808.2V835.5" stroke="#ff0000" stroke-width="1.1"/>
<rect x="892.5" y="829.9" width="7.9" height="2.2" fill="#fff" stroke="#ff0000" stroke-width="1.1"/>
<path d="M908.5 815.5V857.5" stroke="#ff0000" stroke-width="1.1"/>
<rect x="904" y="828.2" width="8.9" height="20.5" fill="#ff0000"/>
<path d="M920.5 833.2V875.5" stroke="#ff0000" stroke-width="1.1"/>
<rect x="916" y="847" width="8.9" height="16.8" fill="#ff0000"/>
<path d="M932.5 845V888.8" stroke="#ff0000" stroke-width="1.1"/>
<rect x="928" y="861.2" width="8.9" height="26.2" fill="#ff0000"/>
<path d="M944.5 856.2V906.8" stroke="#ff0000" stroke-width="1.1"/>
<rect x="940" y="887" width="8.9" height="10.5" fill="#ff0000"/>
<path d="M956.5 874.2V901.8" stroke="#000000" stroke-width="1.1"/>
<path d="M952.1 895.1h8.8" stroke="#000000" stroke-width="1.8"/>
<path d="M968.5 869.2V906.8" stroke="#000000" stroke-width="1.1"/>
<rect x="964.6" y="881.8" width="7.8" height="12.7" fill="#fff" stroke="#000000" stroke-width="1.1"/>
<path d="M980.5 853.2V895.8" stroke="#000000" stroke-width="1.1"/>
<rect x="976.6" y="873" width="7.8" height="7.7" fill="#fff" stroke="#000000" stroke-width="1.1"/>
<path d="M992.5 810.8V873.2" stroke="#00ff00" stroke-width="1.1"/>
<rect x="988.6" y="826" width="7.8" height="46.6" fill="#fff" stroke="#00ff00" stroke-width="1.1"/>
<path d="M1004.5 801.2V833.8" stroke="#00ff00" stroke-width="1.1"/>
<rect x="1000.6" y="820" width="7.8" height="3.6" fill="#fff" stroke="#00ff00" stroke-width="1.1"/>
<path d="M1016.5 804.5V855" stroke="#00ff00" stroke-width="1.1"/>
<rect x="1012" y="819.5" width="8.9" height="6" fill="#00ff00"/>
<path d="M1028.5 794.5V830.8" stroke="#00ff00" stroke-width="1.1"/>
<rect x="1024.6" y="814.3" width="7.8" height="10.7" fill="#fff" stroke="#00ff00" stroke-width="1.1"/>
<path d="M1040.5 761.2V825.5" stroke="#00ff00" stroke-width="1.1"/>
<rect x="1036.6" y="766" width="7.8" height="45.4" fill="#fff" stroke="#00ff00" stroke-width="1.1"/>
<path d="M1052.5 731.2V770" stroke="#00ff00" stroke-width="1.1"/>
<rect x="1048.6" y="753" width="7.8" height="10.7" fill="#fff" stroke="#00ff00" stroke-width="1.1"/>
<path d="M1064.5 734.2V758.8" stroke="#000000" stroke-width="1.1"/>
<rect x="1060" y="750.2" width="8.9" height="7.2" fill="#000000"/>
<path d="M1076.5 720V772.5" stroke="#00ff00" stroke-width="1.1"/>
<path d="M1072.1 757.8h8.8" stroke="#00ff00" stroke-width="1.8"/>
<path d="M1088.5 758.2V796.2" stroke="#000000" stroke-width="1.1"/>
<rect x="1084" y="761.2" width="8.9" height="35" fill="#000000"/>
<path d="M1100.5 783.8V823.8" stroke="#000000" stroke-width="1.1"/>
<rect x="1096" y="795" width="8.9" height="25.5" fill="#000000"/>
<path d="M1112.5 801.2V820" stroke="#ff0000" stroke-width="1.1"/>
<rect x="1108.6" y="813" width="7.8" height="6.4" fill="#fff" stroke="#ff0000" stroke-width="1.1"/>
<path d="M1124.5 783.8V817.5" stroke="#ff0000" stroke-width="1.1"/>
<rect x="1120" y="813" width="8.9" height="3.2" fill="#ff0000"/>
<path d="M1136.5 780V821.2" stroke="#ff0000" stroke-width="1.1"/>
<rect x="1132.6" y="807.3" width="7.8" height="5.2" fill="#fff" stroke="#ff0000" stroke-width="1.1"/>
<path d="M1148.5 798V845" stroke="#ff0000" stroke-width="1.1"/>
<rect x="1144" y="806.2" width="8.9" height="25.5" fill="#ff0000"/>
<path d="M1160.5 822V851.2" stroke="#000000" stroke-width="1.1"/>
<rect x="1156" y="832.5" width="8.9" height="10.8" fill="#000000"/>
<path d="M1172.5 830V862.5" stroke="#000000" stroke-width="1.1"/>
<rect x="1168.5" y="840.4" width="7.9" height="2.2" fill="#fff" stroke="#000000" stroke-width="1.1"/>
<path d="M1184.5 782.5V838.8" stroke="#00ff00" stroke-width="1.1"/>
<rect x="1180.6" y="802.3" width="7.8" height="33.4" fill="#fff" stroke="#00ff00" stroke-width="1.1"/>
<path d="M1196.5 772.5V805" stroke="#00ff00" stroke-width="1.1"/>
<rect x="1192.6" y="777.3" width="7.8" height="23.4" fill="#fff" stroke="#00ff00" stroke-width="1.1"/>
<path d="M1208.5 762.5V783.8" stroke="#00ff00" stroke-width="1.1"/>
<rect x="1204" y="774.2" width="8.9" height="7.5" fill="#00ff00"/>
<path d="M1220.5 735.5V788.8" stroke="#00ff00" stroke-width="1.1"/>
<rect x="1216" y="779.5" width="8.9" height="6" fill="#00ff00"/>
<path d="M1232.5 778.8V828" stroke="#00ff00" stroke-width="1.1"/>
<rect x="1228" y="781.2" width="8.9" height="30.5" fill="#00ff00"/>
<path d="M1244.5 784.5V813" stroke="#000000" stroke-width="1.1"/>
<rect x="1240.6" y="799.3" width="7.8" height="13.2" fill="#fff" stroke="#000000" stroke-width="1.1"/>
<path d="M1256.5 790.8V823.8" stroke="#ff0000" stroke-width="1.1"/>
<rect x="1252" y="796.2" width="8.9" height="27.5" fill="#ff0000"/>
<path d="M1268.5 819.2V867.5" stroke="#ff0000" stroke-width="1.1"/>
<rect x="1264" y="819.2" width="8.9" height="45.8" fill="#ff0000"/>
<path d="M1280.5 853.8V940.8" stroke="#ff0000" stroke-width="1.1"/>
<rect x="1276" y="864.5" width="8.9" height="70" fill="#ff0000"/>
<path d="M1292.5 920.8V980.8" stroke="#ff0000" stroke-width="1.1"/>
<rect x="1288" y="932" width="8.9" height="30.5" fill="#ff0000"/>
<path d="M1304.5 920V1012.5" stroke="#ff0000" stroke-width="1.1"/>
<rect x="1300" y="960" width="8.9" height="47.5" fill="#ff0000"/>
<path d="M1316.5 1002.5V1065" stroke="#ff0000" stroke-width="1.1"/>
<rect x="1312" y="1006.2" width="8.9" height="57.5" fill="#ff0000"/>
<path d="M1328.5 1047V1097.5" stroke="#ff0000" stroke-width="1.1"/>
<rect x="1324" y="1062" width="8.9" height="15.5" fill="#ff0000"/>
<path d="M1340.5 1055V1093.8" stroke="#000000" stroke-width="1.1"/>
<rect x="1336" y="1077.5" width="8.9" height="4.2" fill="#000000"/>
<path d="M1352.5 1059.2V1103.8" stroke="#000000" stroke-width="1.1"/>
<rect x="1348" y="1081.2" width="8.9" height="3.2" fill="#000000"/>
<path d="M1364.5 1043.2V1110.8" stroke="#000000" stroke-width="1.1"/>
<rect x="1360.6" y="1051" width="7.8" height="31.6" fill="#fff" stroke="#000000" stroke-width="1.1"/>
<path d="M1376.5 965V1050.5" stroke="#00ff00" stroke-width="1.1"/>
<rect x="1372.6" y="973" width="7.8" height="76.9" fill="#fff" stroke="#00ff00" stroke-width="1.1"/>
<path d="M1388.5 960V993.8" stroke="#00ff00" stroke-width="1.1"/>
<path d="M1384.1 973.4h8.8" stroke="#00ff00" stroke-width="1.8"/>
<path d="M1400.5 926.2V978.8" stroke="#00ff00" stroke-width="1.1"/>
<rect x="1396.6" y="936.8" width="7.8" height="36.9" fill="#fff" stroke="#00ff00" stroke-width="1.1"/>
<path d="M1412.5 905V952.5" stroke="#00ff00" stroke-width="1.1"/>
<rect x="1408" y="936.2" width="8.9" height="15.5" fill="#00ff00"/>
<path d="M1424.5 775V951.2" stroke="#00ff00" stroke-width="1.1"/>
<rect x="1420.6" y="776.8" width="7.8" height="173.9" fill="#fff" stroke="#00ff00" stroke-width="1.1"/>
<path d="M1436.5 776.2V842.5" stroke="#00ff00" stroke-width="1.1"/>
<rect x="1432" y="776.2" width="8.9" height="35.5" fill="#00ff00"/>
<path d="M1448.5 779.2V831.8" stroke="#000000" stroke-width="1.1"/>
<rect x="1444.6" y="803.8" width="7.8" height="6.2" fill="#fff" stroke="#000000" stroke-width="1.1"/>
<path d="M1460.5 694.2V803.2" stroke="#00ff00" stroke-width="1.1"/>
<rect x="1456.6" y="737.3" width="7.8" height="65.4" fill="#fff" stroke="#00ff00" stroke-width="1.1"/>
<path d="M1472.5 653.2V741.8" stroke="#00ff00" stroke-width="1.1"/>
<rect x="1468.6" y="666" width="7.8" height="67.7" fill="#fff" stroke="#00ff00" stroke-width="1.1"/>
<path d="M1484.5 599.2V669.2" stroke="#00ff00" stroke-width="1.1"/>
<rect x="1480.6" y="644.8" width="7.8" height="17.1" fill="#fff" stroke="#00ff00" stroke-width="1.1"/>
<path d="M1496.5 639.2V693" stroke="#000000" stroke-width="1.1"/>
<rect x="1492" y="642.5" width="8.9" height="25" fill="#000000"/>
<path d="M1508.5 644.2V718.8" stroke="#000000" stroke-width="1.1"/>
<rect x="1504" y="667.5" width="8.9" height="4" fill="#000000"/>
<path d="M1520.5 626.2V693" stroke="#000000" stroke-width="1.1"/>
<rect x="1516.6" y="648.8" width="7.8" height="21.1" fill="#fff" stroke="#000000" stroke-width="1.1"/>
<path d="M1531.3 634.5H1528.6V647.5H1531.3M1533.7 634.5H1536.4V647.5H1533.7" fill="none" stroke="#000000" stroke-width="1.1"/>
<path d="M1544.5 619.2V638.8" stroke="#ff0000" stroke-width="1.1"/>
<rect x="1540.6" y="626" width="7.8" height="7.9" fill="#fff" stroke="#ff0000" stroke-width="1.1"/>
<path d="M7 546.2L9 544.5L11 546.2L9 548Z" fill="#8c8c8c"/>
<path d="M126.8 438.2L128.8 436.4L130.8 438.2L128.8 440.1Z" fill="#8c8c8c"/>
<path d="M90.5 614.2L92.5 612.5L94.5 614.2L92.5 616Z" fill="#8c8c8c"/>
<path d="M246.8 611.2L248.8 609.5L250.8 611.2L248.8 613Z" fill="#8c8c8c"/>
<path d="M318.8 618.2L320.8 616.5L322.8 618.2L320.8 620Z" fill="#8c8c8c"/>
<path d="M378.8 646.8L380.8 645L382.8 646.8L380.8 648.5Z" fill="#8c8c8c"/>
<path d="M438.8 661.8L440.8 660L442.8 661.8L440.8 663.5Z" fill="#8c8c8c"/>
<path d="M18.8 682.5L20.8 680.7L22.8 682.5L20.8 684.3Z" fill="#8c8c8c"/>
<path d="M198.8 745.5L200.8 743.7L202.8 745.5L200.8 747.3Z" fill="#8c8c8c"/>
<path d="M330.8 779.5L332.8 777.7L334.8 779.5L332.8 781.3Z" fill="#8c8c8c"/>
<path d="M366.8 775.5L368.8 773.7L370.8 775.5L368.8 777.3Z" fill="#8c8c8c"/>
<path d="M426.8 815.5L428.8 813.7L430.8 815.5L428.8 817.3Z" fill="#8c8c8c"/>
<path d="M486.8 855.5L488.8 853.7L490.8 855.5L488.8 857.3Z" fill="#8c8c8c"/>
<path d="M534.8 901.2L536.8 899.5L538.8 901.2L536.8 903Z" fill="#8c8c8c"/>
<path d="M570.8 752.5L572.8 750.7L574.8 752.5L572.8 754.3Z" fill="#8c8c8c"/>
<path d="M582.8 875.5L584.8 873.7L586.8 875.5L584.8 877.3Z" fill="#8c8c8c"/>
<path d="M702.8 611.8L704.8 610L706.8 611.8L704.8 613.5Z" fill="#8c8c8c"/>
<path d="M762.8 625.5L764.8 623.7L766.8 625.5L764.8 627.3Z" fill="#8c8c8c"/>
<path d="M570.8 752.5L572.8 750.7L574.8 752.5L572.8 754.3Z" fill="#8c8c8c"/>
<path d="M666.8 755.5L668.8 753.7L670.8 755.5L668.8 757.3Z" fill="#8c8c8c"/>
<path d="M762.8 764.5L764.8 762.7L766.8 764.5L764.8 766.3Z" fill="#8c8c8c"/>
<path d="M1074.8 708.2L1076.8 706.5L1078.8 708.2L1076.8 710Z" fill="#8c8c8c"/>
<path d="M582.8 875L584.8 873.2L586.8 875L584.8 876.8Z" fill="#8c8c8c"/>
<path d="M1098.8 835.5L1100.8 833.7L1102.8 835.5L1100.8 837.3Z" fill="#8c8c8c"/>
<path d="M1134.8 770L1136.8 768.2L1138.8 770L1136.8 771.8Z" fill="#8c8c8c"/>
<path d="M1098.8 835.5L1100.8 833.7L1102.8 835.5L1100.8 837.3Z" fill="#8c8c8c"/>
<path d="M1230.8 838.2L1232.8 836.5L1234.8 838.2L1232.8 840Z" fill="#8c8c8c"/>
<path d="M1422.8 763.2L1424.8 761.5L1426.8 763.2L1424.8 765Z" fill="#8c8c8c"/>
<path d="M1482.8 586.2L1484.8 584.5L1486.8 586.2L1484.8 588Z" fill="#8c8c8c"/>
<path d="M1506.8 731.5L1508.8 729.7L1510.8 731.5L1508.8 733.3Z" fill="#8c8c8c"/>
<path d="M1362.8 1121.2L1364.8 1119.5L1366.8 1121.2L1364.8 1123Z" fill="#8c8c8c"/>
<path d="M582.8 875.5L584.8 873.7L586.8 875.5L584.8 877.3Z" fill="#8c8c8c"/>
<path d="M966.8 920.5L968.8 918.7L970.8 920.5L968.8 922.3Z" fill="#8c8c8c"/>
<path d="M79 347L81 345.2L83 347L81 348.8Z" fill="#8c8c8c"/>
<ellipse cx="272.8" cy="824.2" rx="6" ry="5.5" fill="#00ff00"/>
<ellipse cx="284.8" cy="835.8" rx="6" ry="5.5" fill="#00ff00"/>
<ellipse cx="428.8" cy="850.8" rx="6" ry="5.5" fill="#00ff00"/>
<ellipse cx="488.8" cy="891.2" rx="6" ry="5.5" fill="#00ff00"/>
<ellipse cx="536.8" cy="934.5" rx="6" ry="5.5" fill="#00ff00"/>
<ellipse cx="704.8" cy="582.5" rx="6" ry="5.5" fill="#00ff00"/>
<ellipse cx="656.8" cy="644.2" rx="6" ry="5.5" fill="#00ff00"/>
<ellipse cx="1076.8" cy="685" rx="6" ry="5.5" fill="#00ff00"/>
<ellipse cx="836.8" cy="838.2" rx="6" ry="5.5" fill="#00ff00"/>
<ellipse cx="896.8" cy="875" rx="6" ry="5.5" fill="#00ff00"/>
<ellipse cx="1220.8" cy="703.8" rx="6" ry="5.5" fill="#00ff00"/>
<ellipse cx="1208.8" cy="731.8" rx="6" ry="5.5" fill="#00ff00"/>
<ellipse cx="1172.8" cy="895" rx="6" ry="5.5" fill="#00ff00"/>
<ellipse cx="1412.8" cy="874.5" rx="6" ry="5.5" fill="#00ff00"/>
<ellipse cx="1364.8" cy="1142.5" rx="6" ry="5.5" fill="#00ff00"/>
<ellipse cx="968.8" cy="945" rx="6" ry="5.5" fill="#00ff00"/>
<ellipse cx="284.8" cy="797.5" rx="6" ry="5.5" fill="#ff0000"/>
<ellipse cx="836.8" cy="810.5" rx="6" ry="5.5" fill="#ff0000"/>
<ellipse cx="1220.8" cy="724.5" rx="6" ry="5.5" fill="#ff0000"/>
<ellipse cx="1208.8" cy="752.5" rx="6" ry="5.5" fill="#ff0000"/>
<ellipse cx="1172.8" cy="874.5" rx="6" ry="5.5" fill="#ff0000"/>
<ellipse cx="1412.8" cy="895" rx="6" ry="5.5" fill="#ff0000"/>
<ellipse cx="284.8" cy="811.5" rx="6" ry="5.5" fill="#ffab5c"/>
<ellipse cx="500.8" cy="844.5" rx="6" ry="5.5" fill="#c0c0c0"/>
<ellipse cx="1340.8" cy="1116.2" rx="6" ry="5.5" fill="#c0c0c0"/>
<ellipse cx="476.8" cy="884.5" rx="4" ry="3.5" fill="#c0c0c0"/>
<ellipse cx="692.8" cy="600.5" rx="4" ry="3.5" fill="#c0c0c0"/>
<ellipse cx="1280.8" cy="972.5" rx="4" ry="3.5" fill="#c0c0c0"/>
<ellipse cx="488.8" cy="884.5" rx="4.3" ry="3.5" fill="#0000ff"/>
<ellipse cx="1424.8" cy="981.2" rx="4.3" ry="3.5" fill="#0000ff"/>
<ellipse cx="104.8" cy="461.2" rx="4.2" ry="3.6" fill="#3cb371"/>
<ellipse cx="224.8" cy="727" rx="4.2" ry="3.6" fill="#3cb371"/>
<ellipse cx="284.8" cy="825.5" rx="4.2" ry="3.6" fill="#3cb371"/>
<ellipse cx="428.8" cy="841.5" rx="4.2" ry="3.6" fill="#3cb371"/>
<ellipse cx="548.8" cy="904.5" rx="4.2" ry="3.6" fill="#3cb371"/>
<ellipse cx="716.8" cy="627.5" rx="4.2" ry="3.6" fill="#3cb371"/>
<ellipse cx="1088.8" cy="730.5" rx="4.2" ry="3.6" fill="#3cb371"/>
<ellipse cx="548.8" cy="903.8" rx="4.2" ry="3.6" fill="#3cb371"/>
<ellipse cx="968.8" cy="937" rx="4.2" ry="3.6" fill="#3cb371"/>
<ellipse cx="116.8" cy="599.5" rx="3.6" ry="3" fill="#00ffff"/>
<ellipse cx="248.8" cy="571.5" rx="3.6" ry="3" fill="#00ffff"/>
<ellipse cx="56.8" cy="708.2" rx="3.6" ry="3" fill="#00ffff"/>
<ellipse cx="764.8" cy="597.5" rx="3.6" ry="3" fill="#00ffff"/>
<ellipse cx="812.8" cy="673.2" rx="3.6" ry="3" fill="#00ffff"/>
<ellipse cx="848.8" cy="696.5" rx="3.6" ry="3" fill="#00ffff"/>
<ellipse cx="752.8" cy="738.8" rx="3.6" ry="3" fill="#00ffff"/>
<ellipse cx="776.8" cy="783.2" rx="3.6" ry="3" fill="#00ffff"/>
<ellipse cx="1088.8" cy="724.5" rx="3.6" ry="3" fill="#00ffff"/>
<ellipse cx="1040.8" cy="861.2" rx="3.6" ry="3" fill="#00ffff"/>
<ellipse cx="1232.8" cy="747.5" rx="3.6" ry="3" fill="#00ffff"/>
<ellipse cx="1256.8" cy="759.5" rx="3.6" ry="3" fill="#00ffff"/>
<ellipse cx="1424.8" cy="985.8" rx="3.6" ry="3" fill="#00ffff"/>
<ellipse cx="32.8" cy="549.5" rx="3.6" ry="3" fill="#ffff00"/>
<ellipse cx="68.8" cy="628.8" rx="3.6" ry="3" fill="#ffff00"/>
<ellipse cx="188.8" cy="549.5" rx="3.6" ry="3" fill="#ffff00"/>
<ellipse cx="656.8" cy="772.5" rx="3.6" ry="3" fill="#ffff00"/>
<ellipse cx="872.8" cy="735.5" rx="3.6" ry="3" fill="#ffff00"/>
<ellipse cx="1100.8" cy="858" rx="3.6" ry="3" fill="#ffff00"/>
<ellipse cx="1196.8" cy="739.5" rx="3.6" ry="3" fill="#ffff00"/>
<ellipse cx="1208.8" cy="815.8" rx="3.6" ry="3" fill="#ffff00"/>
<ellipse cx="1280.8" cy="823.8" rx="3.6" ry="3" fill="#ffff00"/>
<ellipse cx="1100.8" cy="857.5" rx="3.6" ry="3" fill="#ffff00"/>
<ellipse cx="1472.8" cy="777.5" rx="3.6" ry="3" fill="#ffff00"/>
<ellipse cx="92.8" cy="404.5" rx="5.8" ry="5.3" fill="#c0c0c0"/><ellipse cx="92.8" cy="404.5" rx="3.3" ry="2.8" fill="#a52a00"/>
<ellipse cx="704.8" cy="595" rx="5.8" ry="5.3" fill="#c0c0c0"/><ellipse cx="704.8" cy="595" rx="3.3" ry="2.8" fill="#a52a00"/>
<ellipse cx="81" cy="308" rx="3.6" ry="3.2" fill="#cfcfcf"/><ellipse cx="81" cy="307.5" rx="1.6" ry="1.4" fill="#fff"/>
<path d="M698.2 707.5h13M704.8 701.5v12" stroke="#3cb371" stroke-width="3"/>
<path d="M746.2 715.8h13M752.8 709.8v12" stroke="#3cb371" stroke-width="3"/>
<path d="M674.2 740.5h13M680.8 734.5v12" stroke="#3cb371" stroke-width="3"/>
<path d="M1034.2 842.5h13M1040.8 836.5v12" stroke="#3cb371" stroke-width="3"/>
<path d="M1418.2 967.5h13M1424.8 961.5v12" stroke="#3cb371" stroke-width="3"/>
<path d="M446 660h13M452.5 654v12" stroke="#ff0000" stroke-width="2.3"/>
<path d="M1010 769.2h13M1016.5 763.2v12" stroke="#ff0000" stroke-width="2.3"/>
<text x="892" y="452" font-size="52" font-weight="bold" font-style="italic" fill="#ff00ff" stroke="#ff00ff" stroke-width="2.4" stroke-linejoin="round" textLength="428" lengthAdjust="spacingAndGlyphs">Croc Rohstoffe</text>
<text x="924" y="510" font-size="30" font-weight="bold" font-style="italic" fill="#0000ff" stroke="#0000ff" stroke-width="1.4" stroke-linejoin="round" textLength="360.5" lengthAdjust="spacingAndGlyphs">GOLD im Tageschart</text>
<text x="93.5" y="381" font-size="22.5" font-weight="bold" font-style="italic" fill="#a02800" stroke="#a02800" stroke-width="1" stroke-linejoin="round" textLength="123.5" lengthAdjust="spacingAndGlyphs">bb Kombi</text>
<text x="635" y="558" font-size="22.5" font-weight="bold" font-style="italic" fill="#ff00ff" stroke="#ff00ff" stroke-width="1" stroke-linejoin="round" textLength="119" lengthAdjust="spacingAndGlyphs">FullHouse</text>
<text x="1045.4" y="660.6" font-size="26.5" font-weight="bold" font-style="italic" fill="#e8e800" stroke="#e8e800" stroke-width="1.2" textLength="67" lengthAdjust="spacingAndGlyphs" opacity="0.7">GGR</text>
<text x="1046" y="660" font-size="26.5" font-weight="bold" font-style="italic" fill="#00ff00" stroke="#00ff00" stroke-width="1.2" stroke-linejoin="round" textLength="67" lengthAdjust="spacingAndGlyphs">GGR</text>
<text x="505.9" y="977.6" font-size="26.5" font-weight="bold" font-style="italic" fill="#e8e800" stroke="#e8e800" stroke-width="1.2" textLength="67" lengthAdjust="spacingAndGlyphs" opacity="0.7">BGR</text>
<text x="506.5" y="977" font-size="26.5" font-weight="bold" font-style="italic" fill="#00ff00" stroke="#00ff00" stroke-width="1.2" stroke-linejoin="round" textLength="67" lengthAdjust="spacingAndGlyphs">BGR</text>
<text x="936.9" y="984.3" font-size="26.5" font-weight="bold" font-style="italic" fill="#e8e800" stroke="#e8e800" stroke-width="1.2" textLength="67" lengthAdjust="spacingAndGlyphs" opacity="0.7">BGR</text>
<text x="937.5" y="983.7" font-size="26.5" font-weight="bold" font-style="italic" fill="#00ff00" stroke="#00ff00" stroke-width="1.2" stroke-linejoin="round" textLength="67" lengthAdjust="spacingAndGlyphs">BGR</text>
<text x="1333.4" y="1188.6" font-size="26.5" font-weight="bold" font-style="italic" fill="#e8e800" stroke="#e8e800" stroke-width="1.2" textLength="67" lengthAdjust="spacingAndGlyphs" opacity="0.7">BGR</text>
<text x="1334" y="1188" font-size="26.5" font-weight="bold" font-style="italic" fill="#00ff00" stroke="#00ff00" stroke-width="1.2" stroke-linejoin="round" textLength="67" lengthAdjust="spacingAndGlyphs">BGR</text>
<text x="921.4" y="1016.6" font-size="23.5" font-weight="bold" font-style="italic" fill="#e8e800" stroke="#e8e800" stroke-width="1.1" textLength="98" lengthAdjust="spacingAndGlyphs" opacity="0.7">Sweety</text>
<text x="922" y="1016" font-size="23.5" font-weight="bold" font-style="italic" fill="#3cb371" stroke="#3cb371" stroke-width="1.1" stroke-linejoin="round" textLength="98" lengthAdjust="spacingAndGlyphs">Sweety</text>
<text x="1161.5" y="686" font-size="22.5" font-weight="bold" font-style="italic" fill="#ff0000" stroke="#ff0000" stroke-width="1" stroke-linejoin="round" textLength="123.5" lengthAdjust="spacingAndGlyphs">Red Devil</text>
<text x="1114" y="937" font-size="22.5" font-weight="bold" font-style="italic" fill="#ff0000" stroke="#ff0000" stroke-width="1" stroke-linejoin="round" textLength="123" lengthAdjust="spacingAndGlyphs">Red Devil</text>
<path d="M2 274.5H1741" stroke="#d4d4d4" stroke-width="1"/><path d="M2 276.4H1741" stroke="#6e6e6e" stroke-width="1.7"/>
<path d="M2 1397.9H1741" stroke="#d4d4d4" stroke-width="1"/><path d="M2 1399.8H1741" stroke="#6e6e6e" stroke-width="1.7"/>
<path d="M2 1471.2H1741" stroke="#d4d4d4" stroke-width="1"/><path d="M2 1473.1H1741" stroke="#6e6e6e" stroke-width="1.7"/>
<path d="M2 1542.6H1741" stroke="#d4d4d4" stroke-width="1"/><path d="M2 1544.5H1741" stroke="#6e6e6e" stroke-width="1.7"/>
<path d="M2 1677.9H1741" stroke="#d4d4d4" stroke-width="1"/><path d="M2 1679.8H1741" stroke="#6e6e6e" stroke-width="1.7"/>
<text x="6.3" y="1418" font-size="17.3" fill="#000" textLength="122" lengthAdjust="spacingAndGlyphs" >Blacky on Tour II</text>
<text x="6.3" y="1490.5" font-size="17.3" fill="#000" textLength="211.8" lengthAdjust="spacingAndGlyphs" >ICE Trading Deluxe Big Point</text>
<text x="6.3" y="1562" font-size="17.3" fill="#000" textLength="506.3" lengthAdjust="spacingAndGlyphs" >Von oben: Status / Kerzenfarbe / Wolkenfarbe / Trend / Setter / Welle</text>
<text x="6.3" y="1697" font-size="17.3" fill="#000" textLength="109.5" lengthAdjust="spacingAndGlyphs" >ICE DNA Code</text>
<circle cx="8.5" cy="1430.5" r="4.1" fill="#c0c0c0"/>
<circle cx="20.5" cy="1430.5" r="4.1" fill="#c0c0c0"/>
<circle cx="32.5" cy="1430.5" r="4.1" fill="#c0c0c0"/>
<circle cx="44.5" cy="1430.5" r="4.1" fill="#c0c0c0"/>
<circle cx="56.5" cy="1430.5" r="4.1" fill="#c0c0c0"/>
<circle cx="68.5" cy="1430.5" r="4.1" fill="#c0c0c0"/>
<circle cx="80.5" cy="1430.5" r="4.1" fill="#c0c0c0"/>
<circle cx="92.5" cy="1430.5" r="4.1" fill="#c0c0c0"/>
<circle cx="104.5" cy="1430.5" r="4.1" fill="#c0c0c0"/>
<circle cx="116.5" cy="1430.5" r="4.1" fill="#c0c0c0"/>
<circle cx="128.5" cy="1430.5" r="4.1" fill="#c0c0c0"/>
<circle cx="140.5" cy="1430.5" r="4.1" fill="#c0c0c0"/>
<circle cx="152.5" cy="1430.5" r="4.1" fill="#c0c0c0"/>
<circle cx="164.5" cy="1430.5" r="4.1" fill="#c0c0c0"/>
<circle cx="176.5" cy="1430.5" r="4.1" fill="#c0c0c0"/>
<circle cx="188.5" cy="1430.5" r="4.1" fill="#c0c0c0"/>
<circle cx="200.5" cy="1430.5" r="4.1" fill="#c0c0c0"/>
<circle cx="212.5" cy="1430.5" r="4.1" fill="#c0c0c0"/>
<circle cx="224.5" cy="1430.5" r="4.1" fill="#c0c0c0"/>
<circle cx="236.5" cy="1430.5" r="4.1" fill="#c0c0c0"/>
<circle cx="248.5" cy="1430.5" r="4.1" fill="#c0c0c0"/>
<circle cx="260.5" cy="1430.5" r="4.1" fill="#c0c0c0"/>
<circle cx="272.5" cy="1430.5" r="4.1" fill="#c0c0c0"/>
<circle cx="284.5" cy="1430.5" r="4.1" fill="#c0c0c0"/>
<circle cx="296.5" cy="1430.5" r="4.1" fill="#c0c0c0"/>
<circle cx="308.5" cy="1430.5" r="4.1" fill="#c0c0c0"/>
<circle cx="320.5" cy="1430.5" r="4.1" fill="#c0c0c0"/>
<circle cx="332.5" cy="1430.5" r="4.1" fill="#c0c0c0"/>
<circle cx="344.5" cy="1430.5" r="4.1" fill="#c0c0c0"/>
<circle cx="356.5" cy="1430.5" r="4.1" fill="#c0c0c0"/>
<circle cx="368.5" cy="1430.5" r="4.1" fill="#c0c0c0"/>
<circle cx="380.5" cy="1430.5" r="4.1" fill="#c0c0c0"/>
<circle cx="392.5" cy="1430.5" r="4.1" fill="#c0c0c0"/>
<circle cx="404.5" cy="1430.5" r="4.1" fill="#c0c0c0"/>
<circle cx="416.5" cy="1430.5" r="4.1" fill="#c0c0c0"/>
<circle cx="428.5" cy="1430.5" r="4.1" fill="#c0c0c0"/>
<circle cx="440.5" cy="1430.5" r="4.1" fill="#c0c0c0"/>
<circle cx="452.5" cy="1430.5" r="4.1" fill="#c0c0c0"/>
<circle cx="464.5" cy="1430.5" r="4.1" fill="#c0c0c0"/>
<circle cx="476.5" cy="1430.5" r="4.1" fill="#c0c0c0"/>
<circle cx="488.5" cy="1430.5" r="4.1" fill="#c0c0c0"/>
<circle cx="500.5" cy="1430.5" r="4.1" fill="#c0c0c0"/>
<circle cx="512.5" cy="1430.5" r="4.1" fill="#c0c0c0"/>
<circle cx="524.5" cy="1430.5" r="4.1" fill="#c0c0c0"/>
<circle cx="536.5" cy="1430.5" r="4.1" fill="#c0c0c0"/>
<circle cx="548.5" cy="1430.5" r="4.1" fill="#c0c0c0"/>
<circle cx="560.5" cy="1430.5" r="4.1" fill="#c0c0c0"/>
<circle cx="572.5" cy="1430.5" r="4.1" fill="#c0c0c0"/>
<circle cx="584.5" cy="1430.5" r="4.1" fill="#c0c0c0"/>
<circle cx="596.5" cy="1430.5" r="4.1" fill="#c0c0c0"/>
<circle cx="608.5" cy="1430.5" r="4.1" fill="#c0c0c0"/>
<circle cx="620.5" cy="1430.5" r="4.1" fill="#c0c0c0"/>
<circle cx="632.5" cy="1430.5" r="4.1" fill="#c0c0c0"/>
<circle cx="644.5" cy="1430.5" r="4.1" fill="#c0c0c0"/>
<circle cx="656.5" cy="1430.5" r="4.1" fill="#c0c0c0"/>
<circle cx="668.5" cy="1430.5" r="4.1" fill="#c0c0c0"/>
<circle cx="680.5" cy="1430.5" r="4.1" fill="#c0c0c0"/>
<circle cx="692.5" cy="1430.5" r="4.1" fill="#c0c0c0"/>
<circle cx="704.5" cy="1430.5" r="4.1" fill="#c0c0c0"/>
<circle cx="716.5" cy="1430.5" r="4.1" fill="#c0c0c0"/>
<circle cx="728.5" cy="1430.5" r="4.1" fill="#c0c0c0"/>
<circle cx="740.5" cy="1430.5" r="4.1" fill="#c0c0c0"/>
<circle cx="752.5" cy="1430.5" r="4.1" fill="#c0c0c0"/>
<circle cx="764.5" cy="1430.5" r="4.1" fill="#c0c0c0"/>
<circle cx="776.5" cy="1430.5" r="4.1" fill="#c0c0c0"/>
<circle cx="788.5" cy="1430.5" r="4.1" fill="#c0c0c0"/>
<circle cx="800.5" cy="1430.5" r="4.1" fill="#c0c0c0"/>
<circle cx="812.5" cy="1430.5" r="4.1" fill="#c0c0c0"/>
<circle cx="824.5" cy="1430.5" r="4.1" fill="#c0c0c0"/>
<circle cx="836.5" cy="1430.5" r="4.1" fill="#c0c0c0"/>
<circle cx="848.5" cy="1430.5" r="4.1" fill="#c0c0c0"/>
<circle cx="860.5" cy="1430.5" r="4.1" fill="#c0c0c0"/>
<circle cx="872.5" cy="1430.5" r="4.1" fill="#c0c0c0"/>
<circle cx="884.5" cy="1430.5" r="4.1" fill="#c0c0c0"/>
<circle cx="896.5" cy="1430.5" r="4.1" fill="#c0c0c0"/>
<circle cx="908.5" cy="1430.5" r="4.1" fill="#c0c0c0"/>
<circle cx="920.5" cy="1430.5" r="4.1" fill="#c0c0c0"/>
<circle cx="932.5" cy="1430.5" r="4.1" fill="#c0c0c0"/>
<circle cx="944.5" cy="1430.5" r="4.1" fill="#c0c0c0"/>
<circle cx="956.5" cy="1430.5" r="4.1" fill="#c0c0c0"/>
<circle cx="968.5" cy="1430.5" r="4.1" fill="#c0c0c0"/>
<circle cx="980.5" cy="1430.5" r="4.1" fill="#c0c0c0"/>
<circle cx="992.5" cy="1430.5" r="4.1" fill="#c0c0c0"/>
<circle cx="1004.5" cy="1430.5" r="4.1" fill="#c0c0c0"/>
<circle cx="1016.5" cy="1430.5" r="4.1" fill="#c0c0c0"/>
<circle cx="1028.5" cy="1430.5" r="4.1" fill="#c0c0c0"/>
<circle cx="1040.5" cy="1430.5" r="4.1" fill="#c0c0c0"/>
<circle cx="1052.5" cy="1430.5" r="4.1" fill="#c0c0c0"/>
<circle cx="1064.5" cy="1430.5" r="4.1" fill="#c0c0c0"/>
<circle cx="1076.5" cy="1430.5" r="4.1" fill="#c0c0c0"/>
<circle cx="1088.5" cy="1430.5" r="4.1" fill="#c0c0c0"/>
<circle cx="1100.5" cy="1430.5" r="4.1" fill="#c0c0c0"/>
<circle cx="1112.5" cy="1430.5" r="4.1" fill="#c0c0c0"/>
<circle cx="1124.5" cy="1430.5" r="4.1" fill="#c0c0c0"/>
<circle cx="1136.5" cy="1430.5" r="4.1" fill="#c0c0c0"/>
<circle cx="1148.5" cy="1430.5" r="4.1" fill="#c0c0c0"/>
<circle cx="1160.5" cy="1430.5" r="4.1" fill="#c0c0c0"/>
<circle cx="1172.5" cy="1430.5" r="4.1" fill="#c0c0c0"/>
<circle cx="1184.5" cy="1430.5" r="4.1" fill="#c0c0c0"/>
<circle cx="1196.5" cy="1430.5" r="4.1" fill="#c0c0c0"/>
<circle cx="1208.5" cy="1430.5" r="4.1" fill="#c0c0c0"/>
<circle cx="1220.5" cy="1430.5" r="4.1" fill="#c0c0c0"/>
<circle cx="1232.5" cy="1430.5" r="4.1" fill="#c0c0c0"/>
<circle cx="1244.5" cy="1430.5" r="4.1" fill="#c0c0c0"/>
<circle cx="1256.5" cy="1430.5" r="4.1" fill="#c0c0c0"/>
<circle cx="1268.5" cy="1430.5" r="4.1" fill="#c0c0c0"/>
<circle cx="1280.5" cy="1430.5" r="4.1" fill="#c0c0c0"/>
<circle cx="1292.5" cy="1430.5" r="4.1" fill="#c0c0c0"/>
<circle cx="1304.5" cy="1430.5" r="4.1" fill="#c0c0c0"/>
<circle cx="1316.5" cy="1430.5" r="4.1" fill="#c0c0c0"/>
<circle cx="1328.5" cy="1430.5" r="4.1" fill="#c0c0c0"/>
<circle cx="1340.5" cy="1430.5" r="4.1" fill="#c0c0c0"/>
<circle cx="1352.5" cy="1430.5" r="4.1" fill="#c0c0c0"/>
<circle cx="1364.5" cy="1430.5" r="4.1" fill="#c0c0c0"/>
<circle cx="1376.5" cy="1430.5" r="4.1" fill="#c0c0c0"/>
<circle cx="1388.5" cy="1430.5" r="4.1" fill="#c0c0c0"/>
<circle cx="1400.5" cy="1430.5" r="4.1" fill="#c0c0c0"/>
<circle cx="1412.5" cy="1430.5" r="4.1" fill="#c0c0c0"/>
<circle cx="1424.5" cy="1430.5" r="3.9" fill="#ff0000"/>
<circle cx="1436.5" cy="1430.5" r="3.9" fill="#ff0000"/><circle cx="1436.5" cy="1430.5" r="2.2" fill="#8f0000"/>
<circle cx="1448.5" cy="1430.5" r="3.9" fill="#ff0000"/><circle cx="1448.5" cy="1430.5" r="2.2" fill="#8f0000"/>
<circle cx="1460.5" cy="1430.5" r="3.9" fill="#ff0000"/><circle cx="1460.5" cy="1430.5" r="2.2" fill="#8f0000"/>
<circle cx="1472.5" cy="1430.5" r="3.9" fill="#ff0000"/><circle cx="1472.5" cy="1430.5" r="2.2" fill="#8f0000"/>
<circle cx="1484.5" cy="1430.5" r="3.9" fill="#ff0000"/><circle cx="1484.5" cy="1430.5" r="2.2" fill="#8f0000"/>
<circle cx="1496.5" cy="1430.5" r="3.9" fill="#ff0000"/><circle cx="1496.5" cy="1430.5" r="2.2" fill="#8f0000"/>
<circle cx="1508.5" cy="1430.5" r="3.9" fill="#ff0000"/><circle cx="1508.5" cy="1430.5" r="2.2" fill="#8f0000"/>
<circle cx="1520.5" cy="1430.5" r="3.9" fill="#ff0000"/><circle cx="1520.5" cy="1430.5" r="2.2" fill="#8f0000"/>
<circle cx="1532.5" cy="1430.5" r="3.9" fill="#ff0000"/>
<path d="M1532.5 1426.1v8.8" stroke="#fff" stroke-width="1"/>
<circle cx="8.5" cy="1460.5" r="4.1" fill="#c0c0c0"/>
<circle cx="20.5" cy="1460.5" r="4.1" fill="#c0c0c0"/>
<circle cx="32.5" cy="1460.5" r="4.1" fill="#c0c0c0"/>
<circle cx="44.5" cy="1460.5" r="4.1" fill="#c0c0c0"/>
<circle cx="56.5" cy="1460.5" r="4.1" fill="#c0c0c0"/>
<circle cx="68.5" cy="1460.5" r="4.1" fill="#c0c0c0"/>
<circle cx="80.5" cy="1460.5" r="4.1" fill="#c0c0c0"/>
<circle cx="92.5" cy="1460.5" r="4.1" fill="#c0c0c0"/>
<circle cx="104.5" cy="1460.5" r="4.1" fill="#c0c0c0"/>
<circle cx="116.5" cy="1460.5" r="4.1" fill="#c0c0c0"/>
<circle cx="128.5" cy="1460.5" r="4.1" fill="#c0c0c0"/>
<circle cx="140.5" cy="1460.5" r="4.1" fill="#c0c0c0"/>
<circle cx="152.5" cy="1460.5" r="4.1" fill="#c0c0c0"/>
<circle cx="164.5" cy="1460.5" r="4.1" fill="#c0c0c0"/>
<circle cx="176.5" cy="1460.5" r="4.1" fill="#c0c0c0"/>
<circle cx="188.5" cy="1460.5" r="4.1" fill="#c0c0c0"/>
<circle cx="200.5" cy="1460.5" r="4.1" fill="#c0c0c0"/>
<circle cx="212.5" cy="1460.5" r="4.1" fill="#c0c0c0"/>
<circle cx="224.5" cy="1460.5" r="4.1" fill="#c0c0c0"/>
<circle cx="236.5" cy="1460.5" r="4.1" fill="#c0c0c0"/>
<circle cx="248.5" cy="1460.5" r="1.8" fill="#008000"/>
<circle cx="260.5" cy="1460.5" r="3.9" fill="#00ff00"/><circle cx="260.5" cy="1460.5" r="2.2" fill="#008a00"/>
<circle cx="272.5" cy="1460.5" r="3.9" fill="#00ff00"/>
<circle cx="284.5" cy="1460.5" r="3.9" fill="#00ff00"/>
<circle cx="296.5" cy="1460.5" r="3.9" fill="#00ff00"/>
<circle cx="308.5" cy="1460.5" r="4.1" fill="#c0c0c0"/>
<circle cx="320.5" cy="1460.5" r="4.1" fill="#c0c0c0"/>
<circle cx="332.5" cy="1460.5" r="4.1" fill="#c0c0c0"/>
<circle cx="344.5" cy="1460.5" r="4.1" fill="#c0c0c0"/>
<circle cx="356.5" cy="1460.5" r="4.1" fill="#c0c0c0"/>
<circle cx="368.5" cy="1460.5" r="4.1" fill="#c0c0c0"/>
<circle cx="380.5" cy="1460.5" r="4.1" fill="#c0c0c0"/>
<circle cx="392.5" cy="1460.5" r="4.1" fill="#c0c0c0"/>
<circle cx="404.5" cy="1460.5" r="4.1" fill="#c0c0c0"/>
<circle cx="416.5" cy="1460.5" r="4.1" fill="#c0c0c0"/>
<circle cx="428.5" cy="1460.5" r="4.1" fill="#c0c0c0"/>
<circle cx="440.5" cy="1460.5" r="4.1" fill="#c0c0c0"/>
<circle cx="452.5" cy="1460.5" r="4.1" fill="#c0c0c0"/>
<circle cx="464.5" cy="1460.5" r="4.1" fill="#c0c0c0"/>
<circle cx="476.5" cy="1460.5" r="4.1" fill="#c0c0c0"/>
<circle cx="488.5" cy="1460.5" r="4.1" fill="#c0c0c0"/>
<circle cx="500.5" cy="1460.5" r="4.1" fill="#c0c0c0"/>
<circle cx="512.5" cy="1460.5" r="4.1" fill="#c0c0c0"/>
<circle cx="524.5" cy="1460.5" r="4.1" fill="#c0c0c0"/>
<circle cx="536.5" cy="1460.5" r="4.1" fill="#c0c0c0"/>
<circle cx="548.5" cy="1460.5" r="4.1" fill="#c0c0c0"/>
<circle cx="560.5" cy="1460.5" r="4.1" fill="#c0c0c0"/>
<circle cx="572.5" cy="1460.5" r="4.1" fill="#c0c0c0"/>
<circle cx="584.5" cy="1460.5" r="4.1" fill="#c0c0c0"/>
<circle cx="596.5" cy="1460.5" r="4.1" fill="#c0c0c0"/>
<circle cx="608.5" cy="1460.5" r="4.1" fill="#c0c0c0"/>
<circle cx="620.5" cy="1460.5" r="4.1" fill="#c0c0c0"/>
<circle cx="632.5" cy="1460.5" r="4.1" fill="#c0c0c0"/>
<circle cx="644.5" cy="1460.5" r="4.1" fill="#c0c0c0"/>
<circle cx="656.5" cy="1460.5" r="4.1" fill="#c0c0c0"/>
<circle cx="668.5" cy="1460.5" r="4.1" fill="#c0c0c0"/>
<circle cx="680.5" cy="1460.5" r="4.1" fill="#c0c0c0"/>
<circle cx="692.5" cy="1460.5" r="4.1" fill="#c0c0c0"/>
<circle cx="704.5" cy="1460.5" r="4.1" fill="#c0c0c0"/>
<circle cx="716.5" cy="1460.5" r="4.1" fill="#c0c0c0"/>
<circle cx="728.5" cy="1460.5" r="4.1" fill="#c0c0c0"/>
<circle cx="740.5" cy="1460.5" r="4.1" fill="#c0c0c0"/>
<circle cx="752.5" cy="1460.5" r="4.1" fill="#c0c0c0"/>
<circle cx="764.5" cy="1460.5" r="4.1" fill="#c0c0c0"/>
<circle cx="776.5" cy="1460.5" r="4.1" fill="#c0c0c0"/>
<circle cx="788.5" cy="1460.5" r="4.1" fill="#c0c0c0"/>
<circle cx="800.5" cy="1460.5" r="4.1" fill="#c0c0c0"/>
<circle cx="812.5" cy="1460.5" r="4.1" fill="#c0c0c0"/>
<circle cx="824.5" cy="1460.5" r="4.1" fill="#c0c0c0"/>
<circle cx="836.5" cy="1460.5" r="4.1" fill="#c0c0c0"/>
<circle cx="848.5" cy="1460.5" r="4.1" fill="#c0c0c0"/>
<circle cx="860.5" cy="1460.5" r="4.1" fill="#c0c0c0"/>
<circle cx="872.5" cy="1460.5" r="4.1" fill="#c0c0c0"/>
<circle cx="884.5" cy="1460.5" r="4.1" fill="#c0c0c0"/>
<circle cx="896.5" cy="1460.5" r="4.1" fill="#c0c0c0"/>
<circle cx="908.5" cy="1460.5" r="4.1" fill="#c0c0c0"/>
<circle cx="920.5" cy="1460.5" r="4.1" fill="#c0c0c0"/>
<circle cx="932.5" cy="1460.5" r="4.1" fill="#c0c0c0"/>
<circle cx="944.5" cy="1460.5" r="3.9" fill="#00ff00"/>
<circle cx="956.5" cy="1460.5" r="3.9" fill="#00ff00"/>
<circle cx="968.5" cy="1460.5" r="4.1" fill="#c0c0c0"/>
<circle cx="980.5" cy="1460.5" r="4.1" fill="#c0c0c0"/>
<circle cx="992.5" cy="1460.5" r="4.1" fill="#c0c0c0"/>
<circle cx="1004.5" cy="1460.5" r="4.1" fill="#c0c0c0"/>
<circle cx="1016.5" cy="1460.5" r="4.1" fill="#c0c0c0"/>
<circle cx="1028.5" cy="1460.5" r="4.1" fill="#c0c0c0"/>
<circle cx="1040.5" cy="1460.5" r="4.1" fill="#c0c0c0"/>
<circle cx="1052.5" cy="1460.5" r="4.1" fill="#c0c0c0"/>
<circle cx="1064.5" cy="1460.5" r="4.1" fill="#c0c0c0"/>
<circle cx="1076.5" cy="1460.5" r="4.1" fill="#c0c0c0"/>
<circle cx="1088.5" cy="1460.5" r="4.1" fill="#c0c0c0"/>
<circle cx="1100.5" cy="1460.5" r="4.1" fill="#c0c0c0"/>
<circle cx="1112.5" cy="1460.5" r="4.1" fill="#c0c0c0"/>
<circle cx="1124.5" cy="1460.5" r="4.1" fill="#c0c0c0"/>
<circle cx="1136.5" cy="1460.5" r="4.1" fill="#c0c0c0"/>
<circle cx="1148.5" cy="1460.5" r="4.1" fill="#c0c0c0"/>
<circle cx="1160.5" cy="1460.5" r="4.1" fill="#c0c0c0"/>
<circle cx="1172.5" cy="1460.5" r="4.1" fill="#c0c0c0"/>
<circle cx="1184.5" cy="1460.5" r="4.1" fill="#c0c0c0"/>
<circle cx="1196.5" cy="1460.5" r="4.1" fill="#c0c0c0"/>
<circle cx="1208.5" cy="1460.5" r="4.1" fill="#c0c0c0"/>
<circle cx="1220.5" cy="1460.5" r="4.1" fill="#c0c0c0"/>
<circle cx="1232.5" cy="1460.5" r="4.1" fill="#c0c0c0"/>
<circle cx="1244.5" cy="1460.5" r="4.1" fill="#c0c0c0"/>
<circle cx="1256.5" cy="1460.5" r="4.1" fill="#c0c0c0"/>
<circle cx="1268.5" cy="1460.5" r="4.1" fill="#c0c0c0"/>
<circle cx="1280.5" cy="1460.5" r="4.1" fill="#c0c0c0"/>
<circle cx="1292.5" cy="1460.5" r="4.1" fill="#c0c0c0"/>
<circle cx="1304.5" cy="1460.5" r="3.9" fill="#00ff00"/><circle cx="1304.5" cy="1460.5" r="2.2" fill="#008a00"/>
<circle cx="1316.5" cy="1460.5" r="3.9" fill="#00ff00"/><circle cx="1316.5" cy="1460.5" r="2.2" fill="#008a00"/>
<circle cx="1328.5" cy="1460.5" r="3.9" fill="#00ff00"/><circle cx="1328.5" cy="1460.5" r="2.2" fill="#008a00"/>
<circle cx="1340.5" cy="1460.5" r="3.9" fill="#00ff00"/><circle cx="1340.5" cy="1460.5" r="2.2" fill="#008a00"/>
<circle cx="1352.5" cy="1460.5" r="3.9" fill="#00ff00"/><circle cx="1352.5" cy="1460.5" r="2.2" fill="#008a00"/>
<circle cx="1364.5" cy="1460.5" r="3.9" fill="#00ff00"/><circle cx="1364.5" cy="1460.5" r="2.2" fill="#008a00"/>
<circle cx="1376.5" cy="1460.5" r="3.9" fill="#00ff00"/><circle cx="1376.5" cy="1460.5" r="2.2" fill="#008a00"/>
<circle cx="1388.5" cy="1460.5" r="3.9" fill="#00ff00"/><circle cx="1388.5" cy="1460.5" r="2.2" fill="#008a00"/>
<circle cx="1400.5" cy="1460.5" r="3.9" fill="#00ff00"/>
<circle cx="1412.5" cy="1460.5" r="4.1" fill="#c0c0c0"/>
<circle cx="1424.5" cy="1460.5" r="4.1" fill="#c0c0c0"/>
<circle cx="1436.5" cy="1460.5" r="4.1" fill="#c0c0c0"/>
<circle cx="1448.5" cy="1460.5" r="4.1" fill="#c0c0c0"/>
<circle cx="1460.5" cy="1460.5" r="4.1" fill="#c0c0c0"/>
<circle cx="1472.5" cy="1460.5" r="4.1" fill="#c0c0c0"/>
<circle cx="1484.5" cy="1460.5" r="4.1" fill="#c0c0c0"/>
<circle cx="1496.5" cy="1460.5" r="4.1" fill="#c0c0c0"/>
<circle cx="1508.5" cy="1460.5" r="4.1" fill="#c0c0c0"/>
<circle cx="1520.5" cy="1460.5" r="4.1" fill="#c0c0c0"/>
<circle cx="1532.5" cy="1460.5" r="4.1" fill="#c0c0c0"/>
<path d="M1532.5 1456.1v8.8" stroke="#fff" stroke-width="1"/>
<circle cx="8.5" cy="1521.7" r="3.75" fill="#000000"/>
<circle cx="20.5" cy="1521.7" r="3.75" fill="#000000"/>
<circle cx="32.5" cy="1521.7" r="3.75" fill="#000000"/>
<circle cx="44.5" cy="1521.7" r="3.75" fill="#000000"/>
<circle cx="56.5" cy="1521.7" r="3.75" fill="#000000"/>
<circle cx="68.5" cy="1521.7" r="3.75" fill="#00ff00"/><circle cx="68.5" cy="1521.7" r="2.2" fill="#008a00"/>
<circle cx="80.5" cy="1521.7" r="3.75" fill="#00ff00"/><circle cx="80.5" cy="1521.7" r="2.2" fill="#008a00"/>
<circle cx="92.5" cy="1521.7" r="3.75" fill="#00ff00"/>
<circle cx="104.5" cy="1521.7" r="3.75" fill="#00ff00"/>
<circle cx="116.5" cy="1521.7" r="3.75" fill="#00ff00"/>
<circle cx="128.5" cy="1521.7" r="3.75" fill="#00ff00"/>
<circle cx="140.5" cy="1521.7" r="3.75" fill="#000000"/>
<circle cx="152.5" cy="1521.7" r="3.75" fill="#000000"/>
<circle cx="164.5" cy="1521.7" r="3.75" fill="#000000"/>
<circle cx="176.5" cy="1521.7" r="3.75" fill="#000000"/>
<circle cx="188.5" cy="1521.7" r="3.75" fill="#ff0000"/>
<circle cx="200.5" cy="1521.7" r="3.75" fill="#ff0000"/><circle cx="200.5" cy="1521.7" r="2.2" fill="#8f0000"/>
<circle cx="212.5" cy="1521.7" r="3.75" fill="#ff0000"/>
<circle cx="224.5" cy="1521.7" r="3.75" fill="#ff0000"/>
<circle cx="236.5" cy="1521.7" r="3.75" fill="#ff0000"/>
<circle cx="248.5" cy="1521.7" r="3.75" fill="#ff0000"/>
<circle cx="260.5" cy="1521.7" r="3.75" fill="#ff0000"/><circle cx="260.5" cy="1521.7" r="2.2" fill="#8f0000"/>
<circle cx="272.5" cy="1521.7" r="3.75" fill="#ff0000"/><circle cx="272.5" cy="1521.7" r="2.2" fill="#8f0000"/>
<circle cx="284.5" cy="1521.7" r="3.75" fill="#ff0000"/>
<circle cx="296.5" cy="1521.7" r="3.75" fill="#ff0000"/>
<circle cx="308.5" cy="1521.7" r="3.75" fill="#000000"/>
<circle cx="320.5" cy="1521.7" r="3.75" fill="#000000"/>
<circle cx="332.5" cy="1521.7" r="3.75" fill="#ff0000"/>
<circle cx="344.5" cy="1521.7" r="3.75" fill="#000000"/>
<circle cx="356.5" cy="1521.7" r="3.75" fill="#ff0000"/>
<circle cx="368.5" cy="1521.7" r="3.75" fill="#000000"/>
<circle cx="380.5" cy="1521.7" r="3.75" fill="#000000"/>
<circle cx="392.5" cy="1521.7" r="3.75" fill="#000000"/>
<circle cx="404.5" cy="1521.7" r="3.75" fill="#ff0000"/>
<circle cx="416.5" cy="1521.7" r="3.75" fill="#ff0000"/>
<circle cx="428.5" cy="1521.7" r="3.75" fill="#ff0000"/>
<circle cx="440.5" cy="1521.7" r="3.75" fill="#000000"/>
<circle cx="452.5" cy="1521.7" r="3.75" fill="#ff0000"/>
<circle cx="464.5" cy="1521.7" r="3.75" fill="#ff0000"/>
<circle cx="476.5" cy="1521.7" r="3.75" fill="#ff0000"/>
<circle cx="488.5" cy="1521.7" r="3.75" fill="#ff0000"/>
<circle cx="500.5" cy="1521.7" r="3.75" fill="#ff0000"/>
<circle cx="512.5" cy="1521.7" r="3.75" fill="#ff0000"/>
<circle cx="524.5" cy="1521.7" r="3.75" fill="#ff0000"/><circle cx="524.5" cy="1521.7" r="2.2" fill="#8f0000"/>
<circle cx="536.5" cy="1521.7" r="3.75" fill="#ff0000"/><circle cx="536.5" cy="1521.7" r="2.2" fill="#8f0000"/>
<circle cx="548.5" cy="1521.7" r="3.75" fill="#ff0000"/>
<circle cx="560.5" cy="1521.7" r="3.75" fill="#000000"/>
<circle cx="572.5" cy="1521.7" r="3.75" fill="#000000"/>
<circle cx="584.5" cy="1521.7" r="3.75" fill="#ff0000"/>
<circle cx="596.5" cy="1521.7" r="3.75" fill="#000000"/>
<circle cx="608.5" cy="1521.7" r="3.75" fill="#000000"/>
<circle cx="620.5" cy="1521.7" r="3.75" fill="#000000"/>
<circle cx="632.5" cy="1521.7" r="3.75" fill="#00ff00"/>
<circle cx="644.5" cy="1521.7" r="3.75" fill="#00ff00"/>
<circle cx="656.5" cy="1521.7" r="3.75" fill="#00ff00"/>
<circle cx="668.5" cy="1521.7" r="3.75" fill="#00ff00"/>
<circle cx="680.5" cy="1521.7" r="3.75" fill="#00ff00"/>
<circle cx="692.5" cy="1521.7" r="3.75" fill="#00ff00"/>
<circle cx="704.5" cy="1521.7" r="3.75" fill="#00ff00"/>
<circle cx="716.5" cy="1521.7" r="3.75" fill="#00ff00"/>
<circle cx="728.5" cy="1521.7" r="3.75" fill="#000000"/>
<circle cx="740.5" cy="1521.7" r="3.75" fill="#000000"/>
<circle cx="752.5" cy="1521.7" r="3.75" fill="#00ff00"/>
<circle cx="764.5" cy="1521.7" r="3.75" fill="#000000"/>
<circle cx="776.5" cy="1521.7" r="3.75" fill="#000000"/>
<circle cx="788.5" cy="1521.7" r="3.75" fill="#000000"/>
<circle cx="800.5" cy="1521.7" r="3.75" fill="#000000"/>
<circle cx="812.5" cy="1521.7" r="3.75" fill="#000000"/>
<circle cx="824.5" cy="1521.7" r="3.75" fill="#ff0000"/>
<circle cx="836.5" cy="1521.7" r="3.75" fill="#ff0000"/>
<circle cx="848.5" cy="1521.7" r="3.75" fill="#ff0000"/>
<circle cx="860.5" cy="1521.7" r="3.75" fill="#ff0000"/>
<circle cx="872.5" cy="1521.7" r="3.75" fill="#ff0000"/>
<circle cx="884.5" cy="1521.7" r="3.75" fill="#ff0000"/>
<circle cx="896.5" cy="1521.7" r="3.75" fill="#ff0000"/>
<circle cx="908.5" cy="1521.7" r="3.75" fill="#ff0000"/>
<circle cx="920.5" cy="1521.7" r="3.75" fill="#ff0000"/>
<circle cx="932.5" cy="1521.7" r="3.75" fill="#ff0000"/>
<circle cx="944.5" cy="1521.7" r="3.75" fill="#ff0000"/>
<circle cx="956.5" cy="1521.7" r="3.75" fill="#ff0000"/>
<circle cx="968.5" cy="1521.7" r="3.75" fill="#ff0000"/>
<circle cx="980.5" cy="1521.7" r="3.75" fill="#ff0000"/>
<circle cx="992.5" cy="1521.7" r="3.75" fill="#000000"/>
<circle cx="1004.5" cy="1521.7" r="3.75" fill="#000000"/>
<circle cx="1016.5" cy="1521.7" r="3.75" fill="#000000"/>
<circle cx="1028.5" cy="1521.7" r="3.75" fill="#000000"/>
<circle cx="1040.5" cy="1521.7" r="3.75" fill="#000000"/>
<circle cx="1052.5" cy="1521.7" r="3.75" fill="#00ff00"/>
<circle cx="1064.5" cy="1521.7" r="3.75" fill="#00ff00"/>
<circle cx="1076.5" cy="1521.7" r="3.75" fill="#00ff00"/>
<circle cx="1088.5" cy="1521.7" r="3.75" fill="#000000"/>
<circle cx="1100.5" cy="1521.7" r="3.75" fill="#000000"/>
<circle cx="1112.5" cy="1521.7" r="3.75" fill="#000000"/>
<circle cx="1124.5" cy="1521.7" r="3.75" fill="#000000"/>
<circle cx="1136.5" cy="1521.7" r="3.75" fill="#000000"/>
<circle cx="1148.5" cy="1521.7" r="3.75" fill="#000000"/>
<circle cx="1160.5" cy="1521.7" r="3.75" fill="#000000"/>
<circle cx="1172.5" cy="1521.7" r="3.75" fill="#000000"/>
<circle cx="1184.5" cy="1521.7" r="3.75" fill="#000000"/>
<circle cx="1196.5" cy="1521.7" r="3.75" fill="#000000"/>
<circle cx="1208.5" cy="1521.7" r="3.75" fill="#00ff00"/>
<circle cx="1220.5" cy="1521.7" r="3.75" fill="#00ff00"/>
<circle cx="1232.5" cy="1521.7" r="3.75" fill="#000000"/>
<circle cx="1244.5" cy="1521.7" r="3.75" fill="#000000"/>
<circle cx="1256.5" cy="1521.7" r="3.75" fill="#000000"/>
<circle cx="1268.5" cy="1521.7" r="3.75" fill="#ff0000"/>
<circle cx="1280.5" cy="1521.7" r="3.75" fill="#ff0000"/><circle cx="1280.5" cy="1521.7" r="2.2" fill="#8f0000"/>
<circle cx="1292.5" cy="1521.7" r="3.75" fill="#ff0000"/><circle cx="1292.5" cy="1521.7" r="2.2" fill="#8f0000"/>
<circle cx="1304.5" cy="1521.7" r="3.75" fill="#ff0000"/><circle cx="1304.5" cy="1521.7" r="2.2" fill="#8f0000"/>
<circle cx="1316.5" cy="1521.7" r="3.75" fill="#ff0000"/><circle cx="1316.5" cy="1521.7" r="2.2" fill="#8f0000"/>
<circle cx="1328.5" cy="1521.7" r="3.75" fill="#ff0000"/><circle cx="1328.5" cy="1521.7" r="2.2" fill="#8f0000"/>
<circle cx="1340.5" cy="1521.7" r="3.75" fill="#ff0000"/><circle cx="1340.5" cy="1521.7" r="2.2" fill="#8f0000"/>
<circle cx="1352.5" cy="1521.7" r="3.75" fill="#ff0000"/><circle cx="1352.5" cy="1521.7" r="2.2" fill="#8f0000"/>
<circle cx="1364.5" cy="1521.7" r="3.75" fill="#ff0000"/><circle cx="1364.5" cy="1521.7" r="2.2" fill="#8f0000"/>
<circle cx="1376.5" cy="1521.7" r="3.75" fill="#000000"/>
<circle cx="1388.5" cy="1521.7" r="3.75" fill="#000000"/>
<circle cx="1400.5" cy="1521.7" r="3.75" fill="#000000"/>
<circle cx="1412.5" cy="1521.7" r="3.75" fill="#000000"/>
<circle cx="1424.5" cy="1521.7" r="3.75" fill="#000000"/>
<circle cx="1436.5" cy="1521.7" r="3.75" fill="#00ff00"/>
<circle cx="1448.5" cy="1521.7" r="3.75" fill="#00ff00"/>
<circle cx="1460.5" cy="1521.7" r="3.75" fill="#00ff00"/>
<circle cx="1472.5" cy="1521.7" r="3.75" fill="#00ff00"/>
<circle cx="1484.5" cy="1521.7" r="3.75" fill="#00ff00"/><circle cx="1484.5" cy="1521.7" r="2.2" fill="#008a00"/>
<circle cx="1496.5" cy="1521.7" r="3.75" fill="#00ff00"/>
<circle cx="1508.5" cy="1521.7" r="3.75" fill="#00ff00"/>
<circle cx="1520.5" cy="1521.7" r="3.75" fill="#00ff00"/>
<circle cx="1532.5" cy="1521.7" r="3.75" fill="#00ff00"/>
<path d="M1532.5 1517.5v8.5" stroke="#fff" stroke-width="1"/>
<circle cx="8.5" cy="1574.3" r="3.75" fill="#ff0000"/>
<circle cx="20.5" cy="1574.3" r="3.75" fill="#ff0000"/>
<circle cx="32.5" cy="1574.3" r="3.75" fill="#ff0000"/>
<circle cx="44.5" cy="1574.3" r="3.75" fill="#ff0000"/>
<circle cx="56.5" cy="1574.3" r="3.75" fill="#00ff00"/>
<circle cx="68.5" cy="1574.3" r="3.75" fill="#00ff00"/>
<circle cx="80.5" cy="1574.3" r="3.75" fill="#00ff00"/>
<circle cx="92.5" cy="1574.3" r="3.75" fill="#00ff00"/>
<circle cx="104.5" cy="1574.3" r="3.75" fill="#00ff00"/>
<circle cx="116.5" cy="1574.3" r="3.75" fill="#00ff00"/>
<circle cx="128.5" cy="1574.3" r="3.75" fill="#00ff00"/>
<circle cx="140.5" cy="1574.3" r="3.75" fill="#ffff00"/>
<circle cx="152.5" cy="1574.3" r="3.75" fill="#ffff00"/>
<circle cx="164.5" cy="1574.3" r="3.75" fill="#ffff00"/>
<circle cx="176.5" cy="1574.3" r="3.75" fill="#ff0000"/>
<circle cx="188.5" cy="1574.3" r="3.75" fill="#ff0000"/>
<circle cx="200.5" cy="1574.3" r="3.75" fill="#ff0000"/>
<circle cx="212.5" cy="1574.3" r="3.75" fill="#ff0000"/>
<circle cx="224.5" cy="1574.3" r="3.75" fill="#ff0000"/>
<circle cx="236.5" cy="1574.3" r="3.75" fill="#ff0000"/>
<circle cx="248.5" cy="1574.3" r="3.75" fill="#ff0000"/>
<circle cx="260.5" cy="1574.3" r="3.75" fill="#ff0000"/>
<circle cx="272.5" cy="1574.3" r="3.75" fill="#ff0000"/>
<circle cx="284.5" cy="1574.3" r="3.75" fill="#ff0000"/>
<circle cx="296.5" cy="1574.3" r="3.75" fill="#ff0000"/>
<circle cx="308.5" cy="1574.3" r="3.75" fill="#ffff00"/>
<circle cx="320.5" cy="1574.3" r="3.75" fill="#ff0000"/>
<circle cx="332.5" cy="1574.3" r="3.75" fill="#ffff00"/>
<circle cx="344.5" cy="1574.3" r="3.75" fill="#ffff00"/>
<circle cx="356.5" cy="1574.3" r="3.75" fill="#ff0000"/>
<circle cx="368.5" cy="1574.3" r="3.75" fill="#ffff00"/>
<circle cx="380.5" cy="1574.3" r="3.75" fill="#ffff00"/>
<circle cx="392.5" cy="1574.3" r="3.75" fill="#ff0000"/>
<circle cx="404.5" cy="1574.3" r="3.75" fill="#ff0000"/>
<circle cx="416.5" cy="1574.3" r="3.75" fill="#ff0000"/>
<circle cx="428.5" cy="1574.3" r="3.75" fill="#ff0000"/>
<circle cx="440.5" cy="1574.3" r="3.75" fill="#ff0000"/>
<circle cx="452.5" cy="1574.3" r="3.75" fill="#ff0000"/>
<circle cx="464.5" cy="1574.3" r="3.75" fill="#ff0000"/>
<circle cx="476.5" cy="1574.3" r="3.75" fill="#ff0000"/>
<circle cx="488.5" cy="1574.3" r="3.75" fill="#ff0000"/>
<circle cx="500.5" cy="1574.3" r="3.75" fill="#ff0000"/>
<circle cx="512.5" cy="1574.3" r="3.75" fill="#ff0000"/>
<circle cx="524.5" cy="1574.3" r="3.75" fill="#ff0000"/>
<circle cx="536.5" cy="1574.3" r="3.75" fill="#ff0000"/>
<circle cx="548.5" cy="1574.3" r="3.75" fill="#ff0000"/>
<circle cx="560.5" cy="1574.3" r="3.75" fill="#ff0000"/>
<circle cx="572.5" cy="1574.3" r="3.75" fill="#ff0000"/>
<circle cx="584.5" cy="1574.3" r="3.75" fill="#ff0000"/>
<circle cx="596.5" cy="1574.3" r="3.75" fill="#ffff00"/>
<circle cx="608.5" cy="1574.3" r="3.75" fill="#ffff00"/>
<circle cx="620.5" cy="1574.3" r="3.75" fill="#ffff00"/>
<circle cx="632.5" cy="1574.3" r="3.75" fill="#00ff00"/>
<circle cx="644.5" cy="1574.3" r="3.75" fill="#00ff00"/>
<circle cx="656.5" cy="1574.3" r="3.75" fill="#00ff00"/>
<circle cx="668.5" cy="1574.3" r="3.75" fill="#00ff00"/>
<circle cx="680.5" cy="1574.3" r="3.75" fill="#00ff00"/>
<circle cx="692.5" cy="1574.3" r="3.75" fill="#00ff00"/>
<circle cx="704.5" cy="1574.3" r="3.75" fill="#00ff00"/>
<circle cx="716.5" cy="1574.3" r="3.75" fill="#00ff00"/>
<circle cx="728.5" cy="1574.3" r="3.75" fill="#ffff00"/>
<circle cx="740.5" cy="1574.3" r="3.75" fill="#ffff00"/>
<circle cx="752.5" cy="1574.3" r="3.75" fill="#00ff00"/>
<circle cx="764.5" cy="1574.3" r="3.75" fill="#ffff00"/>
<circle cx="776.5" cy="1574.3" r="3.75" fill="#ffff00"/>
<circle cx="788.5" cy="1574.3" r="3.75" fill="#ffff00"/>
<circle cx="800.5" cy="1574.3" r="3.75" fill="#ff0000"/>
<circle cx="812.5" cy="1574.3" r="3.75" fill="#ff0000"/>
<circle cx="824.5" cy="1574.3" r="3.75" fill="#ff0000"/>
<circle cx="836.5" cy="1574.3" r="3.75" fill="#ff0000"/>
<circle cx="848.5" cy="1574.3" r="3.75" fill="#ff0000"/>
<circle cx="860.5" cy="1574.3" r="3.75" fill="#ff0000"/>
<circle cx="872.5" cy="1574.3" r="3.75" fill="#ff0000"/>
<circle cx="884.5" cy="1574.3" r="3.75" fill="#ff0000"/>
<circle cx="896.5" cy="1574.3" r="3.75" fill="#ff0000"/>
<circle cx="908.5" cy="1574.3" r="3.75" fill="#ff0000"/>
<circle cx="920.5" cy="1574.3" r="3.75" fill="#ff0000"/>
<circle cx="932.5" cy="1574.3" r="3.75" fill="#ff0000"/>
<circle cx="944.5" cy="1574.3" r="3.75" fill="#ff0000"/>
<circle cx="956.5" cy="1574.3" r="3.75" fill="#ff0000"/>
<circle cx="968.5" cy="1574.3" r="3.75" fill="#ff0000"/>
<circle cx="980.5" cy="1574.3" r="3.75" fill="#ff0000"/>
<circle cx="992.5" cy="1574.3" r="3.75" fill="#ffff00"/>
<circle cx="1004.5" cy="1574.3" r="3.75" fill="#ffff00"/>
<circle cx="1016.5" cy="1574.3" r="3.75" fill="#ffff00"/>
<circle cx="1028.5" cy="1574.3" r="3.75" fill="#ffff00"/>
<circle cx="1040.5" cy="1574.3" r="3.75" fill="#00ff00"/>
<circle cx="1052.5" cy="1574.3" r="3.75" fill="#00ff00"/>
<circle cx="1064.5" cy="1574.3" r="3.75" fill="#00ff00"/>
<circle cx="1076.5" cy="1574.3" r="3.75" fill="#00ff00"/>
<circle cx="1088.5" cy="1574.3" r="3.75" fill="#00ff00"/>
<circle cx="1100.5" cy="1574.3" r="3.75" fill="#ffff00"/>
<circle cx="1112.5" cy="1574.3" r="3.75" fill="#ffff00"/>
<circle cx="1124.5" cy="1574.3" r="3.75" fill="#ffff00"/>
<circle cx="1136.5" cy="1574.3" r="3.75" fill="#ffff00"/>
<circle cx="1148.5" cy="1574.3" r="3.75" fill="#ffff00"/>
<circle cx="1160.5" cy="1574.3" r="3.75" fill="#ff0000"/>
<circle cx="1172.5" cy="1574.3" r="3.75" fill="#ff0000"/>
<circle cx="1184.5" cy="1574.3" r="3.75" fill="#ffff00"/>
<circle cx="1196.5" cy="1574.3" r="3.75" fill="#00ff00"/>
<circle cx="1208.5" cy="1574.3" r="3.75" fill="#00ff00"/>
<circle cx="1220.5" cy="1574.3" r="3.75" fill="#00ff00"/>
<circle cx="1232.5" cy="1574.3" r="3.75" fill="#ffff00"/>
<circle cx="1244.5" cy="1574.3" r="3.75" fill="#ffff00"/>
<circle cx="1256.5" cy="1574.3" r="3.75" fill="#ff0000"/>
<circle cx="1268.5" cy="1574.3" r="3.75" fill="#ff0000"/>
<circle cx="1280.5" cy="1574.3" r="3.75" fill="#ff0000"/>
<circle cx="1292.5" cy="1574.3" r="3.75" fill="#ff0000"/>
<circle cx="1304.5" cy="1574.3" r="3.75" fill="#ff0000"/>
<circle cx="1316.5" cy="1574.3" r="3.75" fill="#ff0000"/>
<circle cx="1328.5" cy="1574.3" r="3.75" fill="#ff0000"/>
<circle cx="1340.5" cy="1574.3" r="3.75" fill="#ff0000"/>
<circle cx="1352.5" cy="1574.3" r="3.75" fill="#ff0000"/>
<circle cx="1364.5" cy="1574.3" r="3.75" fill="#ff0000"/>
<circle cx="1376.5" cy="1574.3" r="3.75" fill="#ffff00"/>
<circle cx="1388.5" cy="1574.3" r="3.75" fill="#ffff00"/>
<circle cx="1400.5" cy="1574.3" r="3.75" fill="#ffff00"/>
<circle cx="1412.5" cy="1574.3" r="3.75" fill="#ffff00"/>
<circle cx="1424.5" cy="1574.3" r="3.75" fill="#00ff00"/>
<circle cx="1436.5" cy="1574.3" r="3.75" fill="#00ff00"/>
<circle cx="1448.5" cy="1574.3" r="3.75" fill="#00ff00"/>
<circle cx="1460.5" cy="1574.3" r="3.75" fill="#00ff00"/>
<circle cx="1472.5" cy="1574.3" r="3.75" fill="#00ff00"/>
<circle cx="1484.5" cy="1574.3" r="3.75" fill="#00ff00"/>
<circle cx="1496.5" cy="1574.3" r="3.75" fill="#00ff00"/>
<circle cx="1508.5" cy="1574.3" r="3.75" fill="#00ff00"/>
<circle cx="1520.5" cy="1574.3" r="3.75" fill="#00ff00"/>
<circle cx="1532.5" cy="1574.3" r="3.75" fill="#00ff00"/>
<path d="M1532.5 1570.1v8.4" stroke="#fff" stroke-width="1"/>
<circle cx="1544.5" cy="1574.3" r="3.75" fill="#00ff00"/>
<circle cx="8.5" cy="1592.5" r="3.75" fill="#000000"/>
<circle cx="20.5" cy="1592.5" r="3.75" fill="#ff0000"/>
<circle cx="32.5" cy="1592.5" r="3.75" fill="#000000"/>
<circle cx="44.5" cy="1592.5" r="3.75" fill="#000000"/>
<circle cx="56.5" cy="1592.5" r="3.75" fill="#000000"/>
<circle cx="68.5" cy="1592.5" r="3.75" fill="#00ff00"/>
<circle cx="80.5" cy="1592.5" r="3.75" fill="#00ff00"/>
<circle cx="92.5" cy="1592.5" r="3.75" fill="#00ff00"/>
<circle cx="104.5" cy="1592.5" r="3.75" fill="#00ff00"/>
<circle cx="116.5" cy="1592.5" r="3.75" fill="#000000"/>
<circle cx="128.5" cy="1592.5" r="3.75" fill="#ff0000"/>
<circle cx="140.5" cy="1592.5" r="3.75" fill="#ff0000"/>
<circle cx="152.5" cy="1592.5" r="3.75" fill="#ff0000"/>
<circle cx="164.5" cy="1592.5" r="3.75" fill="#ff0000"/>
<circle cx="176.5" cy="1592.5" r="3.75" fill="#ff0000"/>
<circle cx="188.5" cy="1592.5" r="3.75" fill="#ff0000"/>
<circle cx="200.5" cy="1592.5" r="3.75" fill="#ff0000"/>
<circle cx="212.5" cy="1592.5" r="3.75" fill="#ff0000"/>
<circle cx="224.5" cy="1592.5" r="3.75" fill="#000000"/>
<circle cx="236.5" cy="1592.5" r="3.75" fill="#000000"/>
<circle cx="248.5" cy="1592.5" r="3.75" fill="#000000"/>
<circle cx="260.5" cy="1592.5" r="3.75" fill="#000000"/>
<circle cx="272.5" cy="1592.5" r="3.75" fill="#000000"/>
<circle cx="284.5" cy="1592.5" r="3.75" fill="#ff0000"/>
<circle cx="296.5" cy="1592.5" r="3.75" fill="#00ff00"/>
<circle cx="308.5" cy="1592.5" r="3.75" fill="#00ff00"/>
<circle cx="320.5" cy="1592.5" r="3.75" fill="#00ff00"/>
<circle cx="332.5" cy="1592.5" r="3.75" fill="#00ff00"/>
<circle cx="344.5" cy="1592.5" r="3.75" fill="#00ff00"/>
<circle cx="356.5" cy="1592.5" r="3.75" fill="#ff0000"/>
<circle cx="368.5" cy="1592.5" r="3.75" fill="#ff0000"/>
<circle cx="380.5" cy="1592.5" r="3.75" fill="#000000"/>
<circle cx="392.5" cy="1592.5" r="3.75" fill="#00ff00"/>
<circle cx="404.5" cy="1592.5" r="3.75" fill="#000000"/>
<circle cx="416.5" cy="1592.5" r="3.75" fill="#00ff00"/>
<circle cx="428.5" cy="1592.5" r="3.75" fill="#ff0000"/>
<circle cx="440.5" cy="1592.5" r="3.75" fill="#ff0000"/>
<circle cx="452.5" cy="1592.5" r="3.75" fill="#ff0000"/>
<circle cx="464.5" cy="1592.5" r="3.75" fill="#ff0000"/>
<circle cx="476.5" cy="1592.5" r="3.75" fill="#ff0000"/>
<circle cx="488.5" cy="1592.5" r="3.75" fill="#00ff00"/>
<circle cx="500.5" cy="1592.5" r="3.75" fill="#ff0000"/>
<circle cx="512.5" cy="1592.5" r="3.75" fill="#000000"/>
<circle cx="524.5" cy="1592.5" r="3.75" fill="#000000"/>
<circle cx="536.5" cy="1592.5" r="3.75" fill="#000000"/>
<circle cx="548.5" cy="1592.5" r="3.75" fill="#00ff00"/>
<circle cx="560.5" cy="1592.5" r="3.75" fill="#00ff00"/>
<circle cx="572.5" cy="1592.5" r="3.75" fill="#00ff00"/>
<circle cx="584.5" cy="1592.5" r="3.75" fill="#00ff00"/>
<circle cx="596.5" cy="1592.5" r="3.75" fill="#00ff00"/>
<circle cx="608.5" cy="1592.5" r="3.75" fill="#000000"/>
<circle cx="620.5" cy="1592.5" r="3.75" fill="#000000"/>
<circle cx="632.5" cy="1592.5" r="3.75" fill="#00ff00"/>
<circle cx="644.5" cy="1592.5" r="3.75" fill="#00ff00"/>
<circle cx="656.5" cy="1592.5" r="3.75" fill="#00ff00"/>
<circle cx="668.5" cy="1592.5" r="3.75" fill="#00ff00"/>
<circle cx="680.5" cy="1592.5" r="3.75" fill="#000000"/>
<circle cx="692.5" cy="1592.5" r="3.75" fill="#000000"/>
<circle cx="704.5" cy="1592.5" r="3.75" fill="#000000"/>
<circle cx="716.5" cy="1592.5" r="3.75" fill="#000000"/>
<circle cx="728.5" cy="1592.5" r="3.75" fill="#000000"/>
<circle cx="740.5" cy="1592.5" r="3.75" fill="#ff0000"/>
<circle cx="752.5" cy="1592.5" r="3.75" fill="#ff0000"/>
<circle cx="764.5" cy="1592.5" r="3.75" fill="#ff0000"/>
<circle cx="776.5" cy="1592.5" r="3.75" fill="#ff0000"/>
<circle cx="788.5" cy="1592.5" r="3.75" fill="#00ff00"/>
<circle cx="800.5" cy="1592.5" r="3.75" fill="#000000"/>
<circle cx="812.5" cy="1592.5" r="3.75" fill="#ff0000"/>
<circle cx="824.5" cy="1592.5" r="3.75" fill="#ff0000"/>
<circle cx="836.5" cy="1592.5" r="3.75" fill="#ff0000"/>
<circle cx="848.5" cy="1592.5" r="3.75" fill="#ff0000"/>
<circle cx="860.5" cy="1592.5" r="3.75" fill="#000000"/>
<circle cx="872.5" cy="1592.5" r="3.75" fill="#000000"/>
<circle cx="884.5" cy="1592.5" r="3.75" fill="#000000"/>
<circle cx="896.5" cy="1592.5" r="3.75" fill="#ff0000"/>
<circle cx="908.5" cy="1592.5" r="3.75" fill="#ff0000"/>
<circle cx="920.5" cy="1592.5" r="3.75" fill="#ff0000"/>
<circle cx="932.5" cy="1592.5" r="3.75" fill="#ff0000"/>
<circle cx="944.5" cy="1592.5" r="3.75" fill="#ff0000"/>
<circle cx="956.5" cy="1592.5" r="3.75" fill="#000000"/>
<circle cx="968.5" cy="1592.5" r="3.75" fill="#000000"/>
<circle cx="980.5" cy="1592.5" r="3.75" fill="#000000"/>
<circle cx="992.5" cy="1592.5" r="3.75" fill="#00ff00"/>
<circle cx="1004.5" cy="1592.5" r="3.75" fill="#00ff00"/>
<circle cx="1016.5" cy="1592.5" r="3.75" fill="#00ff00"/>
<circle cx="1028.5" cy="1592.5" r="3.75" fill="#00ff00"/>
<circle cx="1040.5" cy="1592.5" r="3.75" fill="#00ff00"/>
<circle cx="1052.5" cy="1592.5" r="3.75" fill="#00ff00"/>
<circle cx="1064.5" cy="1592.5" r="3.75" fill="#000000"/>
<circle cx="1076.5" cy="1592.5" r="3.75" fill="#00ff00"/>
<circle cx="1088.5" cy="1592.5" r="3.75" fill="#000000"/>
<circle cx="1100.5" cy="1592.5" r="3.75" fill="#000000"/>
<circle cx="1112.5" cy="1592.5" r="3.75" fill="#ff0000"/>
<circle cx="1124.5" cy="1592.5" r="3.75" fill="#ff0000"/>
<circle cx="1136.5" cy="1592.5" r="3.75" fill="#ff0000"/>
<circle cx="1148.5" cy="1592.5" r="3.75" fill="#ff0000"/>
<circle cx="1160.5" cy="1592.5" r="3.75" fill="#000000"/>
<circle cx="1172.5" cy="1592.5" r="3.75" fill="#000000"/>
<circle cx="1184.5" cy="1592.5" r="3.75" fill="#00ff00"/>
<circle cx="1196.5" cy="1592.5" r="3.75" fill="#00ff00"/>
<circle cx="1208.5" cy="1592.5" r="3.75" fill="#00ff00"/>
<circle cx="1220.5" cy="1592.5" r="3.75" fill="#00ff00"/>
<circle cx="1232.5" cy="1592.5" r="3.75" fill="#00ff00"/>
<circle cx="1244.5" cy="1592.5" r="3.75" fill="#000000"/>
<circle cx="1256.5" cy="1592.5" r="3.75" fill="#ff0000"/>
<circle cx="1268.5" cy="1592.5" r="3.75" fill="#ff0000"/>
<circle cx="1280.5" cy="1592.5" r="3.75" fill="#ff0000"/>
<circle cx="1292.5" cy="1592.5" r="3.75" fill="#ff0000"/>
<circle cx="1304.5" cy="1592.5" r="3.75" fill="#ff0000"/>
<circle cx="1316.5" cy="1592.5" r="3.75" fill="#ff0000"/>
<circle cx="1328.5" cy="1592.5" r="3.75" fill="#ff0000"/>
<circle cx="1340.5" cy="1592.5" r="3.75" fill="#000000"/>
<circle cx="1352.5" cy="1592.5" r="3.75" fill="#000000"/>
<circle cx="1364.5" cy="1592.5" r="3.75" fill="#000000"/>
<circle cx="1376.5" cy="1592.5" r="3.75" fill="#00ff00"/>
<circle cx="1388.5" cy="1592.5" r="3.75" fill="#00ff00"/>
<circle cx="1400.5" cy="1592.5" r="3.75" fill="#00ff00"/>
<circle cx="1412.5" cy="1592.5" r="3.75" fill="#00ff00"/>
<circle cx="1424.5" cy="1592.5" r="3.75" fill="#00ff00"/>
<circle cx="1436.5" cy="1592.5" r="3.75" fill="#00ff00"/>
<circle cx="1448.5" cy="1592.5" r="3.75" fill="#000000"/>
<circle cx="1460.5" cy="1592.5" r="3.75" fill="#00ff00"/>
<circle cx="1472.5" cy="1592.5" r="3.75" fill="#00ff00"/>
<circle cx="1484.5" cy="1592.5" r="3.75" fill="#00ff00"/>
<circle cx="1496.5" cy="1592.5" r="3.75" fill="#000000"/>
<circle cx="1508.5" cy="1592.5" r="3.75" fill="#000000"/>
<circle cx="1520.5" cy="1592.5" r="3.75" fill="#000000"/>
<circle cx="1532.5" cy="1592.5" r="3.75" fill="#000000"/>
<path d="M1532.5 1588.3v8.4" stroke="#fff" stroke-width="1"/>
<circle cx="1544.5" cy="1592.5" r="3.75" fill="#ff0000"/>
<circle cx="8.5" cy="1611.6" r="3.75" fill="#00ff00"/>
<circle cx="20.5" cy="1611.6" r="3.75" fill="#00ff00"/>
<circle cx="32.5" cy="1611.6" r="3.75" fill="#00ff00"/>
<circle cx="44.5" cy="1611.6" r="3.75" fill="#00ff00"/>
<circle cx="56.5" cy="1611.6" r="3.75" fill="#00ff00"/>
<circle cx="68.5" cy="1611.6" r="3.75" fill="#00ff00"/>
<circle cx="80.5" cy="1611.6" r="3.75" fill="#00ff00"/>
<circle cx="92.5" cy="1611.6" r="3.75" fill="#00ff00"/>
<circle cx="104.5" cy="1611.6" r="3.75" fill="#00ff00"/>
<circle cx="116.5" cy="1611.6" r="3.75" fill="#00ff00"/>
<circle cx="128.5" cy="1611.6" r="3.75" fill="#00ff00"/>
<circle cx="140.5" cy="1611.6" r="3.75" fill="#00ff00"/>
<circle cx="152.5" cy="1611.6" r="3.75" fill="#00ff00"/>
<circle cx="164.5" cy="1611.6" r="3.75" fill="#00ff00"/>
<circle cx="176.5" cy="1611.6" r="3.75" fill="#00ff00"/>
<circle cx="188.5" cy="1611.6" r="3.75" fill="#00ff00"/>
<circle cx="200.5" cy="1611.6" r="3.75" fill="#00ff00"/>
<circle cx="212.5" cy="1611.6" r="3.75" fill="#00ff00"/>
<circle cx="224.5" cy="1611.6" r="3.75" fill="#00ff00"/>
<circle cx="236.5" cy="1611.6" r="3.75" fill="#00ff00"/>
<circle cx="248.5" cy="1611.6" r="3.75" fill="#00ff00"/>
<circle cx="260.5" cy="1611.6" r="3.75" fill="#00ff00"/>
<circle cx="272.5" cy="1611.6" r="3.75" fill="#00ff00"/>
<circle cx="284.5" cy="1611.6" r="3.75" fill="#ff0000"/>
<circle cx="296.5" cy="1611.6" r="3.75" fill="#ff0000"/>
<circle cx="308.5" cy="1611.6" r="3.75" fill="#ff0000"/>
<circle cx="320.5" cy="1611.6" r="3.75" fill="#ff0000"/>
<circle cx="332.5" cy="1611.6" r="3.75" fill="#ff0000"/>
<circle cx="344.5" cy="1611.6" r="3.75" fill="#ff0000"/>
<circle cx="356.5" cy="1611.6" r="3.75" fill="#ff0000"/>
<circle cx="368.5" cy="1611.6" r="3.75" fill="#ff0000"/>
<circle cx="380.5" cy="1611.6" r="3.75" fill="#ff0000"/>
<circle cx="392.5" cy="1611.6" r="3.75" fill="#ff0000"/>
<circle cx="404.5" cy="1611.6" r="3.75" fill="#ff0000"/>
<circle cx="416.5" cy="1611.6" r="3.75" fill="#ff0000"/>
<circle cx="428.5" cy="1611.6" r="3.75" fill="#ff0000"/>
<circle cx="440.5" cy="1611.6" r="3.75" fill="#ff0000"/>
<circle cx="452.5" cy="1611.6" r="3.75" fill="#ff0000"/>
<circle cx="464.5" cy="1611.6" r="3.75" fill="#ff0000"/>
<circle cx="476.5" cy="1611.6" r="3.75" fill="#ff0000"/>
<circle cx="488.5" cy="1611.6" r="3.75" fill="#ff0000"/>
<circle cx="500.5" cy="1611.6" r="3.75" fill="#ff0000"/>
<circle cx="512.5" cy="1611.6" r="3.75" fill="#ff0000"/>
<circle cx="524.5" cy="1611.6" r="3.75" fill="#ff0000"/>
<circle cx="536.5" cy="1611.6" r="3.75" fill="#ff0000"/>
<circle cx="548.5" cy="1611.6" r="3.75" fill="#ff0000"/>
<circle cx="560.5" cy="1611.6" r="3.75" fill="#ff0000"/>
<circle cx="572.5" cy="1611.6" r="3.75" fill="#ff0000"/>
<circle cx="584.5" cy="1611.6" r="3.75" fill="#ff0000"/>
<circle cx="596.5" cy="1611.6" r="3.75" fill="#ff0000"/>
<circle cx="608.5" cy="1611.6" r="3.75" fill="#ff0000"/>
<circle cx="620.5" cy="1611.6" r="3.75" fill="#ff0000"/>
<circle cx="632.5" cy="1611.6" r="3.75" fill="#ff0000"/>
<circle cx="644.5" cy="1611.6" r="3.75" fill="#ff0000"/>
<circle cx="656.5" cy="1611.6" r="3.75" fill="#ff0000"/>
<circle cx="668.5" cy="1611.6" r="3.75" fill="#ff0000"/>
<circle cx="680.5" cy="1611.6" r="3.75" fill="#ff0000"/>
<circle cx="692.5" cy="1611.6" r="3.75" fill="#ff0000"/>
<circle cx="704.5" cy="1611.6" r="3.75" fill="#ff0000"/>
<circle cx="716.5" cy="1611.6" r="3.75" fill="#ff0000"/>
<circle cx="728.5" cy="1611.6" r="3.75" fill="#ff0000"/>
<circle cx="740.5" cy="1611.6" r="3.75" fill="#ff0000"/>
<circle cx="752.5" cy="1611.6" r="3.75" fill="#ff0000"/>
<circle cx="764.5" cy="1611.6" r="3.75" fill="#ff0000"/>
<circle cx="776.5" cy="1611.6" r="3.75" fill="#ff0000"/>
<circle cx="788.5" cy="1611.6" r="3.75" fill="#ff0000"/>
<circle cx="800.5" cy="1611.6" r="3.75" fill="#00ff00"/>
<circle cx="812.5" cy="1611.6" r="3.75" fill="#00ff00"/>
<circle cx="824.5" cy="1611.6" r="3.75" fill="#00ff00"/>
<circle cx="836.5" cy="1611.6" r="3.75" fill="#00ff00"/>
<circle cx="848.5" cy="1611.6" r="3.75" fill="#00ff00"/>
<circle cx="860.5" cy="1611.6" r="3.75" fill="#00ff00"/>
<circle cx="872.5" cy="1611.6" r="3.75" fill="#00ff00"/>
<circle cx="884.5" cy="1611.6" r="3.75" fill="#00ff00"/>
<circle cx="896.5" cy="1611.6" r="3.75" fill="#00ff00"/>
<circle cx="908.5" cy="1611.6" r="3.75" fill="#ff0000"/>
<circle cx="920.5" cy="1611.6" r="3.75" fill="#ff0000"/>
<circle cx="932.5" cy="1611.6" r="3.75" fill="#ff0000"/>
<circle cx="944.5" cy="1611.6" r="3.75" fill="#ff0000"/>
<circle cx="956.5" cy="1611.6" r="3.75" fill="#ff0000"/>
<circle cx="968.5" cy="1611.6" r="3.75" fill="#ff0000"/>
<circle cx="980.5" cy="1611.6" r="3.75" fill="#ff0000"/>
<circle cx="992.5" cy="1611.6" r="3.75" fill="#ff0000"/>
<circle cx="1004.5" cy="1611.6" r="3.75" fill="#ff0000"/>
<circle cx="1016.5" cy="1611.6" r="3.75" fill="#ff0000"/>
<circle cx="1028.5" cy="1611.6" r="3.75" fill="#ff0000"/>
<circle cx="1040.5" cy="1611.6" r="3.75" fill="#ff0000"/>
<circle cx="1052.5" cy="1611.6" r="3.75" fill="#ff0000"/>
<circle cx="1064.5" cy="1611.6" r="3.75" fill="#ff0000"/>
<circle cx="1076.5" cy="1611.6" r="3.75" fill="#ff0000"/>
<circle cx="1088.5" cy="1611.6" r="3.75" fill="#ff0000"/>
<circle cx="1100.5" cy="1611.6" r="3.75" fill="#ff0000"/>
<circle cx="1112.5" cy="1611.6" r="3.75" fill="#ff0000"/>
<circle cx="1124.5" cy="1611.6" r="3.75" fill="#ff0000"/>
<circle cx="1136.5" cy="1611.6" r="3.75" fill="#ff0000"/>
<circle cx="1148.5" cy="1611.6" r="3.75" fill="#ff0000"/>
<circle cx="1160.5" cy="1611.6" r="3.75" fill="#ff0000"/>
<circle cx="1172.5" cy="1611.6" r="3.75" fill="#ff0000"/>
<circle cx="1184.5" cy="1611.6" r="3.75" fill="#ff0000"/>
<circle cx="1196.5" cy="1611.6" r="3.75" fill="#ff0000"/>
<circle cx="1208.5" cy="1611.6" r="3.75" fill="#ff0000"/>
<circle cx="1220.5" cy="1611.6" r="3.75" fill="#ff0000"/>
<circle cx="1232.5" cy="1611.6" r="3.75" fill="#ff0000"/>
<circle cx="1244.5" cy="1611.6" r="3.75" fill="#ff0000"/>
<circle cx="1256.5" cy="1611.6" r="3.75" fill="#ff0000"/>
<circle cx="1268.5" cy="1611.6" r="3.75" fill="#ff0000"/>
<circle cx="1280.5" cy="1611.6" r="3.75" fill="#ff0000"/>
<circle cx="1292.5" cy="1611.6" r="3.75" fill="#ff0000"/>
<circle cx="1304.5" cy="1611.6" r="3.75" fill="#ff0000"/>
<circle cx="1316.5" cy="1611.6" r="3.75" fill="#ff0000"/>
<circle cx="1328.5" cy="1611.6" r="3.75" fill="#ff0000"/>
<circle cx="1340.5" cy="1611.6" r="3.75" fill="#ff0000"/>
<circle cx="1352.5" cy="1611.6" r="3.75" fill="#ff0000"/>
<circle cx="1364.5" cy="1611.6" r="3.75" fill="#ff0000"/>
<circle cx="1376.5" cy="1611.6" r="3.75" fill="#ff0000"/>
<circle cx="1388.5" cy="1611.6" r="3.75" fill="#ff0000"/>
<circle cx="1400.5" cy="1611.6" r="3.75" fill="#ff0000"/>
<circle cx="1412.5" cy="1611.6" r="3.75" fill="#ff0000"/>
<circle cx="1424.5" cy="1611.6" r="3.75" fill="#ff0000"/>
<circle cx="1436.5" cy="1611.6" r="3.75" fill="#ff0000"/>
<circle cx="1448.5" cy="1611.6" r="3.75" fill="#ff0000"/>
<circle cx="1472.5" cy="1611.6" r="3.75" fill="#00ff00"/>
<circle cx="1484.5" cy="1611.6" r="3.75" fill="#00ff00"/>
<circle cx="1496.5" cy="1611.6" r="3.75" fill="#00ff00"/>
<circle cx="1508.5" cy="1611.6" r="3.75" fill="#00ff00"/>
<circle cx="1520.5" cy="1611.6" r="3.75" fill="#00ff00"/>
<circle cx="1532.5" cy="1611.6" r="3.75" fill="#00ff00"/>
<path d="M1532.5 1607.4v8.4" stroke="#fff" stroke-width="1"/>
<circle cx="1544.5" cy="1611.6" r="3.75" fill="#00ff00"/>
<circle cx="8.5" cy="1629.3" r="3.75" fill="#000000"/>
<circle cx="20.5" cy="1629.3" r="3.75" fill="#000000"/>
<circle cx="32.5" cy="1629.3" r="3.75" fill="#000000"/>
<circle cx="44.5" cy="1629.3" r="3.75" fill="#000000"/>
<circle cx="56.5" cy="1629.3" r="3.75" fill="#000000"/>
<circle cx="68.5" cy="1629.3" r="3.75" fill="#000000"/>
<circle cx="80.5" cy="1629.3" r="3.75" fill="#00ff00"/>
<circle cx="92.5" cy="1629.3" r="3.75" fill="#00ff00"/>
<circle cx="104.5" cy="1629.3" r="3.75" fill="#00ff00"/>
<circle cx="116.5" cy="1629.3" r="3.75" fill="#00ff00"/>
<circle cx="128.5" cy="1629.3" r="3.75" fill="#00ff00"/>
<circle cx="140.5" cy="1629.3" r="3.75" fill="#000000"/>
<circle cx="152.5" cy="1629.3" r="3.75" fill="#000000"/>
<circle cx="164.5" cy="1629.3" r="3.75" fill="#000000"/>
<circle cx="176.5" cy="1629.3" r="3.75" fill="#000000"/>
<circle cx="188.5" cy="1629.3" r="3.75" fill="#000000"/>
<circle cx="200.5" cy="1629.3" r="3.75" fill="#ff0000"/>
<circle cx="212.5" cy="1629.3" r="3.75" fill="#ff0000"/>
<circle cx="224.5" cy="1629.3" r="3.75" fill="#ff0000"/>
<circle cx="236.5" cy="1629.3" r="3.75" fill="#ff0000"/>
<circle cx="248.5" cy="1629.3" r="3.75" fill="#ff0000"/>
<circle cx="260.5" cy="1629.3" r="3.75" fill="#ff0000"/>
<circle cx="272.5" cy="1629.3" r="3.75" fill="#ff0000"/>
<circle cx="284.5" cy="1629.3" r="3.75" fill="#ff0000"/>
<circle cx="296.5" cy="1629.3" r="3.75" fill="#ff0000"/>
<circle cx="308.5" cy="1629.3" r="3.75" fill="#ff0000"/>
<circle cx="320.5" cy="1629.3" r="3.75" fill="#000000"/>
<circle cx="332.5" cy="1629.3" r="3.75" fill="#000000"/>
<circle cx="344.5" cy="1629.3" r="3.75" fill="#000000"/>
<circle cx="356.5" cy="1629.3" r="3.75" fill="#000000"/>
<circle cx="368.5" cy="1629.3" r="3.75" fill="#000000"/>
<circle cx="380.5" cy="1629.3" r="3.75" fill="#000000"/>
<circle cx="392.5" cy="1629.3" r="3.75" fill="#000000"/>
<circle cx="404.5" cy="1629.3" r="3.75" fill="#000000"/>
<circle cx="416.5" cy="1629.3" r="3.75" fill="#000000"/>
<circle cx="428.5" cy="1629.3" r="3.75" fill="#000000"/>
<circle cx="440.5" cy="1629.3" r="3.75" fill="#ff0000"/>
<circle cx="452.5" cy="1629.3" r="3.75" fill="#ff0000"/>
<circle cx="464.5" cy="1629.3" r="3.75" fill="#ff0000"/>
<circle cx="476.5" cy="1629.3" r="3.75" fill="#ff0000"/>
<circle cx="488.5" cy="1629.3" r="3.75" fill="#ff0000"/>
<circle cx="500.5" cy="1629.3" r="3.75" fill="#ff0000"/>
<circle cx="512.5" cy="1629.3" r="3.75" fill="#ff0000"/>
<circle cx="524.5" cy="1629.3" r="3.75" fill="#ff0000"/>
<circle cx="536.5" cy="1629.3" r="3.75" fill="#ff0000"/>
<circle cx="548.5" cy="1629.3" r="3.75" fill="#ff0000"/>
<circle cx="560.5" cy="1629.3" r="3.75" fill="#000000"/>
<circle cx="572.5" cy="1629.3" r="3.75" fill="#000000"/>
<circle cx="584.5" cy="1629.3" r="3.75" fill="#000000"/>
<circle cx="596.5" cy="1629.3" r="3.75" fill="#000000"/>
<circle cx="608.5" cy="1629.3" r="3.75" fill="#000000"/>
<circle cx="620.5" cy="1629.3" r="3.75" fill="#000000"/>
<circle cx="632.5" cy="1629.3" r="3.75" fill="#000000"/>
<circle cx="644.5" cy="1629.3" r="3.75" fill="#000000"/>
<circle cx="656.5" cy="1629.3" r="3.75" fill="#00ff00"/>
<circle cx="668.5" cy="1629.3" r="3.75" fill="#00ff00"/>
<circle cx="680.5" cy="1629.3" r="3.75" fill="#00ff00"/>
<circle cx="692.5" cy="1629.3" r="3.75" fill="#00ff00"/>
<circle cx="704.5" cy="1629.3" r="3.75" fill="#00ff00"/>
<circle cx="716.5" cy="1629.3" r="3.75" fill="#00ff00"/>
<circle cx="728.5" cy="1629.3" r="3.75" fill="#00ff00"/>
<circle cx="740.5" cy="1629.3" r="3.75" fill="#00ff00"/>
<circle cx="752.5" cy="1629.3" r="3.75" fill="#00ff00"/>
<circle cx="764.5" cy="1629.3" r="3.75" fill="#000000"/>
<circle cx="776.5" cy="1629.3" r="3.75" fill="#000000"/>
<circle cx="788.5" cy="1629.3" r="3.75" fill="#000000"/>
<circle cx="800.5" cy="1629.3" r="3.75" fill="#000000"/>
<circle cx="812.5" cy="1629.3" r="3.75" fill="#000000"/>
<circle cx="824.5" cy="1629.3" r="3.75" fill="#000000"/>
<circle cx="836.5" cy="1629.3" r="3.75" fill="#000000"/>
<circle cx="848.5" cy="1629.3" r="3.75" fill="#ff0000"/>
<circle cx="860.5" cy="1629.3" r="3.75" fill="#ff0000"/>
<circle cx="872.5" cy="1629.3" r="3.75" fill="#ff0000"/>
<circle cx="884.5" cy="1629.3" r="3.75" fill="#ff0000"/>
<circle cx="896.5" cy="1629.3" r="3.75" fill="#ff0000"/>
<circle cx="908.5" cy="1629.3" r="3.75" fill="#ff0000"/>
<circle cx="920.5" cy="1629.3" r="3.75" fill="#ff0000"/>
<circle cx="932.5" cy="1629.3" r="3.75" fill="#ff0000"/>
<circle cx="944.5" cy="1629.3" r="3.75" fill="#ff0000"/>
<circle cx="956.5" cy="1629.3" r="3.75" fill="#ff0000"/>
<circle cx="968.5" cy="1629.3" r="3.75" fill="#ff0000"/>
<circle cx="980.5" cy="1629.3" r="3.75" fill="#ff0000"/>
<circle cx="992.5" cy="1629.3" r="3.75" fill="#ff0000"/>
<circle cx="1004.5" cy="1629.3" r="3.75" fill="#000000"/>
<circle cx="1016.5" cy="1629.3" r="3.75" fill="#000000"/>
<circle cx="1028.5" cy="1629.3" r="3.75" fill="#000000"/>
<circle cx="1040.5" cy="1629.3" r="3.75" fill="#000000"/>
<circle cx="1052.5" cy="1629.3" r="3.75" fill="#000000"/>
<circle cx="1064.5" cy="1629.3" r="3.75" fill="#000000"/>
<circle cx="1076.5" cy="1629.3" r="3.75" fill="#00ff00"/>
<circle cx="1088.5" cy="1629.3" r="3.75" fill="#00ff00"/>
<circle cx="1100.5" cy="1629.3" r="3.75" fill="#00ff00"/>
<circle cx="1112.5" cy="1629.3" r="3.75" fill="#00ff00"/>
<circle cx="1124.5" cy="1629.3" r="3.75" fill="#000000"/>
<circle cx="1136.5" cy="1629.3" r="3.75" fill="#ff0000"/>
<circle cx="1148.5" cy="1629.3" r="3.75" fill="#ff0000"/>
<circle cx="1160.5" cy="1629.3" r="3.75" fill="#ff0000"/>
<circle cx="1172.5" cy="1629.3" r="3.75" fill="#ff0000"/>
<circle cx="1184.5" cy="1629.3" r="3.75" fill="#ff0000"/>
<circle cx="1196.5" cy="1629.3" r="3.75" fill="#000000"/>
<circle cx="1208.5" cy="1629.3" r="3.75" fill="#000000"/>
<circle cx="1220.5" cy="1629.3" r="3.75" fill="#00ff00"/>
<circle cx="1232.5" cy="1629.3" r="3.75" fill="#00ff00"/>
<circle cx="1244.5" cy="1629.3" r="3.75" fill="#00ff00"/>
<circle cx="1256.5" cy="1629.3" r="3.75" fill="#00ff00"/>
<circle cx="1268.5" cy="1629.3" r="3.75" fill="#000000"/>
<circle cx="1280.5" cy="1629.3" r="3.75" fill="#ff0000"/>
<circle cx="1292.5" cy="1629.3" r="3.75" fill="#ff0000"/>
<circle cx="1304.5" cy="1629.3" r="3.75" fill="#ff0000"/>
<circle cx="1316.5" cy="1629.3" r="3.75" fill="#ff0000"/>
<circle cx="1328.5" cy="1629.3" r="3.75" fill="#ff0000"/>
<circle cx="1340.5" cy="1629.3" r="3.75" fill="#ff0000"/>
<circle cx="1352.5" cy="1629.3" r="3.75" fill="#ff0000"/>
<circle cx="1364.5" cy="1629.3" r="3.75" fill="#ff0000"/>
<circle cx="1376.5" cy="1629.3" r="3.75" fill="#ff0000"/>
<circle cx="1388.5" cy="1629.3" r="3.75" fill="#ff0000"/>
<circle cx="1400.5" cy="1629.3" r="3.75" fill="#000000"/>
<circle cx="1412.5" cy="1629.3" r="3.75" fill="#000000"/>
<circle cx="1424.5" cy="1629.3" r="3.75" fill="#000000"/>
<circle cx="1436.5" cy="1629.3" r="3.75" fill="#000000"/>
<circle cx="1448.5" cy="1629.3" r="3.75" fill="#000000"/>
<circle cx="1460.5" cy="1629.3" r="3.75" fill="#00ff00"/>
<circle cx="1472.5" cy="1629.3" r="3.75" fill="#00ff00"/>
<circle cx="1484.5" cy="1629.3" r="3.75" fill="#00ff00"/>
<circle cx="1496.5" cy="1629.3" r="3.75" fill="#00ff00"/>
<circle cx="1508.5" cy="1629.3" r="3.75" fill="#00ff00"/>
<circle cx="1520.5" cy="1629.3" r="3.75" fill="#00ff00"/>
<circle cx="1532.5" cy="1629.3" r="3.75" fill="#00ff00"/>
<path d="M1532.5 1625.1v8.4" stroke="#fff" stroke-width="1"/>
<circle cx="1544.5" cy="1629.3" r="3.75" fill="#00ff00"/>
<circle cx="8.5" cy="1648.1" r="3.75" fill="#ff0000"/>
<circle cx="20.5" cy="1648.1" r="3.75" fill="#ff0000"/>
<circle cx="32.5" cy="1648.1" r="3.75" fill="#ff0000"/>
<circle cx="44.5" cy="1648.1" r="3.75" fill="#ff0000"/>
<circle cx="56.5" cy="1648.1" r="3.75" fill="#000000"/>
<circle cx="68.5" cy="1648.1" r="3.75" fill="#000000"/>
<circle cx="80.5" cy="1648.1" r="3.75" fill="#00ff00"/>
<circle cx="92.5" cy="1648.1" r="3.75" fill="#00ff00"/>
<circle cx="104.5" cy="1648.1" r="3.75" fill="#00ff00"/>
<circle cx="116.5" cy="1648.1" r="3.75" fill="#00ff00"/>
<circle cx="128.5" cy="1648.1" r="3.75" fill="#00ff00"/>
<circle cx="140.5" cy="1648.1" r="3.75" fill="#00ff00"/>
<circle cx="152.5" cy="1648.1" r="3.75" fill="#000000"/>
<circle cx="164.5" cy="1648.1" r="3.75" fill="#000000"/>
<circle cx="176.5" cy="1648.1" r="3.75" fill="#000000"/>
<circle cx="188.5" cy="1648.1" r="3.75" fill="#ff0000"/>
<circle cx="200.5" cy="1648.1" r="3.75" fill="#ff0000"/>
<circle cx="212.5" cy="1648.1" r="3.75" fill="#ff0000"/>
<circle cx="224.5" cy="1648.1" r="3.75" fill="#ff0000"/>
<circle cx="236.5" cy="1648.1" r="3.75" fill="#ff0000"/>
<circle cx="248.5" cy="1648.1" r="3.75" fill="#ff0000"/>
<circle cx="260.5" cy="1648.1" r="3.75" fill="#ff0000"/>
<circle cx="272.5" cy="1648.1" r="3.75" fill="#ff0000"/>
<circle cx="284.5" cy="1648.1" r="3.75" fill="#ff0000"/>
<circle cx="296.5" cy="1648.1" r="3.75" fill="#000000"/>
<circle cx="308.5" cy="1648.1" r="3.75" fill="#000000"/>
<circle cx="320.5" cy="1648.1" r="3.75" fill="#000000"/>
<circle cx="332.5" cy="1648.1" r="3.75" fill="#000000"/>
<circle cx="344.5" cy="1648.1" r="3.75" fill="#000000"/>
<circle cx="356.5" cy="1648.1" r="3.75" fill="#000000"/>
<circle cx="368.5" cy="1648.1" r="3.75" fill="#000000"/>
<circle cx="380.5" cy="1648.1" r="3.75" fill="#000000"/>
<circle cx="392.5" cy="1648.1" r="3.75" fill="#000000"/>
<circle cx="404.5" cy="1648.1" r="3.75" fill="#000000"/>
<circle cx="416.5" cy="1648.1" r="3.75" fill="#000000"/>
<circle cx="428.5" cy="1648.1" r="3.75" fill="#000000"/>
<circle cx="440.5" cy="1648.1" r="3.75" fill="#000000"/>
<circle cx="452.5" cy="1648.1" r="3.75" fill="#ff0000"/>
<circle cx="464.5" cy="1648.1" r="3.75" fill="#ff0000"/>
<circle cx="476.5" cy="1648.1" r="3.75" fill="#ff0000"/>
<circle cx="488.5" cy="1648.1" r="3.75" fill="#ff0000"/>
<circle cx="500.5" cy="1648.1" r="3.75" fill="#ff0000"/>
<circle cx="512.5" cy="1648.1" r="3.75" fill="#ff0000"/>
<circle cx="524.5" cy="1648.1" r="3.75" fill="#ff0000"/>
<circle cx="536.5" cy="1648.1" r="3.75" fill="#ff0000"/>
<circle cx="548.5" cy="1648.1" r="3.75" fill="#ff0000"/>
<circle cx="560.5" cy="1648.1" r="3.75" fill="#ff0000"/>
<circle cx="572.5" cy="1648.1" r="3.75" fill="#000000"/>
<circle cx="584.5" cy="1648.1" r="3.75" fill="#000000"/>
<circle cx="596.5" cy="1648.1" r="3.75" fill="#000000"/>
<circle cx="608.5" cy="1648.1" r="3.75" fill="#000000"/>
<circle cx="620.5" cy="1648.1" r="3.75" fill="#000000"/>
<circle cx="632.5" cy="1648.1" r="3.75" fill="#00ff00"/>
<circle cx="644.5" cy="1648.1" r="3.75" fill="#00ff00"/>
<circle cx="656.5" cy="1648.1" r="3.75" fill="#00ff00"/>
<circle cx="668.5" cy="1648.1" r="3.75" fill="#00ff00"/>
<circle cx="680.5" cy="1648.1" r="3.75" fill="#00ff00"/>
<circle cx="692.5" cy="1648.1" r="3.75" fill="#00ff00"/>
<circle cx="704.5" cy="1648.1" r="3.75" fill="#00ff00"/>
<circle cx="716.5" cy="1648.1" r="3.75" fill="#00ff00"/>
<circle cx="728.5" cy="1648.1" r="3.75" fill="#00ff00"/>
<circle cx="740.5" cy="1648.1" r="3.75" fill="#000000"/>
<circle cx="752.5" cy="1648.1" r="3.75" fill="#000000"/>
<circle cx="764.5" cy="1648.1" r="3.75" fill="#000000"/>
<circle cx="776.5" cy="1648.1" r="3.75" fill="#000000"/>
<circle cx="788.5" cy="1648.1" r="3.75" fill="#000000"/>
<circle cx="800.5" cy="1648.1" r="3.75" fill="#000000"/>
<circle cx="812.5" cy="1648.1" r="3.75" fill="#ff0000"/>
<circle cx="824.5" cy="1648.1" r="3.75" fill="#ff0000"/>
<circle cx="836.5" cy="1648.1" r="3.75" fill="#ff0000"/>
<circle cx="848.5" cy="1648.1" r="3.75" fill="#ff0000"/>
<circle cx="860.5" cy="1648.1" r="3.75" fill="#ff0000"/>
<circle cx="872.5" cy="1648.1" r="3.75" fill="#ff0000"/>
<circle cx="884.5" cy="1648.1" r="3.75" fill="#ff0000"/>
<circle cx="896.5" cy="1648.1" r="3.75" fill="#ff0000"/>
<circle cx="908.5" cy="1648.1" r="3.75" fill="#ff0000"/>
<circle cx="920.5" cy="1648.1" r="3.75" fill="#ff0000"/>
<circle cx="932.5" cy="1648.1" r="3.75" fill="#ff0000"/>
<circle cx="944.5" cy="1648.1" r="3.75" fill="#ff0000"/>
<circle cx="956.5" cy="1648.1" r="3.75" fill="#ff0000"/>
<circle cx="968.5" cy="1648.1" r="3.75" fill="#ff0000"/>
<circle cx="980.5" cy="1648.1" r="3.75" fill="#000000"/>
<circle cx="992.5" cy="1648.1" r="3.75" fill="#000000"/>
<circle cx="1004.5" cy="1648.1" r="3.75" fill="#000000"/>
<circle cx="1016.5" cy="1648.1" r="3.75" fill="#000000"/>
<circle cx="1028.5" cy="1648.1" r="3.75" fill="#000000"/>
<circle cx="1040.5" cy="1648.1" r="3.75" fill="#00ff00"/>
<circle cx="1052.5" cy="1648.1" r="3.75" fill="#00ff00"/>
<circle cx="1064.5" cy="1648.1" r="3.75" fill="#00ff00"/>
<circle cx="1076.5" cy="1648.1" r="3.75" fill="#00ff00"/>
<circle cx="1088.5" cy="1648.1" r="3.75" fill="#00ff00"/>
<circle cx="1100.5" cy="1648.1" r="3.75" fill="#00ff00"/>
<circle cx="1112.5" cy="1648.1" r="3.75" fill="#000000"/>
<circle cx="1124.5" cy="1648.1" r="3.75" fill="#000000"/>
<circle cx="1136.5" cy="1648.1" r="3.75" fill="#000000"/>
<circle cx="1148.5" cy="1648.1" r="3.75" fill="#000000"/>
<circle cx="1160.5" cy="1648.1" r="3.75" fill="#ff0000"/>
<circle cx="1172.5" cy="1648.1" r="3.75" fill="#ff0000"/>
<circle cx="1184.5" cy="1648.1" r="3.75" fill="#ff0000"/>
<circle cx="1196.5" cy="1648.1" r="3.75" fill="#ff0000"/>
<circle cx="1208.5" cy="1648.1" r="3.75" fill="#ff0000"/>
<circle cx="1220.5" cy="1648.1" r="3.75" fill="#000000"/>
<circle cx="1232.5" cy="1648.1" r="3.75" fill="#00ff00"/>
<circle cx="1244.5" cy="1648.1" r="3.75" fill="#00ff00"/>
<circle cx="1256.5" cy="1648.1" r="3.75" fill="#00ff00"/>
<circle cx="1268.5" cy="1648.1" r="3.75" fill="#ff0000"/>
<circle cx="1280.5" cy="1648.1" r="3.75" fill="#ff0000"/>
<circle cx="1292.5" cy="1648.1" r="3.75" fill="#ff0000"/>
<circle cx="1304.5" cy="1648.1" r="3.75" fill="#ff0000"/>
<circle cx="1316.5" cy="1648.1" r="3.75" fill="#ff0000"/>
<circle cx="1328.5" cy="1648.1" r="3.75" fill="#ff0000"/>
<circle cx="1340.5" cy="1648.1" r="3.75" fill="#ff0000"/>
<circle cx="1352.5" cy="1648.1" r="3.75" fill="#ff0000"/>
<circle cx="1364.5" cy="1648.1" r="3.75" fill="#ff0000"/>
<circle cx="1376.5" cy="1648.1" r="3.75" fill="#ff0000"/>
<circle cx="1388.5" cy="1648.1" r="3.75" fill="#000000"/>
<circle cx="1400.5" cy="1648.1" r="3.75" fill="#000000"/>
<circle cx="1412.5" cy="1648.1" r="3.75" fill="#000000"/>
<circle cx="1424.5" cy="1648.1" r="3.75" fill="#00ff00"/>
<circle cx="1436.5" cy="1648.1" r="3.75" fill="#00ff00"/>
<circle cx="1448.5" cy="1648.1" r="3.75" fill="#00ff00"/>
<circle cx="1460.5" cy="1648.1" r="3.75" fill="#00ff00"/>
<circle cx="1472.5" cy="1648.1" r="3.75" fill="#00ff00"/>
<circle cx="1484.5" cy="1648.1" r="3.75" fill="#00ff00"/>
<circle cx="1496.5" cy="1648.1" r="3.75" fill="#00ff00"/>
<circle cx="1508.5" cy="1648.1" r="3.75" fill="#00ff00"/>
<circle cx="1520.5" cy="1648.1" r="3.75" fill="#00ff00"/>
<circle cx="1532.5" cy="1648.1" r="3.75" fill="#00ff00"/>
<path d="M1532.5 1643.9v8.4" stroke="#fff" stroke-width="1"/>
<circle cx="1544.5" cy="1648.1" r="3.75" fill="#000000"/>
<circle cx="8.5" cy="1666.6" r="3.75" fill="#00ff00"/>
<circle cx="20.5" cy="1666.6" r="3.75" fill="#00ff00"/>
<circle cx="32.5" cy="1666.6" r="3.75" fill="#00ff00"/>
<circle cx="44.5" cy="1666.6" r="3.75" fill="#00ff00"/>
<circle cx="56.5" cy="1666.6" r="3.75" fill="#00ff00"/>
<circle cx="68.5" cy="1666.6" r="3.75" fill="#00ff00"/>
<circle cx="80.5" cy="1666.6" r="3.75" fill="#00ff00"/>
<circle cx="92.5" cy="1666.6" r="3.75" fill="#00ff00"/>
<circle cx="104.5" cy="1666.6" r="3.75" fill="#00ff00"/>
<circle cx="116.5" cy="1666.6" r="3.75" fill="#00ff00"/>
<circle cx="128.5" cy="1666.6" r="3.75" fill="#00ff00"/>
<circle cx="140.5" cy="1666.6" r="3.75" fill="#00ff00"/>
<circle cx="152.5" cy="1666.6" r="3.75" fill="#00ff00"/>
<circle cx="164.5" cy="1666.6" r="3.75" fill="#00ff00"/>
<circle cx="176.5" cy="1666.6" r="3.75" fill="#00ff00"/>
<circle cx="188.5" cy="1666.6" r="3.75" fill="#00ff00"/>
<circle cx="200.5" cy="1666.6" r="3.75" fill="#000000"/>
<circle cx="212.5" cy="1666.6" r="3.75" fill="#000000"/>
<circle cx="224.5" cy="1666.6" r="3.75" fill="#ff0000"/>
<circle cx="236.5" cy="1666.6" r="3.75" fill="#ff0000"/>
<circle cx="248.5" cy="1666.6" r="3.75" fill="#ff0000"/>
<circle cx="260.5" cy="1666.6" r="3.75" fill="#ff0000"/>
<circle cx="272.5" cy="1666.6" r="3.75" fill="#ff0000"/>
<circle cx="284.5" cy="1666.6" r="3.75" fill="#ff0000"/>
<circle cx="296.5" cy="1666.6" r="3.75" fill="#ff0000"/>
<circle cx="308.5" cy="1666.6" r="3.75" fill="#ff0000"/>
<circle cx="320.5" cy="1666.6" r="3.75" fill="#ff0000"/>
<circle cx="332.5" cy="1666.6" r="3.75" fill="#ff0000"/>
<circle cx="344.5" cy="1666.6" r="3.75" fill="#ff0000"/>
<circle cx="356.5" cy="1666.6" r="3.75" fill="#ff0000"/>
<circle cx="368.5" cy="1666.6" r="3.75" fill="#ff0000"/>
<circle cx="380.5" cy="1666.6" r="3.75" fill="#ff0000"/>
<circle cx="392.5" cy="1666.6" r="3.75" fill="#ff0000"/>
<circle cx="404.5" cy="1666.6" r="3.75" fill="#ff0000"/>
<circle cx="416.5" cy="1666.6" r="3.75" fill="#ff0000"/>
<circle cx="428.5" cy="1666.6" r="3.75" fill="#ff0000"/>
<circle cx="440.5" cy="1666.6" r="3.75" fill="#ff0000"/>
<circle cx="452.5" cy="1666.6" r="3.75" fill="#ff0000"/>
<circle cx="464.5" cy="1666.6" r="3.75" fill="#ff0000"/>
<circle cx="476.5" cy="1666.6" r="3.75" fill="#ff0000"/>
<circle cx="488.5" cy="1666.6" r="3.75" fill="#ff0000"/>
<circle cx="500.5" cy="1666.6" r="3.75" fill="#ff0000"/>
<circle cx="512.5" cy="1666.6" r="3.75" fill="#ff0000"/>
<circle cx="524.5" cy="1666.6" r="3.75" fill="#ff0000"/>
<circle cx="536.5" cy="1666.6" r="3.75" fill="#ff0000"/>
<circle cx="548.5" cy="1666.6" r="3.75" fill="#ff0000"/>
<circle cx="560.5" cy="1666.6" r="3.75" fill="#ff0000"/>
<circle cx="572.5" cy="1666.6" r="3.75" fill="#ff0000"/>
<circle cx="584.5" cy="1666.6" r="3.75" fill="#ff0000"/>
<circle cx="596.5" cy="1666.6" r="3.75" fill="#ff0000"/>
<circle cx="608.5" cy="1666.6" r="3.75" fill="#ff0000"/>
<circle cx="620.5" cy="1666.6" r="3.75" fill="#ff0000"/>
<circle cx="632.5" cy="1666.6" r="3.75" fill="#ff0000"/>
<circle cx="644.5" cy="1666.6" r="3.75" fill="#ff0000"/>
<circle cx="656.5" cy="1666.6" r="3.75" fill="#ffff00"/>
<circle cx="668.5" cy="1666.6" r="3.75" fill="#ffff00"/>
<circle cx="680.5" cy="1666.6" r="3.75" fill="#ffff00"/>
<circle cx="692.5" cy="1666.6" r="3.75" fill="#00ff00"/>
<circle cx="704.5" cy="1666.6" r="3.75" fill="#00ff00"/>
<circle cx="716.5" cy="1666.6" r="3.75" fill="#00ff00"/>
<circle cx="728.5" cy="1666.6" r="3.75" fill="#00ff00"/>
<circle cx="740.5" cy="1666.6" r="3.75" fill="#00ff00"/>
<circle cx="752.5" cy="1666.6" r="3.75" fill="#00ff00"/>
<circle cx="764.5" cy="1666.6" r="3.75" fill="#00ff00"/>
<circle cx="776.5" cy="1666.6" r="3.75" fill="#00ff00"/>
<circle cx="788.5" cy="1666.6" r="3.75" fill="#00ff00"/>
<circle cx="800.5" cy="1666.6" r="3.75" fill="#00ff00"/>
<circle cx="812.5" cy="1666.6" r="3.75" fill="#00ff00"/>
<circle cx="824.5" cy="1666.6" r="3.75" fill="#00ff00"/>
<circle cx="836.5" cy="1666.6" r="3.75" fill="#00ff00"/>
<circle cx="848.5" cy="1666.6" r="3.75" fill="#000000"/>
<circle cx="860.5" cy="1666.6" r="3.75" fill="#000000"/>
<circle cx="872.5" cy="1666.6" r="3.75" fill="#ff0000"/>
<circle cx="884.5" cy="1666.6" r="3.75" fill="#ff0000"/>
<circle cx="896.5" cy="1666.6" r="3.75" fill="#ff0000"/>
<circle cx="908.5" cy="1666.6" r="3.75" fill="#ff0000"/>
<circle cx="920.5" cy="1666.6" r="3.75" fill="#ff0000"/>
<circle cx="932.5" cy="1666.6" r="3.75" fill="#ff0000"/>
<circle cx="944.5" cy="1666.6" r="3.75" fill="#ff0000"/>
<circle cx="956.5" cy="1666.6" r="3.75" fill="#ff0000"/>
<circle cx="968.5" cy="1666.6" r="3.75" fill="#ff0000"/>
<circle cx="980.5" cy="1666.6" r="3.75" fill="#ff0000"/>
<circle cx="992.5" cy="1666.6" r="3.75" fill="#ff0000"/>
<circle cx="1004.5" cy="1666.6" r="3.75" fill="#ff0000"/>
<circle cx="1016.5" cy="1666.6" r="3.75" fill="#ff0000"/>
<circle cx="1028.5" cy="1666.6" r="3.75" fill="#ff0000"/>
<circle cx="1040.5" cy="1666.6" r="3.75" fill="#ff0000"/>
<circle cx="1052.5" cy="1666.6" r="3.75" fill="#ff0000"/>
<circle cx="1064.5" cy="1666.6" r="3.75" fill="#ff0000"/>
<circle cx="1076.5" cy="1666.6" r="3.75" fill="#ffff00"/>
<circle cx="1088.5" cy="1666.6" r="3.75" fill="#ffff00"/>
<circle cx="1100.5" cy="1666.6" r="3.75" fill="#ffff00"/>
<circle cx="1112.5" cy="1666.6" r="3.75" fill="#ffff00"/>
<circle cx="1124.5" cy="1666.6" r="3.75" fill="#ffff00"/>
<circle cx="1136.5" cy="1666.6" r="3.75" fill="#ffff00"/>
<circle cx="1148.5" cy="1666.6" r="3.75" fill="#ff0000"/>
<circle cx="1160.5" cy="1666.6" r="3.75" fill="#ff0000"/>
<circle cx="1172.5" cy="1666.6" r="3.75" fill="#ff0000"/>
<circle cx="1184.5" cy="1666.6" r="3.75" fill="#ff0000"/>
<circle cx="1196.5" cy="1666.6" r="3.75" fill="#ff0000"/>
<circle cx="1208.5" cy="1666.6" r="3.75" fill="#ff0000"/>
<circle cx="1220.5" cy="1666.6" r="3.75" fill="#ffff00"/>
<circle cx="1232.5" cy="1666.6" r="3.75" fill="#00ff00"/>
<circle cx="1244.5" cy="1666.6" r="3.75" fill="#00ff00"/>
<circle cx="1256.5" cy="1666.6" r="3.75" fill="#00ff00"/>
<circle cx="1268.5" cy="1666.6" r="3.75" fill="#00ff00"/>
<circle cx="1280.5" cy="1666.6" r="3.75" fill="#000000"/>
<circle cx="1292.5" cy="1666.6" r="3.75" fill="#ff0000"/>
<circle cx="1304.5" cy="1666.6" r="3.75" fill="#ff0000"/>
<circle cx="1316.5" cy="1666.6" r="3.75" fill="#ff0000"/>
<circle cx="1328.5" cy="1666.6" r="3.75" fill="#ff0000"/>
<circle cx="1340.5" cy="1666.6" r="3.75" fill="#ff0000"/>
<circle cx="1352.5" cy="1666.6" r="3.75" fill="#ff0000"/>
<circle cx="1364.5" cy="1666.6" r="3.75" fill="#ff0000"/>
<circle cx="1376.5" cy="1666.6" r="3.75" fill="#ff0000"/>
<circle cx="1388.5" cy="1666.6" r="3.75" fill="#ff0000"/>
<circle cx="1400.5" cy="1666.6" r="3.75" fill="#ff0000"/>
<circle cx="1412.5" cy="1666.6" r="3.75" fill="#ff0000"/>
<circle cx="1424.5" cy="1666.6" r="3.75" fill="#ff0000"/>
<circle cx="1436.5" cy="1666.6" r="3.75" fill="#ff0000"/>
<circle cx="1448.5" cy="1666.6" r="3.75" fill="#ff0000"/>
<circle cx="1460.5" cy="1666.6" r="3.75" fill="#ffff00"/>
<circle cx="1472.5" cy="1666.6" r="3.75" fill="#00ff00"/>
<circle cx="1484.5" cy="1666.6" r="3.75" fill="#00ff00"/>
<circle cx="1496.5" cy="1666.6" r="3.75" fill="#00ff00"/>
<circle cx="1508.5" cy="1666.6" r="3.75" fill="#00ff00"/>
<circle cx="1520.5" cy="1666.6" r="3.75" fill="#00ff00"/>
<circle cx="1532.5" cy="1666.6" r="3.75" fill="#00ff00"/>
<path d="M1532.5 1662.4v8.4" stroke="#fff" stroke-width="1"/>
<circle cx="1544.5" cy="1666.6" r="3.75" fill="#00ff00"/>
<path d="M2 1729.4H1544.5" stroke="#66ee66" stroke-width="1" stroke-dasharray="4 4"/>
<path d="M2 1749.4H1544.5" stroke="#66ee66" stroke-width="1" stroke-dasharray="4 4"/>
<path d="M2 1769.4H1544.5" stroke="#66ee66" stroke-width="1" stroke-dasharray="4 4"/>
<path d="M2 1809.4H1544.5" stroke="#ff9a40" stroke-width="1" stroke-dasharray="4 4"/>
<path d="M2 1829.4H1544.5" stroke="#ff9a40" stroke-width="1" stroke-dasharray="4 4"/>
<path d="M2 1849.4H1544.5" stroke="#ff9a40" stroke-width="1" stroke-dasharray="4 4"/>
<path d="M2 1709.4H1533.5M1536.5 1709.4H1544.5" stroke="#00ff00" stroke-width="1.4"/>
<path d="M2 1869.4H1533.5M1536.5 1869.4H1544.5" stroke="#ff0000" stroke-width="1.4"/>
<circle cx="380.5" cy="1709.4" r="5.7" fill="#000"/>
<circle cx="488.5" cy="1709.4" r="5.7" fill="#000"/>
<circle cx="8.5" cy="1729.4" r="5.7" fill="#ffb6c1"/>
<circle cx="56.5" cy="1729.4" r="5.7" fill="#ffb6c1"/>
<circle cx="248.5" cy="1729.4" r="5.7" fill="#ffb6c1"/>
<circle cx="536.5" cy="1729.4" r="5.7" fill="#ffb6c1"/>
<circle cx="80.5" cy="1729.4" r="3.6" fill="#00ff00"/>
<circle cx="320.5" cy="1729.4" r="3.6" fill="#00ff00"/>
<circle cx="548.5" cy="1729.4" r="3.6" fill="#00ff00"/>
<circle cx="644.5" cy="1729.4" r="5.7" fill="#008000"/>
<circle cx="884.5" cy="1729.4" r="5.7" fill="#ffb6c1"/>
<circle cx="980.5" cy="1729.4" r="5.7" fill="#ffb6c1"/>
<circle cx="1004.5" cy="1729.4" r="3.6" fill="#00ff00"/>
<circle cx="1184.5" cy="1729.4" r="5.7" fill="#ffb6c1"/>
<circle cx="1196.5" cy="1729.4" r="3.6" fill="#00ff00"/>
<circle cx="1364.5" cy="1729.4" r="5.7" fill="#ffb6c1"/>
<circle cx="1388.5" cy="1729.4" r="3.6" fill="#00ff00"/>
<circle cx="1472.5" cy="1729.4" r="5.7" fill="#008000"/>
<circle cx="80.5" cy="1749.4" r="5.7" fill="#0000ff"/>
<circle cx="104.5" cy="1749.4" r="5.7" fill="#0000ff"/>
<circle cx="308.5" cy="1749.4" r="5.7" fill="#0000ff"/>
<circle cx="332.5" cy="1749.4" r="5.7" fill="#0000ff"/>
<circle cx="344.5" cy="1749.4" r="4.9" fill="#c0c0c0" stroke="#0000ff" stroke-width="1.7"/>
<circle cx="560.5" cy="1749.4" r="5.7" fill="#0000ff"/>
<circle cx="596.5" cy="1749.4" r="4.9" fill="#c0c0c0" stroke="#0000ff" stroke-width="1.7"/>
<circle cx="644.5" cy="1749.4" r="5.7" fill="#0000ff"/>
<circle cx="1004.5" cy="1749.4" r="5.7" fill="#0000ff"/>
<circle cx="1028.5" cy="1749.4" r="5.7" fill="#0000ff"/>
<circle cx="1040.5" cy="1749.4" r="4.9" fill="#c0c0c0" stroke="#0000ff" stroke-width="1.7"/>
<circle cx="1052.5" cy="1749.4" r="5.7" fill="#0000ff"/>
<circle cx="1196.5" cy="1749.4" r="5.7" fill="#0000ff"/>
<path d="M1228.9 1749.4L1232.5 1746L1236.1 1749.4L1232.5 1752.8Z" fill="#b4b4b4"/>
<circle cx="1400.5" cy="1749.4" r="5.7" fill="#0000ff"/>
<circle cx="1424.5" cy="1749.4" r="4.9" fill="#c0c0c0" stroke="#0000ff" stroke-width="1.7"/>
<circle cx="1472.5" cy="1749.4" r="5.7" fill="#0000ff"/>
<circle cx="1484.5" cy="1749.4" r="5.7" fill="#0000ff"/>
<circle cx="56.5" cy="1769.4" r="5.7" fill="#00ff00"/>
<circle cx="68.5" cy="1769.4" r="5.7" fill="#ff00ff"/>
<circle cx="320.5" cy="1769.4" r="5.7" fill="#00ffff"/>
<circle cx="404.5" cy="1769.4" r="5.7" fill="#00ffff"/>
<circle cx="572.5" cy="1769.4" r="5.7" fill="#00ffff"/>
<circle cx="620.5" cy="1769.4" r="5.7" fill="#00ff00"/>
<circle cx="656.5" cy="1769.4" r="5.7" fill="#0000ff"/>
<circle cx="788.5" cy="1769.4" r="5.7" fill="#ff00ff"/>
<circle cx="1016.5" cy="1769.4" r="5.7" fill="#00ffff"/>
<circle cx="1076.5" cy="1769.4" r="5.7" fill="#0000ff"/>
<circle cx="1208.5" cy="1769.4" r="5.7" fill="#00ffff"/>
<circle cx="1220.5" cy="1769.4" r="5.7" fill="#0000ff"/>
<circle cx="1400.5" cy="1769.4" r="5.7" fill="#00ffff"/>
<circle cx="1460.5" cy="1769.4" r="5.7" fill="#0000ff"/>
<circle cx="80.5" cy="1789.4" r="5.7" fill="#ff0000"/>
<circle cx="128.5" cy="1789.4" r="5.7" fill="#ffd700"/>
<circle cx="236.5" cy="1789.4" r="5.7" fill="#008000"/>
<circle cx="284.5" cy="1789.4" r="5.7" fill="#008000"/>
<circle cx="296.5" cy="1789.4" r="5.7" fill="#ffd700"/>
<circle cx="380.5" cy="1789.4" r="5.7" fill="#ffd700"/>
<circle cx="464.5" cy="1789.4" r="5.7" fill="#008000"/>
<circle cx="488.5" cy="1789.4" r="5.7" fill="#ffd700"/>
<circle cx="536.5" cy="1789.4" r="5.7" fill="#008000"/>
<circle cx="548.5" cy="1789.4" r="5.7" fill="#ffd700"/>
<circle cx="656.5" cy="1789.4" r="5.7" fill="#ff0000"/>
<circle cx="704.5" cy="1789.4" r="4.6" fill="#00ffff" stroke="#ff0000" stroke-width="2.2"/>
<circle cx="740.5" cy="1789.4" r="5.7" fill="#ffd700"/>
<circle cx="800.5" cy="1789.4" r="5.7" fill="#ffd700"/>
<circle cx="968.5" cy="1789.4" r="4.6" fill="#00ffff" stroke="#008000" stroke-width="2.2"/>
<circle cx="992.5" cy="1789.4" r="5.7" fill="#ffd700"/>
<circle cx="1076.5" cy="1789.4" r="4.6" fill="#00ffff" stroke="#ff0000" stroke-width="2.2"/>
<circle cx="1112.5" cy="1789.4" r="5.7" fill="#ffd700"/>
<circle cx="1172.5" cy="1789.4" r="5.7" fill="#008000"/>
<circle cx="1184.5" cy="1789.4" r="5.7" fill="#ffd700"/>
<circle cx="1220.5" cy="1789.4" r="5.7" fill="#ff0000"/>
<circle cx="1256.5" cy="1789.4" r="5.7" fill="#ffd700"/>
<circle cx="1364.5" cy="1789.4" r="5.7" fill="#008000"/>
<circle cx="1376.5" cy="1789.4" r="5.7" fill="#ffd700"/>
<circle cx="1484.5" cy="1789.4" r="5.7" fill="#ff0000"/>
<circle cx="1544.5" cy="1789.4" r="5.7" fill="#ffd700"/>
<circle cx="152.5" cy="1809.4" r="5.7" fill="#00ffff"/>
<circle cx="200.5" cy="1809.4" r="5.7" fill="#0000ff"/>
<circle cx="260.5" cy="1809.4" r="5.7" fill="#ff0000"/>
<circle cx="356.5" cy="1809.4" r="5.7" fill="#ff00ff"/>
<circle cx="428.5" cy="1809.4" r="5.7" fill="#ff00ff"/>
<circle cx="464.5" cy="1809.4" r="5.7" fill="#ff0000"/>
<circle cx="500.5" cy="1809.4" r="5.7" fill="#ff00ff"/>
<circle cx="524.5" cy="1809.4" r="5.7" fill="#ff0000"/>
<circle cx="764.5" cy="1809.4" r="5.7" fill="#00ffff"/>
<circle cx="824.5" cy="1809.4" r="5.7" fill="#00ffff"/>
<circle cx="860.5" cy="1809.4" r="5.7" fill="#0000ff"/>
<circle cx="1124.5" cy="1809.4" r="5.7" fill="#0000ff"/>
<circle cx="1280.5" cy="1809.4" r="5.7" fill="#0000ff"/>
<circle cx="140.5" cy="1829.4" r="5.7" fill="#0000ff"/>
<circle cx="152.5" cy="1829.4" r="5.7" fill="#0000ff"/>
<circle cx="176.5" cy="1829.4" r="4.9" fill="#c0c0c0" stroke="#0000ff" stroke-width="1.7"/>
<circle cx="188.5" cy="1829.4" r="5.7" fill="#0000ff"/>
<circle cx="200.5" cy="1829.4" r="5.7" fill="#0000ff"/>
<circle cx="440.5" cy="1829.4" r="5.7" fill="#0000ff"/>
<circle cx="452.5" cy="1829.4" r="5.7" fill="#0000ff"/>
<circle cx="464.5" cy="1829.4" r="5.7" fill="#0000ff"/>
<circle cx="476.5" cy="1829.4" r="4.9" fill="#c0c0c0" stroke="#0000ff" stroke-width="1.7"/>
<circle cx="764.5" cy="1829.4" r="5.7" fill="#0000ff"/>
<circle cx="824.5" cy="1829.4" r="5.7" fill="#0000ff"/>
<circle cx="848.5" cy="1829.4" r="5.7" fill="#0000ff"/>
<circle cx="908.5" cy="1829.4" r="5.7" fill="#0000ff"/>
<circle cx="920.5" cy="1829.4" r="5.7" fill="#0000ff"/>
<circle cx="932.5" cy="1829.4" r="5.7" fill="#0000ff"/>
<circle cx="944.5" cy="1829.4" r="4.9" fill="#c0c0c0" stroke="#0000ff" stroke-width="1.7"/>
<circle cx="1124.5" cy="1829.4" r="5.7" fill="#0000ff"/>
<circle cx="1148.5" cy="1829.4" r="5.7" fill="#0000ff"/>
<circle cx="1268.5" cy="1829.4" r="5.7" fill="#0000ff"/>
<circle cx="1280.5" cy="1829.4" r="5.7" fill="#0000ff"/>
<circle cx="1292.5" cy="1829.4" r="5.7" fill="#0000ff"/>
<circle cx="1304.5" cy="1829.4" r="4.9" fill="#c0c0c0" stroke="#0000ff" stroke-width="1.7"/>
<circle cx="1316.5" cy="1829.4" r="5.7" fill="#0000ff"/>
<circle cx="1328.5" cy="1829.4" r="5.7" fill="#0000ff"/>
<circle cx="140.5" cy="1849.4" r="3.6" fill="#ff0000"/>
<circle cx="380.5" cy="1849.4" r="5.7" fill="#ffb6c1"/>
<circle cx="428.5" cy="1849.4" r="3.6" fill="#ff0000"/>
<circle cx="440.5" cy="1849.4" r="5.7" fill="#008000"/>
<circle cx="704.5" cy="1849.4" r="5.7" fill="#ffb6c1"/>
<circle cx="752.5" cy="1849.4" r="3.6" fill="#ff0000"/>
<circle cx="824.5" cy="1849.4" r="5.7" fill="#008000"/>
<circle cx="908.5" cy="1849.4" r="5.7" fill="#008000"/>
<circle cx="1112.5" cy="1849.4" r="5.7" fill="#ffb6c1"/>
<circle cx="1124.5" cy="1849.4" r="3.6" fill="#ff0000"/>
<circle cx="1268.5" cy="1849.4" r="3.6" fill="#ff0000"/>
<circle cx="1520.5" cy="1849.4" r="5.7" fill="#ffb6c1"/>
<circle cx="128.5" cy="1869.4" r="5.7" fill="#000"/>
<circle cx="800.5" cy="1869.4" r="5.7" fill="#000"/>
<path d="M337.5 1749.4H339.5" stroke="#0000ff" stroke-width="1.4"/>
<path d="M1033.5 1749.4H1035.5" stroke="#0000ff" stroke-width="1.4"/>
<path d="M1045.5 1749.4H1047.5" stroke="#0000ff" stroke-width="1.4"/>
<path d="M1477.5 1749.4H1479.5" stroke="#0000ff" stroke-width="1.4"/>
<path d="M145.5 1829.4H147.5" stroke="#0000ff" stroke-width="1.4"/>
<path d="M181.5 1829.4H183.5" stroke="#0000ff" stroke-width="1.4"/>
<path d="M193.5 1829.4H195.5" stroke="#0000ff" stroke-width="1.4"/>
<path d="M445.5 1829.4H447.5" stroke="#0000ff" stroke-width="1.4"/>
<path d="M457.5 1829.4H459.5" stroke="#0000ff" stroke-width="1.4"/>
<path d="M469.5 1829.4H471.5" stroke="#0000ff" stroke-width="1.4"/>
<path d="M913.5 1829.4H915.5" stroke="#0000ff" stroke-width="1.4"/>
<path d="M925.5 1829.4H927.5" stroke="#0000ff" stroke-width="1.4"/>
<path d="M937.5 1829.4H939.5" stroke="#0000ff" stroke-width="1.4"/>
<path d="M1273.5 1829.4H1275.5" stroke="#0000ff" stroke-width="1.4"/>
<path d="M1285.5 1829.4H1287.5" stroke="#0000ff" stroke-width="1.4"/>
<path d="M1297.5 1829.4H1299.5" stroke="#0000ff" stroke-width="1.4"/>
<path d="M1309.5 1829.4H1311.5" stroke="#0000ff" stroke-width="1.4"/>
<path d="M1321.5 1829.4H1323.5" stroke="#0000ff" stroke-width="1.4"/>
<path d="M8.5 1709.4V1789.4M20.5 1709.4V1789.4M32.5 1709.4V1789.4M44.5 1709.4V1789.4M56.5 1709.4V1789.4M68.5 1709.4V1789.4M80.5 1709.4V1789.4M92.5 1709.4V1789.4M104.5 1709.4V1789.4M116.5 1709.4V1789.4M128.5 1709.4V1789.4M140.5 1709.4V1789.4M152.5 1709.4V1789.4M164.5 1709.4V1789.4M176.5 1709.4V1789.4M188.5 1709.4V1789.4M200.5 1709.4V1789.4M212.5 1709.4V1789.4M224.5 1709.4V1789.4M236.5 1709.4V1789.4M248.5 1709.4V1789.4M260.5 1709.4V1789.4M272.5 1709.4V1789.4M284.5 1709.4V1789.4M296.5 1709.4V1789.4M308.5 1709.4V1789.4M320.5 1709.4V1789.4M332.5 1709.4V1789.4M344.5 1709.4V1789.4M356.5 1709.4V1789.4M368.5 1709.4V1789.4M380.5 1709.4V1789.4M392.5 1709.4V1789.4M404.5 1709.4V1789.4M416.5 1709.4V1789.4M428.5 1709.4V1789.4M440.5 1709.4V1789.4M452.5 1709.4V1789.4M464.5 1709.4V1789.4M476.5 1709.4V1789.4M488.5 1709.4V1789.4M500.5 1709.4V1789.4M512.5 1709.4V1789.4M524.5 1709.4V1789.4M536.5 1709.4V1789.4M548.5 1709.4V1789.4M560.5 1709.4V1789.4M572.5 1709.4V1789.4M584.5 1709.4V1789.4M596.5 1709.4V1789.4M608.5 1709.4V1789.4M620.5 1709.4V1789.4M632.5 1709.4V1789.4M644.5 1709.4V1789.4M656.5 1709.4V1789.4M668.5 1709.4V1789.4M680.5 1709.4V1789.4M692.5 1709.4V1789.4M704.5 1709.4V1789.4M716.5 1709.4V1789.4M728.5 1709.4V1789.4M740.5 1709.4V1789.4M752.5 1709.4V1789.4M764.5 1709.4V1789.4M776.5 1709.4V1789.4M788.5 1709.4V1789.4M800.5 1709.4V1789.4M812.5 1709.4V1789.4M824.5 1709.4V1789.4M836.5 1709.4V1789.4M848.5 1709.4V1789.4M860.5 1709.4V1789.4M872.5 1709.4V1789.4M884.5 1709.4V1789.4M896.5 1709.4V1789.4M908.5 1709.4V1789.4M920.5 1709.4V1789.4M932.5 1709.4V1789.4M944.5 1709.4V1789.4M956.5 1709.4V1789.4M968.5 1709.4V1789.4M980.5 1709.4V1789.4M992.5 1709.4V1789.4M1004.5 1709.4V1789.4M1016.5 1709.4V1789.4M1028.5 1709.4V1789.4M1040.5 1709.4V1789.4M1052.5 1709.4V1789.4M1064.5 1709.4V1789.4M1076.5 1709.4V1789.4M1088.5 1709.4V1789.4M1100.5 1709.4V1789.4M1112.5 1709.4V1789.4M1124.5 1709.4V1789.4M1136.5 1709.4V1789.4M1148.5 1709.4V1789.4M1160.5 1709.4V1789.4M1172.5 1709.4V1789.4M1184.5 1709.4V1789.4M1196.5 1709.4V1789.4M1208.5 1709.4V1789.4M1220.5 1709.4V1789.4M1232.5 1709.4V1789.4M1244.5 1709.4V1789.4M1256.5 1709.4V1789.4M1268.5 1709.4V1789.4M1280.5 1709.4V1789.4M1292.5 1709.4V1789.4M1304.5 1709.4V1789.4M1316.5 1709.4V1789.4M1328.5 1709.4V1789.4M1340.5 1709.4V1789.4M1352.5 1709.4V1789.4M1364.5 1709.4V1789.4M1376.5 1709.4V1789.4M1388.5 1709.4V1789.4M1400.5 1709.4V1789.4M1412.5 1709.4V1789.4M1424.5 1709.4V1789.4M1436.5 1709.4V1789.4M1448.5 1709.4V1789.4M1460.5 1709.4V1789.4M1472.5 1709.4V1789.4M1484.5 1709.4V1789.4M1496.5 1709.4V1789.4M1508.5 1709.4V1789.4M1520.5 1709.4V1789.4M1532.5 1709.4V1789.4M1544.5 1709.4V1789.4" stroke="#7ff07f" stroke-width="1" stroke-dasharray="1 1" shape-rendering="crispEdges"/>
<path d="M8.5 1789.4V1869.4M20.5 1789.4V1869.4M32.5 1789.4V1869.4M44.5 1789.4V1869.4M56.5 1789.4V1869.4M68.5 1789.4V1869.4M80.5 1789.4V1869.4M92.5 1789.4V1869.4M104.5 1789.4V1869.4M116.5 1789.4V1869.4M128.5 1789.4V1869.4M140.5 1789.4V1869.4M152.5 1789.4V1869.4M164.5 1789.4V1869.4M176.5 1789.4V1869.4M188.5 1789.4V1869.4M200.5 1789.4V1869.4M212.5 1789.4V1869.4M224.5 1789.4V1869.4M236.5 1789.4V1869.4M248.5 1789.4V1869.4M260.5 1789.4V1869.4M272.5 1789.4V1869.4M284.5 1789.4V1869.4M296.5 1789.4V1869.4M308.5 1789.4V1869.4M320.5 1789.4V1869.4M332.5 1789.4V1869.4M344.5 1789.4V1869.4M356.5 1789.4V1869.4M368.5 1789.4V1869.4M380.5 1789.4V1869.4M392.5 1789.4V1869.4M404.5 1789.4V1869.4M416.5 1789.4V1869.4M428.5 1789.4V1869.4M440.5 1789.4V1869.4M452.5 1789.4V1869.4M464.5 1789.4V1869.4M476.5 1789.4V1869.4M488.5 1789.4V1869.4M500.5 1789.4V1869.4M512.5 1789.4V1869.4M524.5 1789.4V1869.4M536.5 1789.4V1869.4M548.5 1789.4V1869.4M560.5 1789.4V1869.4M572.5 1789.4V1869.4M584.5 1789.4V1869.4M596.5 1789.4V1869.4M608.5 1789.4V1869.4M620.5 1789.4V1869.4M632.5 1789.4V1869.4M644.5 1789.4V1869.4M656.5 1789.4V1869.4M668.5 1789.4V1869.4M680.5 1789.4V1869.4M692.5 1789.4V1869.4M704.5 1789.4V1869.4M716.5 1789.4V1869.4M728.5 1789.4V1869.4M740.5 1789.4V1869.4M752.5 1789.4V1869.4M764.5 1789.4V1869.4M776.5 1789.4V1869.4M788.5 1789.4V1869.4M800.5 1789.4V1869.4M812.5 1789.4V1869.4M824.5 1789.4V1869.4M836.5 1789.4V1869.4M848.5 1789.4V1869.4M860.5 1789.4V1869.4M872.5 1789.4V1869.4M884.5 1789.4V1869.4M896.5 1789.4V1869.4M908.5 1789.4V1869.4M920.5 1789.4V1869.4M932.5 1789.4V1869.4M944.5 1789.4V1869.4M956.5 1789.4V1869.4M968.5 1789.4V1869.4M980.5 1789.4V1869.4M992.5 1789.4V1869.4M1004.5 1789.4V1869.4M1016.5 1789.4V1869.4M1028.5 1789.4V1869.4M1040.5 1789.4V1869.4M1052.5 1789.4V1869.4M1064.5 1789.4V1869.4M1076.5 1789.4V1869.4M1088.5 1789.4V1869.4M1100.5 1789.4V1869.4M1112.5 1789.4V1869.4M1124.5 1789.4V1869.4M1136.5 1789.4V1869.4M1148.5 1789.4V1869.4M1160.5 1789.4V1869.4M1172.5 1789.4V1869.4M1184.5 1789.4V1869.4M1196.5 1789.4V1869.4M1208.5 1789.4V1869.4M1220.5 1789.4V1869.4M1232.5 1789.4V1869.4M1244.5 1789.4V1869.4M1256.5 1789.4V1869.4M1268.5 1789.4V1869.4M1280.5 1789.4V1869.4M1292.5 1789.4V1869.4M1304.5 1789.4V1869.4M1316.5 1789.4V1869.4M1328.5 1789.4V1869.4M1340.5 1789.4V1869.4M1352.5 1789.4V1869.4M1364.5 1789.4V1869.4M1376.5 1789.4V1869.4M1388.5 1789.4V1869.4M1400.5 1789.4V1869.4M1412.5 1789.4V1869.4M1424.5 1789.4V1869.4M1436.5 1789.4V1869.4M1448.5 1789.4V1869.4M1460.5 1789.4V1869.4M1472.5 1789.4V1869.4M1484.5 1789.4V1869.4M1496.5 1789.4V1869.4M1508.5 1789.4V1869.4M1520.5 1789.4V1869.4M1532.5 1789.4V1869.4M1544.5 1789.4V1869.4" stroke="#ffb066" stroke-width="1" stroke-dasharray="1 1" shape-rendering="crispEdges"/>
<path d="M1642.5 44V1883.5" stroke="#000" stroke-width="1.3"/>
<path d="M2 1883.5H1642.5" stroke="#000" stroke-width="1.3"/>
<path d="M44.5 1883.5v6" stroke="#000" stroke-width="1.3"/>
<text x="46.1" y="1902" font-size="16" fill="#000" font-weight="bold" >Mai</text>
<path d="M308.5 1883.5v6" stroke="#000" stroke-width="1.3"/>
<text x="310.1" y="1902" font-size="16" fill="#000" font-weight="bold" >Jun</text>
<path d="M560.5 1883.5v6" stroke="#000" stroke-width="1.3"/>
<text x="562.1" y="1902" font-size="16" fill="#000" font-weight="bold" >Jul</text>
<path d="M800.5 1883.5v6" stroke="#000" stroke-width="1.3"/>
<text x="802.1" y="1902" font-size="16" fill="#000" font-weight="bold" >Aug</text>
<path d="M1076.5 1883.5v6" stroke="#000" stroke-width="1.3"/>
<text x="1078.1" y="1902" font-size="16" fill="#000" font-weight="bold" >Sep</text>
<path d="M1316.5 1883.5v6" stroke="#000" stroke-width="1.3"/>
<text x="1318.1" y="1902" font-size="16" fill="#000" font-weight="bold" >Okt</text>
<path d="M1580.5 1883.5v6" stroke="#000" stroke-width="1.3"/>
<text x="1582.1" y="1902" font-size="16" fill="#000" font-weight="bold" >Nov</text>
<clipPath id="cptop"><rect x="1644" y="44" width="100" height="228.6"/></clipPath>
<path d="M1642.5 133.3h3.6" stroke="#000" stroke-width="1.1"/>
<text x="1651.2" y="138.2" font-size="16.2" fill="#000" font-weight="bold" textLength="81.5" lengthAdjust="spacingAndGlyphs" clip-path="url(#cptop)">2.000,0000</text>
<path d="M1642.5 167.4h3.6" stroke="#000" stroke-width="1.1"/>
<text x="1651.2" y="172.3" font-size="16.2" fill="#000" font-weight="bold" textLength="81.5" lengthAdjust="spacingAndGlyphs" clip-path="url(#cptop)">1.950,0000</text>
<path d="M1642.5 201.4h3.6" stroke="#000" stroke-width="1.1"/>
<text x="1651.2" y="206.3" font-size="16.2" fill="#000" font-weight="bold" textLength="81.5" lengthAdjust="spacingAndGlyphs" clip-path="url(#cptop)">1.900,0000</text>
<path d="M1642.5 235.5h3.6" stroke="#000" stroke-width="1.1"/>
<text x="1651.2" y="240.4" font-size="16.2" fill="#000" font-weight="bold" textLength="81.5" lengthAdjust="spacingAndGlyphs" clip-path="url(#cptop)">1.850,0000</text>
<path d="M1642.5 269.5h3.6" stroke="#000" stroke-width="1.1"/>
<text x="1651.2" y="274.4" font-size="16.2" fill="#000" font-weight="bold" textLength="81.5" lengthAdjust="spacingAndGlyphs" clip-path="url(#cptop)">1.800,0000</text>
<path d="M1642.5 99.2h3.6" stroke="#000" stroke-width="1"/>
<path d="M1642.5 116.3h1.8" stroke="#000" stroke-width="1"/>
<path d="M1642.5 150.3h1.8" stroke="#000" stroke-width="1"/>
<path d="M1642.5 184.4h1.8" stroke="#000" stroke-width="1"/>
<path d="M1642.5 218.4h1.8" stroke="#000" stroke-width="1"/>
<path d="M1642.5 252.5h1.8" stroke="#000" stroke-width="1"/>
<path d="M1644.5 138.5 L1653.0 132.8 H1740.5 V144.2 H1653.0 Z" fill="#00ff00"/>
<text x="1653.8" y="144.3" font-size="16" fill="#fff" font-weight="bold" textLength="77.5" lengthAdjust="spacingAndGlyphs" >1.987,8700</text>
<rect x="1644" y="144.3" width="98" height="2" fill="#fff" opacity="0"/>
<path d="M1644.5 152.6 L1653.0 144.3 H1740.5 V160.8 H1653.0 Z" fill="#ff0000"/>
<text x="1653.8" y="158.4" font-size="16" fill="#fff" font-weight="bold" textLength="77.5" lengthAdjust="spacingAndGlyphs" >1.971,5799</text>
<path d="M1644.5 190.2 L1653.0 181.9 H1740.5 V198.4 H1653.0 Z" fill="#c800c8"/>
<text x="1653.8" y="196" font-size="16" fill="#fff" font-weight="bold" textLength="77.5" lengthAdjust="spacingAndGlyphs" >1.916,1607</text>
<path d="M1642.5 1356.4h3.6" stroke="#000" stroke-width="1.1"/>
<text x="1651.2" y="1361.1" font-size="16.2" fill="#000" font-weight="bold" textLength="81.5" lengthAdjust="spacingAndGlyphs" >1.720,0000</text>
<path d="M1642.5 1301.8h3.6" stroke="#000" stroke-width="1.1"/>
<text x="1651.2" y="1306.5" font-size="16.2" fill="#000" font-weight="bold" textLength="81.5" lengthAdjust="spacingAndGlyphs" >1.740,0000</text>
<path d="M1642.5 1247.1h3.6" stroke="#000" stroke-width="1.1"/>
<text x="1651.2" y="1251.8" font-size="16.2" fill="#000" font-weight="bold" textLength="81.5" lengthAdjust="spacingAndGlyphs" >1.760,0000</text>
<path d="M1642.5 1192.5h3.6" stroke="#000" stroke-width="1.1"/>
<text x="1651.2" y="1197.2" font-size="16.2" fill="#000" font-weight="bold" textLength="81.5" lengthAdjust="spacingAndGlyphs" >1.780,0000</text>
<path d="M1642.5 1137.9h3.6" stroke="#000" stroke-width="1.1"/>
<text x="1651.2" y="1142.6" font-size="16.2" fill="#000" font-weight="bold" textLength="81.5" lengthAdjust="spacingAndGlyphs" >1.800,0000</text>
<path d="M1642.5 1083.3h3.6" stroke="#000" stroke-width="1.1"/>
<text x="1651.2" y="1088" font-size="16.2" fill="#000" font-weight="bold" textLength="81.5" lengthAdjust="spacingAndGlyphs" >1.820,0000</text>
<path d="M1642.5 1028.7h3.6" stroke="#000" stroke-width="1.1"/>
<text x="1651.2" y="1033.4" font-size="16.2" fill="#000" font-weight="bold" textLength="81.5" lengthAdjust="spacingAndGlyphs" >1.840,0000</text>
<path d="M1642.5 974h3.6" stroke="#000" stroke-width="1.1"/>
<text x="1651.2" y="978.7" font-size="16.2" fill="#000" font-weight="bold" textLength="81.5" lengthAdjust="spacingAndGlyphs" >1.860,0000</text>
<path d="M1642.5 919.4h3.6" stroke="#000" stroke-width="1.1"/>
<text x="1651.2" y="924.1" font-size="16.2" fill="#000" font-weight="bold" textLength="81.5" lengthAdjust="spacingAndGlyphs" >1.880,0000</text>
<path d="M1642.5 864.8h3.6" stroke="#000" stroke-width="1.1"/>
<text x="1651.2" y="869.5" font-size="16.2" fill="#000" font-weight="bold" textLength="81.5" lengthAdjust="spacingAndGlyphs" >1.900,0000</text>
<path d="M1642.5 810.2h3.6" stroke="#000" stroke-width="1.1"/>
<text x="1651.2" y="814.9" font-size="16.2" fill="#000" font-weight="bold" textLength="81.5" lengthAdjust="spacingAndGlyphs" >1.920,0000</text>
<path d="M1642.5 755.6h3.6" stroke="#000" stroke-width="1.1"/>
<text x="1651.2" y="760.3" font-size="16.2" fill="#000" font-weight="bold" textLength="81.5" lengthAdjust="spacingAndGlyphs" >1.940,0000</text>
<path d="M1642.5 700.9h3.6" stroke="#000" stroke-width="1.1"/>
<text x="1651.2" y="705.6" font-size="16.2" fill="#000" font-weight="bold" textLength="81.5" lengthAdjust="spacingAndGlyphs" >1.960,0000</text>
<path d="M1642.5 646.3h3.6" stroke="#000" stroke-width="1.1"/>
<text x="1651.2" y="651" font-size="16.2" fill="#000" font-weight="bold" textLength="81.5" lengthAdjust="spacingAndGlyphs" >1.980,0000</text>
<path d="M1642.5 591.7h3.6" stroke="#000" stroke-width="1.1"/>
<text x="1651.2" y="596.4" font-size="16.2" fill="#000" font-weight="bold" textLength="81.5" lengthAdjust="spacingAndGlyphs" >2.000,0000</text>
<path d="M1642.5 537.1h3.6" stroke="#000" stroke-width="1.1"/>
<text x="1651.2" y="541.8" font-size="16.2" fill="#000" font-weight="bold" textLength="81.5" lengthAdjust="spacingAndGlyphs" >2.020,0000</text>
<path d="M1642.5 482.5h3.6" stroke="#000" stroke-width="1.1"/>
<text x="1651.2" y="487.2" font-size="16.2" fill="#000" font-weight="bold" textLength="81.5" lengthAdjust="spacingAndGlyphs" >2.040,0000</text>
<path d="M1642.5 427.8h3.6" stroke="#000" stroke-width="1.1"/>
<text x="1651.2" y="432.5" font-size="16.2" fill="#000" font-weight="bold" textLength="81.5" lengthAdjust="spacingAndGlyphs" >2.060,0000</text>
<path d="M1642.5 373.2h3.6" stroke="#000" stroke-width="1.1"/>
<text x="1651.2" y="377.9" font-size="16.2" fill="#000" font-weight="bold" textLength="81.5" lengthAdjust="spacingAndGlyphs" >2.080,0000</text>
<path d="M1642.5 318.6h3.6" stroke="#000" stroke-width="1.1"/>
<text x="1651.2" y="323.3" font-size="16.2" fill="#000" font-weight="bold" textLength="81.5" lengthAdjust="spacingAndGlyphs" >2.100,0000</text>
<path d="M1642.5 1383.7h1.8" stroke="#000" stroke-width="1"/>
<path d="M1642.5 1329.1h1.8" stroke="#000" stroke-width="1"/>
<path d="M1642.5 1274.4h1.8" stroke="#000" stroke-width="1"/>
<path d="M1642.5 1219.8h1.8" stroke="#000" stroke-width="1"/>
<path d="M1642.5 1165.2h1.8" stroke="#000" stroke-width="1"/>
<path d="M1642.5 1110.6h1.8" stroke="#000" stroke-width="1"/>
<path d="M1642.5 1056h1.8" stroke="#000" stroke-width="1"/>
<path d="M1642.5 1001.4h1.8" stroke="#000" stroke-width="1"/>
<path d="M1642.5 946.7h1.8" stroke="#000" stroke-width="1"/>
<path d="M1642.5 892.1h1.8" stroke="#000" stroke-width="1"/>
<path d="M1642.5 837.5h1.8" stroke="#000" stroke-width="1"/>
<path d="M1642.5 782.9h1.8" stroke="#000" stroke-width="1"/>
<path d="M1642.5 728.2h1.8" stroke="#000" stroke-width="1"/>
<path d="M1642.5 673.6h1.8" stroke="#000" stroke-width="1"/>
<path d="M1642.5 619h1.8" stroke="#000" stroke-width="1"/>
<path d="M1642.5 564.4h1.8" stroke="#000" stroke-width="1"/>
<path d="M1642.5 509.8h1.8" stroke="#000" stroke-width="1"/>
<path d="M1642.5 455.1h1.8" stroke="#000" stroke-width="1"/>
<path d="M1642.5 400.5h1.8" stroke="#000" stroke-width="1"/>
<path d="M1642.5 345.9h1.8" stroke="#000" stroke-width="1"/>
<path d="M1642.5 291.3h1.8" stroke="#000" stroke-width="1"/>
<path d="M1644.5 624.8 L1653.0 616.6 H1740.5 V633.1 H1653.0 Z" fill="#c0c0c0"/>
<text x="1653.8" y="630.6" font-size="16" fill="#fff" font-weight="bold" textLength="77.5" lengthAdjust="spacingAndGlyphs" >1.987,8700</text>
<path d="M1644.5 715 L1653.0 706.8 H1740.5 V723.3 H1653.0 Z" fill="#0000ff"/>
<text x="1653.8" y="720.8" font-size="16" fill="#fff" font-weight="bold" textLength="77.5" lengthAdjust="spacingAndGlyphs" >1.954,8500</text>
<path d="M1644.5 784.6 L1653.0 776.4 H1740.5 V792.9 H1653.0 Z" fill="#00ff00"/>
<text x="1653.8" y="790.4" font-size="16" fill="#fff" font-weight="bold" textLength="77.5" lengthAdjust="spacingAndGlyphs" >1.929,3600</text>
<path d="M1644.5 854.2 L1653.0 846 H1740.5 V862.5 H1653.0 Z" fill="#ff0000"/>
<text x="1653.8" y="860" font-size="16" fill="#fff" font-weight="bold" textLength="77.5" lengthAdjust="spacingAndGlyphs" >1.903,8700</text>
<path d="M1642.5 1460.5h5" stroke="#000" stroke-width="1.2"/>
<text x="1652" y="1466.3" font-size="16.2" fill="#000" font-weight="bold" textLength="31" lengthAdjust="spacingAndGlyphs" >0,00</text>
<clipPath id="cpice"><rect x="1644" y="1500" width="100" height="39"/></clipPath>
<text x="1652" y="1545.5" font-size="16.2" fill="#000" font-weight="bold" textLength="31" lengthAdjust="spacingAndGlyphs" clip-path="url(#cpice)">0,00</text>
<path d="M1644.5 1574.8 L1653.0 1566.3 H1740.5 V1583.3 H1653.0 Z" fill="#00ff00"/>
<text x="1653.5" y="1580.8" font-size="16.8" fill="#fff" font-weight="bold" textLength="49.5" lengthAdjust="spacingAndGlyphs" >1,2000</text>
<path d="M1644.5 1592.9 L1653.0 1584.4 H1740.5 V1601.4 H1653.0 Z" fill="#ff0000"/>
<text x="1653.5" y="1598.9" font-size="16.8" fill="#fff" font-weight="bold" textLength="49.5" lengthAdjust="spacingAndGlyphs" >1,1000</text>
<path d="M1644.5 1611.8 L1653.0 1603.3 H1740.5 V1620.3 H1653.0 Z" fill="#00ff00"/>
<text x="1653.5" y="1617.8" font-size="16.8" fill="#fff" font-weight="bold" textLength="49.5" lengthAdjust="spacingAndGlyphs" >1,0000</text>
<path d="M1644.5 1629.7 L1653.0 1621.2 H1740.5 V1638.2 H1653.0 Z" fill="#00ff00"/>
<text x="1653.5" y="1635.7" font-size="16.8" fill="#fff" font-weight="bold" textLength="49.5" lengthAdjust="spacingAndGlyphs" >0,9000</text>
<path d="M1644.5 1648.5 L1653.0 1640 H1740.5 V1657 H1653.0 Z" fill="#000000"/>
<text x="1653.5" y="1654.5" font-size="16.8" fill="#fff" font-weight="bold" textLength="49.5" lengthAdjust="spacingAndGlyphs" >0,8000</text>
<path d="M1644.5 1666.6 L1653.0 1658.1 H1740.5 V1675.1 H1653.0 Z" fill="#00ff00"/>
<text x="1653.5" y="1672.6" font-size="16.8" fill="#fff" font-weight="bold" textLength="49.5" lengthAdjust="spacingAndGlyphs" >0,7000</text>
<path d="M1644.5 1709.6 L1653.0 1701.1 H1740.5 V1718.1 H1653.0 Z" fill="#00ff00"/>
<text x="1653.5" y="1715.6" font-size="16.8" fill="#fff" font-weight="bold" textLength="31.8" lengthAdjust="spacingAndGlyphs" >4,00</text>
<path d="M1644.5 1729.6 L1653.0 1721.1 H1740.5 V1738.1 H1653.0 Z" fill="#98fb98"/>
<text x="1653.5" y="1735.6" font-size="16.8" fill="#fff" font-weight="bold" textLength="31.8" lengthAdjust="spacingAndGlyphs" >3,00</text>
<path d="M1644.5 1749.6 L1653.0 1741.1 H1740.5 V1758.1 H1653.0 Z" fill="#98fb98"/>
<text x="1653.5" y="1755.6" font-size="16.8" fill="#fff" font-weight="bold" textLength="31.8" lengthAdjust="spacingAndGlyphs" >2,00</text>
<path d="M1644.5 1769.6 L1653.0 1761.1 H1740.5 V1778.1 H1653.0 Z" fill="#98fb98"/>
<text x="1653.5" y="1775.6" font-size="16.8" fill="#fff" font-weight="bold" textLength="31.8" lengthAdjust="spacingAndGlyphs" >1,00</text>
<path d="M1644.5 1789.6 L1653.0 1781.1 H1740.5 V1798.1 H1653.0 Z" fill="#00ffff"/>
<text x="1653.5" y="1795.6" font-size="16.8" fill="#fff" font-weight="bold" textLength="31.8" lengthAdjust="spacingAndGlyphs" >0,00</text>
<path d="M1644.5 1809.6 L1653.0 1801.1 H1740.5 V1818.1 H1653.0 Z" fill="#ffab5c"/>
<text x="1653.5" y="1815.6" font-size="16.8" fill="#fff" font-weight="bold" textLength="37.4" lengthAdjust="spacingAndGlyphs" >-1,00</text>
<path d="M1644.5 1829.6 L1653.0 1821.1 H1740.5 V1838.1 H1653.0 Z" fill="#ffab5c"/>
<text x="1653.5" y="1835.6" font-size="16.8" fill="#fff" font-weight="bold" textLength="37.4" lengthAdjust="spacingAndGlyphs" >-2,00</text>
<path d="M1644.5 1849.6 L1653.0 1841.1 H1740.5 V1858.1 H1653.0 Z" fill="#ffab5c"/>
<text x="1653.5" y="1855.6" font-size="16.8" fill="#fff" font-weight="bold" textLength="37.4" lengthAdjust="spacingAndGlyphs" >-3,00</text>
<path d="M1644.5 1869.6 L1653.0 1861.1 H1740.5 V1878.1 H1653.0 Z" fill="#ff0000"/>
<text x="1653.5" y="1875.6" font-size="16.8" fill="#fff" font-weight="bold" textLength="37.4" lengthAdjust="spacingAndGlyphs" >-4,00</text>
</svg>
</body></html>
